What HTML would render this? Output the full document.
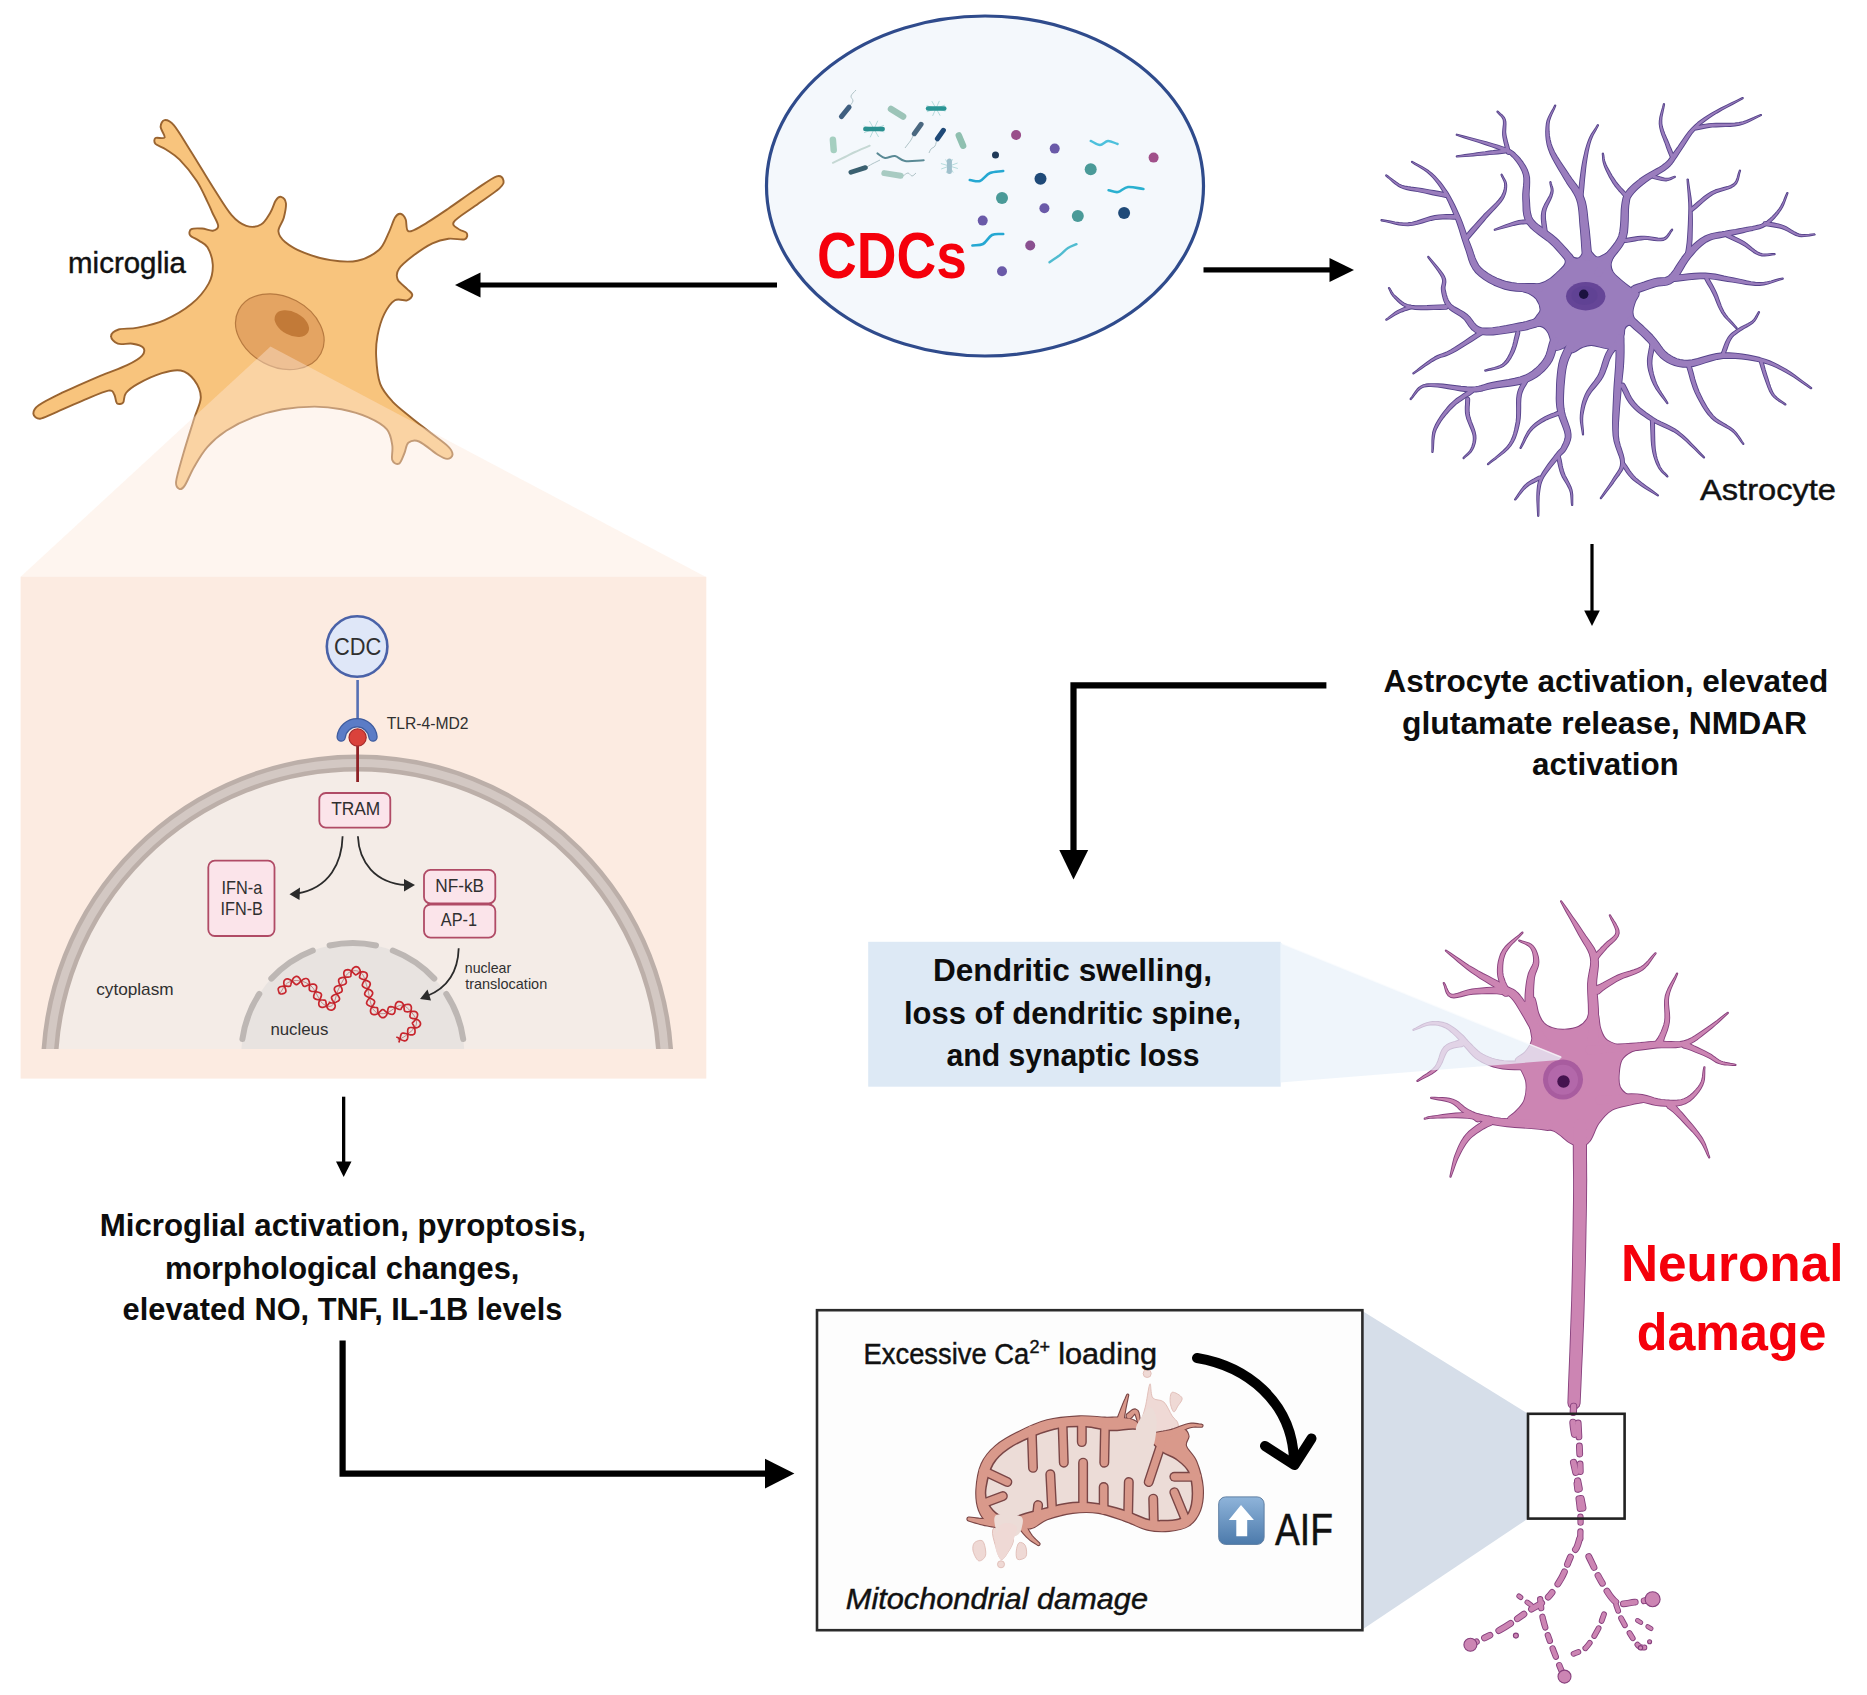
<!DOCTYPE html>
<html><head><meta charset="utf-8"><title>CDC neuroinflammation diagram</title>
<style>html,body{margin:0;padding:0;background:#fff;}svg{display:block;}</style></head>
<body><svg width="1867" height="1695" viewBox="0 0 1867 1695" font-family='"Liberation Sans", sans-serif'><rect x="20.6" y="576.7" width="685.7" height="501.9" fill="#fcebe1"/>
<path d="M164.6 120.1C166.8 119.9 169.5 120.1 174 125.4C178.5 130.8 184.9 142 191.4 152.2C197.9 162.5 206.1 176.5 212.8 187C219.5 197.5 226 208.7 231.6 215.2C237.1 221.6 241.4 224.3 246.3 225.9C251.2 227.4 257 226.8 261 224.5C265 222.3 267.9 216.5 270.4 212.5C272.9 208.5 274 203 275.8 200.4C277.5 197.8 279.4 196.5 281.1 196.9C282.8 197.4 285.5 199.6 285.9 203.1C286.4 206.6 285 213.1 283.8 217.8C282.5 222.5 278.2 227.2 278.4 231.2C278.7 235.2 280.9 238.4 285.1 241.9C289.4 245.5 296.3 249.6 303.9 252.7C311.5 255.7 321.7 258.8 330.7 260.1C339.6 261.5 349.4 262.4 357.4 260.7C365.5 259 373.7 254.4 378.9 250C384 245.5 385.6 239.3 388.2 233.9C390.9 228.5 392.9 221.2 394.9 217.8C396.9 214.5 398.5 213.6 400.3 213.8C402.1 214 404.3 216.3 405.6 219.2C407 222.1 405.6 230.1 408.3 231.2C411 232.3 415 229.7 421.7 225.9C428.4 222.1 439.6 214.5 448.5 208.5C457.4 202.4 467.2 195.1 475.3 189.7C483.3 184.4 492 177.9 496.7 176.3C501.4 174.8 502.9 178.3 503.4 180.3C503.8 182.4 504.1 184.1 499.4 188.4C494.7 192.6 482.9 200.2 475.3 205.8C467.7 211.4 456.5 217.9 453.9 221.9C451.2 225.8 457.1 227.5 459.2 229.4C461.3 231.2 465.8 231.4 466.7 233.1C467.6 234.8 467.6 238.3 464.6 239.3C461.5 240.2 453.9 238.1 448.5 238.7C443.1 239.4 438.2 240.5 432.4 243.3C426.6 246 419.3 251.1 413.7 255.3C408.1 259.6 401.6 264.7 399 268.7C396.3 272.7 396.3 276.1 397.6 279.4C399 282.8 404.5 286.2 407 288.8C409.4 291.4 412.3 293 412.3 295C412.3 296.9 409.9 299.4 407 300.3C404.1 301.2 398.7 298 394.9 300.3C391.1 302.6 387.1 308.4 384.2 314.2C381.3 320.1 378.9 328.5 377.5 335.7C376.2 342.8 375.7 349.1 376.2 357.1C376.6 365.1 377.5 376.5 380.2 383.9C382.9 391.2 387.1 395.7 392.3 401.3C397.4 406.9 404.8 412.2 411 417.4C417.3 422.5 423.5 427.2 429.7 432.1C436 437 444.7 443 448.5 446.8C452.3 450.6 452.7 452.8 452.5 454.8C452.3 456.9 449.6 458.9 447.2 458.9C444.7 458.9 442.5 457.7 437.8 454.8C433.1 451.9 423.9 443.5 419 441.5C414.1 439.4 410.8 440.8 408.3 442.8C405.9 444.8 405.9 450 404.3 453.5C402.7 457 401 462.6 399 463.7C396.9 464.8 393.4 463.2 392.3 460.2C391.1 457.2 393.1 450.6 392.3 445.5C391.4 440.3 390.9 434.1 386.9 429.4C382.9 424.7 375.7 420.7 368.2 417.4C360.6 414 350.3 411.1 341.4 409.3C332.4 407.5 324.4 406.6 314.6 406.6C304.8 406.6 292.7 407.5 282.5 409.3C272.2 411.1 262.4 413.8 253 417.4C243.6 420.9 233.8 425.8 226.2 430.7C218.6 435.7 212.8 440.8 207.5 446.8C202.1 452.8 197.9 460.4 194.1 466.9C190.3 473.4 187.2 482 184.7 485.6C182.2 489.3 180.8 489.5 179.3 488.9C177.9 488.2 175.5 487.5 176.1 481.6C176.8 475.7 180.4 464 183.4 453.5C186.4 443 191.2 428.1 194.1 418.7C197 409.3 200.8 403.7 200.8 397.3C200.8 390.8 197.4 384.3 194.1 379.9C190.7 375.4 186 371.6 180.7 370.5C175.3 369.4 169.1 370.9 161.9 373.2C154.8 375.4 143.9 380.5 137.8 383.9C131.8 387.2 128.2 390.1 125.8 393.3C123.3 396.4 124.6 401 123.1 402.6C121.6 404.3 118.4 404.5 116.9 403.2C115.5 401.8 115.7 396.7 114.3 394.6C112.8 392.5 113.4 389.7 108.4 390.6C103.4 391.5 93.2 396.2 84.3 399.9C75.3 403.7 62.2 409.7 54.8 412.8C47.5 415.9 43.7 418.5 40.1 418.7C36.5 418.9 33.6 416.1 33.4 413.9C33.2 411.6 33.8 408.9 38.7 405.3C43.7 401.7 52.6 397.4 62.8 392.4C73.1 387.5 89.6 380.4 100.3 375.8C111.1 371.3 120.2 368.5 127.1 365.1C134 361.8 139.2 358.7 141.9 355.8C144.5 352.9 144.8 349.7 143.2 347.7C141.6 345.7 136.7 344.4 132.5 343.7C128.2 343 121.3 345 117.8 343.7C114.2 342.5 110.9 338.6 111.1 336.2C111.2 333.8 114.1 330.9 118.6 329.5C123 328.1 130.2 329.2 137.8 327.6C145.5 326.1 155.7 324.1 164.6 320.1C173.5 316.2 184 310.2 191.4 304.1C198.8 298 205.2 290 208.8 283.4C212.4 276.9 213 270.7 212.8 264.7C212.6 258.7 209.8 251.3 207.5 247.3C205.1 243.3 201.8 242.6 198.9 240.6C196 238.6 191.3 237.2 190.1 235.2C188.8 233.3 189.4 230.2 191.4 229.1C193.4 228 198.5 228.3 202.1 228.5C205.7 228.8 210.1 231.1 212.8 230.7C215.5 230.2 218.3 228.9 218.2 225.9C218.1 222.8 214.1 216.5 212.3 212.5C210.5 208.5 210.1 207 207.5 201.8C204.9 196.5 201.4 187.9 196.8 180.9C192.1 173.9 184.7 164.9 179.6 159.7C174.5 154.5 170 152.2 166 149.5C161.9 146.9 157.3 145.8 155.5 143.9C153.8 142 154 139.1 155.5 138C157 137 163.8 139.4 164.6 137.5C165.5 135.6 160.6 129.7 160.6 126.8C160.6 123.9 162.4 120.3 164.6 120.1Z" fill="#f8c47d" stroke="#9a6430" stroke-width="1.9" stroke-linejoin="round"/><ellipse cx="279.8" cy="331.7" rx="46.5" ry="35" transform="rotate(28 279.8 331.7)" fill="#e4a462" stroke="#b77a40" stroke-width="1.2"/><ellipse cx="291.8" cy="323.6" rx="18.5" ry="11.5" transform="rotate(28 291.8 323.6)" fill="#c27a38"/>
<polygon points="270.5,346.5 20.6,576.7 705.5,576.7" fill="#fce6da" fill-opacity="0.42"/>
<defs><clipPath id="cpan"><rect x="20" y="576" width="687" height="473"/></clipPath></defs><g clip-path="url(#cpan)"><circle cx="357.3" cy="1071" r="300" fill="#f4ece7"/><circle cx="357.3" cy="1071" r="308" fill="none" stroke="#bcafa9" stroke-width="17"/><circle cx="357.3" cy="1071" r="308" fill="none" stroke="#d3c8c3" stroke-width="8"/><circle cx="352.8" cy="1054.6" r="111.5" fill="#e8e3e0"/><path d="M242.4 1039.1A111.5 111.5 0 0 1 259.3 993.9" fill="none" stroke="#bdb7b4" stroke-width="6" stroke-linecap="round"/><path d="M271.3 978.6A111.5 111.5 0 0 1 312.8 950.5" fill="none" stroke="#bdb7b4" stroke-width="6" stroke-linecap="round"/><path d="M329.6 945.5A111.5 111.5 0 0 1 376 945.5" fill="none" stroke="#bdb7b4" stroke-width="6" stroke-linecap="round"/><path d="M392.8 950.5A111.5 111.5 0 0 1 434.3 978.6" fill="none" stroke="#bdb7b4" stroke-width="6" stroke-linecap="round"/><path d="M446.3 993.9A111.5 111.5 0 0 1 463.2 1039.1" fill="none" stroke="#bdb7b4" stroke-width="6" stroke-linecap="round"/></g><line x1="357.6" y1="680" x2="357.6" y2="722" stroke="#5670b4" stroke-width="2.6"/><circle cx="357.1" cy="646.5" r="30.3" fill="#dfe7f8" stroke="#4a62a8" stroke-width="2.6"/><line x1="357.6" y1="742" x2="357.6" y2="782" stroke="#8e2226" stroke-width="2.8"/><path d="M341.2 737A16 16 0 0 1 373 737" fill="none" stroke="#3f5c9e" stroke-width="9.5" stroke-linecap="round"/><path d="M341.2 737A16 16 0 0 1 373 737" fill="none" stroke="#5b7cc6" stroke-width="7" stroke-linecap="round"/><circle cx="357.6" cy="737.5" r="8.6" fill="#da423b" stroke="#a52a2a" stroke-width="1.2"/><rect x="319.3" y="793" width="71" height="34.6" rx="6.5" fill="#fbe4ea" stroke="#b04b66" stroke-width="1.8"/><rect x="208.3" y="860.7" width="66.2" height="75.3" rx="6.5" fill="#fbe4ea" stroke="#b04b66" stroke-width="1.8"/><rect x="424" y="869.9" width="71.3" height="33.5" rx="6.5" fill="#fbe4ea" stroke="#b04b66" stroke-width="1.8"/><rect x="424" y="904.5" width="71.3" height="33.1" rx="6.5" fill="#fbe4ea" stroke="#b04b66" stroke-width="1.8"/><path d="M342.6 836.3C342 862 330 888 297 893.5" fill="none" stroke="#2b2b2b" stroke-width="1.8"/><polygon points="289.5,894.3 300,887.5 299.5,900" fill="#2b2b2b"/><path d="M357.9 836.3C359 862 375 883 406 885" fill="none" stroke="#2b2b2b" stroke-width="1.8"/><polygon points="415,885.1 404,879 404,891.5" fill="#2b2b2b"/><path d="M458.7 948.2C458 972 447 988 427 996" fill="none" stroke="#2b2b2b" stroke-width="1.8"/><polygon points="420,999.1 427.5,989.5 431,1000.5" fill="#2b2b2b"/><path d="M279.6 994 280.8 994 282 993.9 283.1 993.7 284 993.4 284.8 992.9 285.4 992.4 285.8 991.8 285.9 991 285.8 990.1 285.6 989.2 285.2 988.1 284.8 987.1 284.4 985.9 284.1 984.8 283.8 983.7 283.8 982.6 283.9 981.6 284.2 980.7 284.8 980 285.4 979.4 286.2 979 287.1 978.9 288 978.9 288.9 979.2 289.8 979.6 290.7 980.1 291.6 980.8 292.4 981.5 293.2 982.2 293.9 982.9 294.5 983.5 295.1 984 295.7 984.4 296.2 984.6 296.7 984.6 297.2 984.4 297.8 984.1 298.3 983.6 299 983.1 299.6 982.4 300.4 981.7 301.1 981 302 980.3 302.8 979.6 303.7 979.1 304.6 978.7 305.5 978.5 306.3 978.5 307.1 978.7 307.8 979.1 308.4 979.7 308.8 980.6 309.2 981.6 309.4 982.7 309.5 983.9 309.5 985.2 309.4 986.4 309.3 987.6 309.3 988.6 309.3 989.5 309.5 990.1 309.9 990.6 310.6 991 311.7 991.3 313.2 991.5 314.9 991.7 316.7 991.9 318.4 992.2 319.8 992.7 320.8 993.4 321.4 994.4 321.4 995.6 321 996.9 320.4 998.4 319.8 999.9 319.2 1001.4 318.8 1002.8 318.8 1004.1 319 1005.3 319.5 1006.2 320.2 1006.8 321 1007.2 321.9 1007.3 322.8 1007.3 323.8 1007.2 324.8 1006.8 325.7 1006.4 326.6 1005.9 327.4 1005.3 328 1004.7 328.5 1004.1 328.9 1003.6 329.2 1003.1 329.4 1002.7 329.5 1002.5 329.5 1002.3 329.6 1002.3 329.7 1002.3 329.9 1002.4 330.2 1002.6 330.6 1002.9 331.3 1003 332.3 1003 333.4 1002.9 334.7 1002.6 336 1002.2 337.2 1001.6 338.3 1001 339.1 1000.2 339.5 999.3 339.5 998.2 339 997.1 338.3 995.9 337.3 994.6 336.2 993.2 335.3 991.8 334.6 990.5 334.3 989.2 334.5 988.1 335 987.2 335.9 986.5 337.1 986 338.6 985.7 340.4 985.4 342.1 985.1 343.7 984.7 345 984.2 345.9 983.5 346.3 982.6 346.3 981.4 345.9 980 345.3 978.5 344.7 976.9 344.1 975.4 343.8 973.9 343.8 972.6 344.2 971.5 344.8 970.7 345.7 970.1 346.7 969.8 347.8 969.7 348.9 969.9 350 970.3 351.1 970.9 352 971.6 352.8 972.3 353.5 973 354.1 973.7 354.6 974.2 355.1 974.6 355.5 974.8 355.9 974.8 356.4 974.7 356.9 974.4 357.4 974 358.1 973.5 358.8 973 359.7 972.5 360.6 972.1 361.6 971.8 362.6 971.7 363.7 971.8 364.7 972 365.6 972.5 366.4 973 366.9 973.7 367.2 974.6 367.3 975.5 367.1 976.5 366.6 977.6 365.9 978.7 365.1 979.9 364.2 981 363.4 982.2 362.8 983.3 362.4 984.4 362.3 985.4 362.7 986.3 363.5 987.1 364.6 987.7 366 988.3 367.7 988.9 369.5 989.6 371.1 990.5 372.2 991.6 372.7 992.8 372.5 994.2 371.6 995.7 370.2 997.3 368.6 999 367.4 1000.6 366.7 1002.1 366.6 1003.5 367.3 1004.7 368.6 1005.6 370.2 1006.3 372 1006.9 373.6 1007.2 374.9 1007.4 375.9 1007.5 376.7 1007.6 377.2 1007.8 377.5 1008.1 377.6 1008.5 377.7 1009.1 377.7 1009.9 377.8 1010.8 377.9 1011.7 378.2 1012.8 378.5 1013.8 379 1014.8 379.6 1015.7 380.3 1016.5 381.1 1017.1 381.9 1017.6 382.7 1017.7 383.6 1017.7 384.3 1017.4 385.1 1016.8 385.9 1016 386.6 1015 387.1 1013.7 387.5 1012.3 387.7 1010.8 387.9 1009.4 388.2 1008.2 388.7 1007.3 389.5 1006.8 390.7 1006.7 392.1 1006.8 393.7 1007.3 395.4 1007.9 397 1008.5 398.3 1009.1 399.4 1009.4 400.2 1009.5 400.7 1009.4 401.1 1009.1 401.3 1008.5 401.5 1007.9 402.1 1007.1 402.9 1006.3 403.9 1005.6 405.1 1004.9 406.4 1004.5 407.7 1004.3 409 1004.4 410 1004.8 410.7 1005.5 411.2 1006.6 411.4 1007.8 411.3 1009.2 411 1010.7 410.7 1012.1 410.3 1013.5 410.1 1014.7 409.9 1015.7 410 1016.6 410.2 1017.2 410.6 1017.7 411 1018 411.6 1018.3 412.2 1018.4 413 1018.6 413.8 1018.7 414.7 1018.9 415.6 1019.1 416.5 1019.3 417.4 1019.7 418.2 1020.1 418.9 1020.6 419.5 1021.2 420 1021.9 420.3 1022.6 420.5 1023.3 420.5 1024.1 420.3 1024.9 420 1025.6 419.5 1026.2 418.9 1026.8 418 1027.3 417 1027.7 415.9 1027.8 414.8 1027.9 413.6 1027.8 412.4 1027.6 411.3 1027.5 410.2 1027.5 409.4 1027.7 408.7 1028 408.2 1028.6 407.9 1029.3 407.7 1030.3 407.7 1031.5 407.7 1032.7 407.7 1034 407.8 1035.2 407.8 1036.4 407.7 1037.4 407.6 1038.2 407.4 1038.9 407 1039.6 406.6 1040.1 406.1 1040.4 405.5 1040.7 404.9 1040.8 404.3 1040.8 403.7 1040.7 403.1 1040.5 402.5 1040.3 401.8 1040 401.2 1039.7 400.6 1039.3 400 1038.9 399.4 1038.6 398.8 1038.2 398.2 1037.8 397.5 1037.5 396.9 1037.3 396.3 1037.1" fill="none" stroke="#c8262e" stroke-width="1.7"/><path d="M279.6 994 279.2 992.9 278.8 991.8 278.5 990.8 278.3 989.9 278.2 989 278.4 988.3 278.8 987.7 279.4 987.2 280.2 986.8 281.2 986.5 282.3 986.3 283.5 986.2 284.7 986.1 285.9 986.2 286.9 986.2 287.9 986.3 288.6 986.3 289.2 986.4 289.6 986.3 290 986.2 290.2 985.9 290.5 985.5 290.7 984.9 290.9 984.2 291.1 983.4 291.4 982.4 291.8 981.4 292.2 980.4 292.7 979.4 293.2 978.5 293.9 977.7 294.6 977.1 295.3 976.7 296.1 976.4 296.8 976.4 297.6 976.6 298.3 977 299 977.6 299.6 978.4 300.2 979.2 300.7 980.1 301.1 981.1 301.5 982.1 301.9 983 302.2 983.9 302.6 984.7 303 985.4 303.4 985.9 303.8 986.2 304.4 986.3 305 986.3 305.8 986.1 306.6 985.8 307.6 985.4 308.7 985 309.9 984.6 311.2 984.3 312.4 984.1 313.6 984.1 314.7 984.3 315.6 984.9 316.3 985.7 316.7 986.8 316.6 988.2 316.2 989.7 315.6 991.3 314.8 992.9 314.1 994.5 313.7 995.9 313.7 997.2 314.2 998.1 315.2 998.9 316.5 999.4 318.1 999.7 319.8 999.9 321.4 1000 322.7 1000 323.8 1000.1 324.6 1000.1 325.1 1000.2 325.4 1000.5 325.7 1001 325.9 1001.6 326 1002.3 326.1 1003.1 326.2 1004 326.4 1005 326.6 1005.9 326.9 1006.9 327.3 1007.8 327.8 1008.6 328.5 1009.2 329.3 1009.7 330.1 1010 331 1010.2 331.9 1010.1 332.8 1009.8 333.6 1009.3 334.3 1008.6 334.8 1007.8 335.1 1006.7 335.2 1005.6 334.9 1004.5 334.4 1003.3 333.8 1002.2 333 1001.1 332.3 1000 331.8 999 331.5 998 331.6 997.1 332.1 996.3 333.1 995.5 334.4 994.8 335.9 994.2 337.6 993.6 339.1 993.1 340.4 992.6 341.4 992 341.9 991.4 342.2 990.6 342.1 989.6 341.8 988.3 341.1 986.9 340.3 985.4 339.5 983.8 338.9 982.3 338.6 980.9 338.7 979.7 339.3 978.7 340.4 978.1 341.8 977.6 343.5 977.4 345.2 977.3 346.8 977.2 348.2 977.2 349.3 977 350.1 976.8 350.6 976.5 350.8 976 350.9 975.4 350.9 974.7 351 973.8 351.1 972.8 351.4 971.7 351.7 970.6 352.2 969.6 352.8 968.6 353.5 967.8 354.4 967.2 355.2 966.8 356.1 966.6 357 966.8 357.8 967.1 358.6 967.7 359.2 968.5 359.7 969.4 360.1 970.3 360.3 971.4 360.4 972.4 360.4 973.4 360.2 974.2 360 975 359.8 975.7 359.6 976.4 359.5 976.9 359.6 977.4 359.9 977.9 360.5 978.3 361.2 978.7 362.3 979.1 363.5 979.5 364.8 980 366.2 980.4 367.5 980.9 368.7 981.5 369.6 982.2 370.1 983 370.3 983.9 370.1 984.9 369.6 986.1 368.8 987.5 367.7 988.9 366.4 990.4 365.4 991.8 364.7 993.2 364.7 994.4 365.5 995.6 366.9 996.6 368.9 997.6 370.9 998.5 372.7 999.4 374 1000.4 374.6 1001.5 374.5 1002.7 373.9 1004 373 1005.4 372 1006.9 371.1 1008.3 370.6 1009.8 370.5 1011.1 370.7 1012.3 371.1 1013.2 371.9 1014 372.8 1014.4 373.8 1014.7 374.9 1014.6 375.9 1014.4 377 1014 377.9 1013.4 378.8 1012.7 379.6 1012 380.3 1011.3 380.9 1010.7 381.4 1010.2 381.9 1009.8 382.5 1009.6 383 1009.6 383.6 1009.8 384.3 1010.2 384.9 1010.8 385.7 1011.5 386.6 1012.3 387.9 1013.1 389.2 1013.7 390.7 1014.1 392.1 1014.3 393.2 1014.1 394.1 1013.4 394.7 1012.4 395 1011 395.1 1009.3 395.2 1007.6 395.3 1005.9 395.6 1004.3 396.2 1003.1 397.1 1002.2 398.1 1001.7 399.4 1001.6 400.7 1001.9 401.9 1002.5 402.8 1003.5 403.4 1004.6 403.8 1005.9 404 1007.2 404.1 1008.4 404.2 1009.5 404.4 1010.4 404.8 1011.1 405.3 1011.5 406.2 1011.7 407.3 1011.8 408.6 1011.7 410.1 1011.5 411.6 1011.4 413 1011.3 414.3 1011.4 415.4 1011.6 416.2 1012 416.8 1012.5 417.2 1013.1 417.5 1013.8 417.6 1014.6 417.5 1015.4 417.3 1016.3 417 1017.2 416.6 1018.1 416.1 1018.9 415.5 1019.6 415 1020.3 414.4 1020.9 413.9 1021.4 413.5 1021.9 413 1022.2 412.7 1022.5 412.5 1022.8 412.4 1023 412.4 1023.3 412.5 1023.6 412.7 1023.9 412.9 1024.4 413.3 1024.9 413.7 1025.6 414.1 1026.5 414.4 1027.6 414.7 1028.8 415 1030 415 1031.2 415 1032.3 414.7 1033.3 414.2 1034.1 413.5 1034.6 412.6 1034.9 411.5 1034.9 410.3 1034.8 409.1 1034.5 407.9 1034.1 406.7 1033.8 405.6 1033.5 404.6 1033.3 403.8 1033.2 403.1 1033.1 402.6 1033.1 402.2 1033.2 401.8 1033.4 401.6 1033.6 401.3 1034 401.1 1034.4 400.9 1034.8 400.8 1035.4 400.6 1035.9 400.4 1036.6 400.2 1037.2 400.1 1037.9 399.9 1038.6 399.7 1039.3 399.6 1040 399.4 1040.6 399.3 1041.3 399.1 1041.9 398.9 1042.5" fill="none" stroke="#c8262e" stroke-width="1.7"/><path d="M279.6 994C282.3 990.3 284.3 985 287.7 982.8C291.1 980.6 295.8 980.1 299.9 980.8C303.9 981.5 308.3 983.2 312 986.9C315.7 990.6 318.9 1000.2 322.3 1003.2C325.7 1006.2 329.8 1007.6 332.5 1005.2C335.2 1002.8 335.9 994.3 338.6 988.9C341.3 983.5 345.1 975.3 348.8 972.6C352.5 969.9 357.9 970.2 361 972.6C364.1 975 365.1 980.8 367.1 986.9C369.1 993 370.1 1004.9 373.2 1009.3C376.2 1013.7 380.6 1014.1 385.4 1013.4C390.1 1012.7 396.9 1004.9 401.7 1005.2C406.4 1005.5 411.5 1012 413.9 1015.4C416.3 1018.8 417.3 1022.2 415.9 1025.6C414.5 1029 408.8 1033.3 405.7 1035.7C402.6 1038.1 400.3 1038.4 397.6 1039.8" fill="none" stroke="#9a1f26" stroke-width="0.8" stroke-opacity="0.6"/><text x="333.9" y="654.6" font-size="24" fill="#303030" textLength="47.3" lengthAdjust="spacingAndGlyphs">CDC</text><text x="386.7" y="729.3" font-size="16.5" fill="#303030" textLength="81.9" lengthAdjust="spacingAndGlyphs">TLR-4-MD2</text><text x="331.2" y="814.9" font-size="17.8" fill="#303030" textLength="49.1" lengthAdjust="spacingAndGlyphs">TRAM</text><text x="221.5" y="893.7" font-size="17.7" fill="#303030" textLength="40.8" lengthAdjust="spacingAndGlyphs">IFN-a</text><text x="220.5" y="914.6" font-size="17.7" fill="#303030" textLength="42.4" lengthAdjust="spacingAndGlyphs">IFN-B</text><text x="435.3" y="892.3" font-size="17.7" fill="#303030" textLength="48.8" lengthAdjust="spacingAndGlyphs">NF-kB</text><text x="440.8" y="925.8" font-size="17.7" fill="#303030" textLength="36.2" lengthAdjust="spacingAndGlyphs">AP-1</text><text x="96.2" y="995.3" font-size="17" fill="#303030" textLength="77.4" lengthAdjust="spacingAndGlyphs">cytoplasm</text><text x="270.4" y="1034.7" font-size="17" fill="#303030" textLength="58" lengthAdjust="spacingAndGlyphs">nucleus</text><text x="464.8" y="972.6" font-size="14.5" fill="#303030" textLength="46.4" lengthAdjust="spacingAndGlyphs">nuclear</text><text x="465.2" y="988.9" font-size="14.5" fill="#303030" textLength="82" lengthAdjust="spacingAndGlyphs">translocation</text>
<ellipse cx="985" cy="186" rx="218.5" ry="170" fill="#f4f8fc" stroke="#2f4b8c" stroke-width="3.2"/>
<g stroke="#9ccfcf" stroke-width="0.9" stroke-opacity="0.8"><line x1="874" y1="129" x2="884.3" y2="132"/><line x1="874" y1="129" x2="878.6" y2="137"/><line x1="874" y1="129" x2="870.2" y2="137.3"/><line x1="874" y1="129" x2="864" y2="132.7"/><line x1="874" y1="129" x2="863.7" y2="126"/><line x1="874" y1="129" x2="869.4" y2="121"/><line x1="874" y1="129" x2="877.8" y2="120.7"/><line x1="874" y1="129" x2="884" y2="125.3"/><line x1="936" y1="108.4" x2="945.4" y2="111.1"/><line x1="936" y1="108.4" x2="940.2" y2="115.7"/><line x1="936" y1="108.4" x2="932.6" y2="115.9"/><line x1="936" y1="108.4" x2="926.9" y2="111.8"/><line x1="936" y1="108.4" x2="926.6" y2="105.7"/><line x1="936" y1="108.4" x2="931.8" y2="101.1"/><line x1="936" y1="108.4" x2="939.4" y2="100.9"/><line x1="936" y1="108.4" x2="945.1" y2="105"/><line x1="949.4" y1="166" x2="946.3" y2="172.8"/><line x1="949.4" y1="166" x2="941.2" y2="169"/><line x1="949.4" y1="166" x2="940.9" y2="163.5"/><line x1="949.4" y1="166" x2="945.6" y2="159.5"/><line x1="949.4" y1="166" x2="952.5" y2="159.2"/><line x1="949.4" y1="166" x2="957.6" y2="163"/><line x1="949.4" y1="166" x2="957.9" y2="168.5"/><line x1="949.4" y1="166" x2="953.2" y2="172.5"/></g><path d="M849 107C850.3 105 852.7 102.8 853 101C853.3 99.2 850.5 97.8 851 96C851.5 94.2 854.3 92 856 90" fill="none" stroke="#b0c4c8" stroke-width="1"/><path d="M914 134C913 136 912 138.3 911 140C910 141.7 909 142.7 908 144C907 145.3 906 146.7 905 148" fill="none" stroke="#b0c4c8" stroke-width="1"/><path d="M937 139C936.3 141.3 936 144.3 935 146C934 147.7 932 147.8 931 149C930 150.2 929.7 151.7 929 153" fill="none" stroke="#b0c4c8" stroke-width="1"/><path d="M865 168C867.3 166.7 870.2 165 872 164C873.8 163 874.7 162.7 876 162C877.3 161.3 878.7 160.7 880 160" fill="none" stroke="#b0c4c8" stroke-width="1"/><path d="M903 176C904.7 175 906.5 173 908 173C909.5 173 910.7 176 912 176C913.3 176 914.7 174 916 173" fill="none" stroke="#b0c4c8" stroke-width="1"/><line x1="841.4" y1="116.6" x2="849.1" y2="107.1" stroke="#3f5f80" stroke-width="5" stroke-linecap="round"/><line x1="865.4" y1="129" x2="882.6" y2="129" stroke="#2a9090" stroke-width="4.7" stroke-linecap="round"/><line x1="891" y1="108.9" x2="903.1" y2="116.6" stroke="#9cc4b8" stroke-width="6.5" stroke-linecap="round"/><line x1="928" y1="108.4" x2="944.3" y2="108.4" stroke="#2a9595" stroke-width="4.5" stroke-linecap="round"/><line x1="914.3" y1="133.7" x2="921.1" y2="124.3" stroke="#4a6880" stroke-width="5" stroke-linecap="round"/><line x1="937.4" y1="138.8" x2="943.4" y2="130.3" stroke="#1f4a78" stroke-width="5" stroke-linecap="round"/><line x1="958.8" y1="135.4" x2="963.1" y2="145.7" stroke="#8fc0b0" stroke-width="6.5" stroke-linecap="round"/><line x1="832.9" y1="139.7" x2="833.7" y2="150" stroke="#a5cfc0" stroke-width="6.5" stroke-linecap="round"/><line x1="850.9" y1="172.3" x2="865.4" y2="167.6" stroke="#3a6070" stroke-width="4.8" stroke-linecap="round"/><line x1="884.3" y1="173.1" x2="900.6" y2="175.7" stroke="#a8cbc2" stroke-width="6" stroke-linecap="round"/><line x1="949.4" y1="161.1" x2="949.4" y2="171.4" stroke="#a0c0cc" stroke-width="5" stroke-linecap="round"/><path d="M832.9 162.8C836.9 160.9 841.3 158.8 845 157C848.7 155.2 850.9 153.9 855 152C859.1 150.1 864.8 147.8 869.7 145.7" fill="none" stroke="#c5d8d4" stroke-width="2" stroke-linecap="round"/><path d="M877.4 153.4C879.9 154.9 882.1 157.6 885 158C887.9 158.4 891.7 155.5 895 156C898.3 156.5 900.2 160.3 905 161C909.8 161.7 917.5 160.5 923.7 160.3" fill="none" stroke="#5a8a95" stroke-width="2" stroke-linecap="round"/><path d="M969.8 180C973.2 180.3 976.6 182.2 980 181C983.4 179.8 986.1 174.7 990 173C993.9 171.3 998.8 171.7 1003.2 171" fill="none" stroke="#25a8d2" stroke-width="2.6" stroke-linecap="round"/><path d="M1090.7 140.9C1093.8 142.3 1097.1 145 1100 145C1102.9 145 1105.1 141.2 1108 141C1110.9 140.8 1114.4 143 1117.6 144" fill="none" stroke="#4cc0dc" stroke-width="2.4" stroke-linecap="round"/><path d="M1108.6 190.3C1111.7 190.9 1114.8 192.6 1118 192C1121.2 191.4 1123.8 187.5 1128 187C1132.2 186.5 1138.3 188.3 1143.4 189" fill="none" stroke="#2ab0d0" stroke-width="2.6" stroke-linecap="round"/><path d="M972.4 245.5C975.9 245 979.7 245.8 983 244C986.3 242.2 988.6 236.7 992 235C995.4 233.3 999.5 234.3 1003.2 234" fill="none" stroke="#25a8d2" stroke-width="2.6" stroke-linecap="round"/><path d="M1049.5 262.2C1053 259.8 1056.9 257.4 1060 255C1063.1 252.6 1065.2 249.8 1068 248C1070.8 246.2 1073.7 245.5 1076.5 244.2" fill="none" stroke="#50bcd0" stroke-width="2.4" stroke-linecap="round"/><circle cx="1016.1" cy="135" r="5" fill="#9a4f8a"/><circle cx="1054.7" cy="148.6" r="5" fill="#6a5aa8"/><circle cx="995.5" cy="155" r="3.5" fill="#1f3a58"/><circle cx="1153.6" cy="157.6" r="5" fill="#a0508a"/><circle cx="1090.7" cy="169.2" r="6" fill="#4a9a98"/><circle cx="1040.5" cy="178.7" r="6" fill="#1f4a78"/><circle cx="1002" cy="198" r="6" fill="#4a9a98"/><circle cx="1044.4" cy="208.3" r="5" fill="#6a5aa8"/><circle cx="1077.8" cy="216" r="6" fill="#4a9a98"/><circle cx="1124.1" cy="212.9" r="6" fill="#1f4a78"/><circle cx="982.7" cy="220.6" r="5" fill="#6a5aa8"/><circle cx="1030.2" cy="245.5" r="5" fill="#8a5090"/><circle cx="1002" cy="271.2" r="5" fill="#6a5aa8"/>
<text x="817" y="277.6" font-size="65" text-anchor="start" font-weight="bold" fill="#f5000b" textLength="149.8" lengthAdjust="spacingAndGlyphs">CDCs</text>
<g fill="#000" stroke="none">
<rect x="478" y="282.5" width="299" height="5"/><polygon points="455,285 480.5,272.5 480.5,297.5"/>
<rect x="1203.5" y="267.3" width="127.5" height="5.2"/><polygon points="1354,270 1329.5,258 1329.5,282"/>
<rect x="1590.4" y="544" width="3.2" height="68"/><polygon points="1592,626 1584.2,610.5 1599.8,610.5"/>
<rect x="342" y="1096.7" width="3.3" height="66"/><polygon points="343.7,1177 336,1161.5 351.5,1161.5"/>
</g>
<polyline points="1326.4,685.3 1073.5,685.3 1073.5,852" fill="none" stroke="#000" stroke-width="6.2" stroke-linejoin="miter"/>
<polygon points="1073.5,879.5 1059.3,850 1088.2,850" fill="#000"/>
<polyline points="342.6,1340.4 342.6,1473.6 767,1473.6" fill="none" stroke="#000" stroke-width="6.2" stroke-linejoin="miter"/>
<polygon points="794.4,1473.6 765,1458.8 765,1488.4" fill="#000"/>
<g fill="#55438a" stroke="#55438a" stroke-width="1.8" stroke-linejoin="round"><path d="M1561.7 248.9C1562.7 248 1568.5 255.1 1571.3 256.6C1574.2 258.2 1576.4 259.4 1579.1 258.1C1581.7 256.8 1584.4 249.1 1587.3 248.9C1590.1 248.8 1593.6 256.2 1596.4 257.1C1599.2 258.1 1600.9 256.1 1604.1 254.7C1607.3 253.3 1614.6 247.5 1615.7 248.9C1616.8 250.4 1611.4 259.5 1610.9 263.4C1610.4 267.2 1611.2 269.3 1612.8 272.1C1614.4 274.8 1617.6 277.2 1620.5 279.8C1623.4 282.3 1627.1 285.2 1630.2 287.5C1633.2 289.7 1638 290.9 1638.8 293.3C1639.6 295.7 1636 298.9 1635 301.9C1633.9 305 1632.7 308.9 1632.6 311.6C1632.4 314.3 1633.1 316.3 1634 318.3C1634.9 320.4 1638.8 323 1637.9 324.1C1636.9 325.2 1630.4 324.3 1628.2 325.1C1626 325.9 1625.3 327.2 1624.6 328.9C1623.8 330.7 1624.7 332.3 1623.6 335.7C1622.5 339.1 1621 347.1 1618.1 349.2C1615.2 351.3 1610.5 348.9 1606.1 348.2C1601.6 347.5 1595.6 345.2 1591.6 345C1587.6 344.9 1585.2 346 1581.9 347.3C1578.7 348.5 1573.9 353 1571.8 352.5C1569.7 351.9 1570.9 344.8 1569.4 344.1C1567.9 343.4 1565.2 347.4 1562.7 348.2C1560.1 349 1556.4 351.6 1554 349C1551.6 346.4 1550.5 336.3 1548.2 332.5C1546 328.7 1543.7 327 1540.5 326.1C1537.3 325.1 1529.6 328.6 1528.9 327C1528.3 325.4 1534.7 319.3 1536.6 316.4C1538.6 313.5 1540.5 312.6 1540.5 309.7C1540.5 306.8 1538.6 301.8 1536.6 299.1C1534.7 296.3 1531.5 294.9 1528.9 293.3C1526.4 291.7 1518.5 291.3 1521.2 289.4C1523.9 287.5 1539.2 284.6 1545.3 281.7C1551.4 278.8 1554.5 275.3 1557.8 272.1C1561.2 268.8 1564.9 266.3 1565.6 262.4C1566.2 258.6 1560.7 249.9 1561.7 248.9Z"/><path d="M1539.8 284.3 1534 284 1528.1 283.9 1522.3 283.8 1516.8 283.6 1511.5 283 1506.6 282 1501.8 280.4 1496.9 278.5 1492.3 276.3 1487.9 273.8 1484.1 271.1 1480.8 268.3 1478.3 265.2 1476.4 261.8 1474.8 258 1473.3 253.8 1471.9 249.5 1470.2 245.1 1468.5 240.8 1466.9 236.3 1465.3 231.8 1463.7 227.2 1462 222.6 1460.2 218.1 1458.2 213.6 1456.2 209.2 1454.1 204.7 1451.9 200.4 1449.6 196.2 1447.3 192.3 1444.8 188.7 1442.4 185.3 1439.9 182 1437.2 179 1434.5 176.1 1431.6 173.5 1428.6 171.1 1425.4 169 1422.1 167.1 1418.8 165.3 1415.5 163.6 1412.2 161.7 1412.1 161.7 1411.9 161.7 1411.8 161.8 1411.8 161.9 1411.8 162 1411.9 162.1 1415.1 164.2 1418.3 166.1 1421.5 168.1 1424.7 170.1 1427.7 172.3 1430.5 174.8 1433.1 177.5 1435.6 180.4 1438 183.5 1440.3 186.8 1442.5 190.2 1444.7 193.9 1446.8 197.8 1448.8 201.9 1450.8 206.3 1452.7 210.7 1454.5 215.2 1456.2 219.7 1457.8 224.1 1459.3 228.7 1460.7 233.3 1462.1 237.9 1463.6 242.5 1465.1 246.9 1466.6 251.2 1467.9 255.6 1469.2 260 1470.9 264.4 1473.2 268.7 1476.2 272.6 1480 276.1 1484.3 279.3 1489.1 282.2 1494.1 284.8 1499.4 287 1504.7 288.8 1510.3 290.1 1516.2 290.8 1522.1 291.2 1527.9 291.3 1533.7 291.5 1539.4 291.8 1541.3 291.4 1542.7 290.1 1543.3 288.3 1542.9 286.4 1541.6 284.9Z"/><path d="M1446.3 193.3 1442.2 192.5 1438 191.7 1433.8 191 1429.7 190.3 1425.7 189.6 1421.8 188.9 1418.1 188.3 1414.5 187.9 1411 187.5 1407.7 187 1404.5 186.4 1401.6 185.5 1398.8 184.2 1396.3 182.6 1393.8 180.8 1391.4 179 1388.9 177.1 1386.4 175.3 1386.3 175.2 1386.2 175.2 1386.1 175.3 1386 175.4 1386 175.6 1386.1 175.7 1388.5 177.7 1390.7 179.7 1393 181.8 1395.4 183.8 1398 185.6 1400.8 187.2 1403.9 188.4 1407.2 189.3 1410.6 190 1414.1 190.6 1417.6 191.2 1421.3 191.9 1425.1 192.7 1429.1 193.6 1433.2 194.5 1437.3 195.3 1441.5 196.2 1445.6 197 1446.6 196.9 1447.4 196.4 1447.8 195.5 1447.8 194.5 1447.2 193.7Z"/><path d="M1456.8 215 1453.3 215 1449.8 215 1446.3 215 1442.7 215.1 1438.9 215.3 1434.8 215.9 1430.5 216.9 1426 218.3 1421.4 219.9 1416.8 221.4 1412.3 222.6 1407.9 223.2 1403.6 223.3 1399.2 222.9 1394.9 222.3 1390.4 221.5 1386 220.7 1381.6 220 1381.4 220 1381.3 220.1 1381.3 220.2 1381.3 220.3 1381.4 220.4 1381.5 220.5 1385.9 221.4 1390.2 222.5 1394.6 223.6 1399 224.6 1403.5 225.2 1408 225.4 1412.7 224.9 1417.5 223.9 1422.3 222.6 1426.9 221.2 1431.3 220 1435.4 219.2 1439.2 218.8 1442.8 218.6 1446.3 218.6 1449.8 218.7 1453.3 218.8 1456.9 218.8 1457.8 218.5 1458.5 217.8 1458.7 216.8 1458.5 215.9 1457.8 215.2Z"/><path d="M1467.9 239.3 1471.1 235.6 1474.3 231.8 1477.5 228.1 1480.6 224.4 1483.7 220.8 1486.6 217.3 1489.5 214.1 1492.5 210.9 1495.4 207.8 1498.1 204.9 1500.6 202 1502.5 199.2 1504 196.5 1505 193.9 1505.7 191.5 1506.1 189.2 1506.3 187 1506.3 184.9 1506 183 1505.4 181.1 1504.5 179.5 1503.6 177.9 1502.7 176.3 1501.8 174.7 1501.7 174.6 1501.6 174.5 1501.5 174.6 1501.4 174.7 1501.4 174.8 1501.4 174.9 1502.1 176.6 1502.9 178.2 1503.7 179.9 1504.4 181.5 1504.9 183.2 1505 185 1504.9 186.9 1504.6 189 1504.1 191.1 1503.3 193.2 1502.2 195.5 1500.7 197.9 1498.7 200.4 1496.2 203.1 1493.4 205.8 1490.3 208.8 1487.2 211.8 1484 215 1481 218.4 1477.8 221.9 1474.5 225.5 1471.2 229.2 1468 232.9 1464.7 236.5 1464.3 237.5 1464.3 238.6 1464.9 239.5 1465.9 239.9 1467 239.9Z"/><path d="M1572.2 255.7 1569.6 252.8 1567.1 249.9 1564.5 247 1561.8 244.1 1558.9 241 1555.6 237.9 1551.7 234.7 1547.3 231.6 1542.9 228.6 1538.8 225.6 1535.3 222.7 1532.8 219.8 1531.2 216.8 1530.3 213.6 1529.7 210.1 1529.4 206.3 1529.2 202.4 1528.9 198.4 1528.7 194.5 1528.9 190.5 1529.2 186.3 1529.3 182 1529.2 177.6 1528.3 173.5 1526.9 169.6 1525 165.9 1522.7 162.4 1520.3 159.2 1517.7 156.3 1515.1 153.8 1512.8 151.8 1510.5 150.3 1508.2 149.1 1505.5 148.1 1502.2 147 1498 145.6 1492.6 144 1486.1 142.1 1479 140.3 1471.5 138.3 1464 136.4 1456.9 134.5 1456.8 134.5 1456.7 134.6 1456.6 134.7 1456.6 134.8 1456.6 134.9 1456.8 135 1463.8 137.3 1471.1 139.7 1478.5 142 1485.5 144.3 1491.8 146.4 1497.1 148.3 1501.2 149.9 1504.3 151.1 1506.7 152.2 1508.7 153.3 1510.5 154.6 1512.5 156.5 1514.8 158.9 1517 161.7 1519.1 164.8 1521 168.1 1522.6 171.4 1523.7 174.7 1524.2 178.1 1524.2 181.9 1523.9 185.9 1523.4 190.1 1523.1 194.4 1523.1 198.6 1523.3 202.6 1523.4 206.6 1523.5 210.7 1524.1 214.9 1525.3 219.2 1527.4 223.4 1530.5 227.3 1534.5 230.9 1538.8 234.2 1543.2 237.4 1547.3 240.4 1550.7 243.3 1553.7 246.2 1556.4 249.1 1558.9 252 1561.5 254.9 1564 257.8 1566.6 260.7 1568.3 261.8 1570.2 261.9 1571.9 261 1573 259.4 1573.1 257.4Z"/><path d="M1505.5 149.5 1501.4 149.9 1497.4 150.4 1493.3 151 1489.2 151.5 1485.2 152.1 1481.1 152.6 1477.1 153.2 1473 153.8 1469 154.4 1464.9 155 1460.9 155.6 1456.8 156.2 1456.7 156.3 1456.6 156.4 1456.6 156.5 1456.6 156.6 1456.7 156.7 1456.9 156.7 1460.9 156.4 1465 156.2 1469.1 155.9 1473.2 155.6 1477.3 155.2 1481.4 154.9 1485.5 154.6 1489.5 154.2 1493.6 153.9 1497.7 153.5 1501.8 153.1 1505.8 152.6 1506.6 152.3 1507.1 151.7 1507.3 150.9 1507 150.1 1506.3 149.6Z"/><path d="M1509.9 152 1509.2 149.1 1508.4 146 1507.5 143.1 1506.8 140.1 1506.1 137.3 1505.6 134.6 1505.3 132 1505.4 129.4 1505.5 126.8 1505.6 124.3 1505.5 121.8 1505 119.6 1504.2 117.8 1503 116.3 1501.7 115 1500.3 113.9 1499 112.7 1497.7 111.5 1497.6 111.5 1497.5 111.5 1497.4 111.5 1497.3 111.6 1497.3 111.8 1497.3 111.9 1498.5 113.2 1499.8 114.5 1501 115.7 1502.1 117 1503 118.4 1503.6 120 1503.8 122 1503.8 124.2 1503.5 126.6 1503.2 129.3 1503 132.1 1503 134.9 1503.4 137.8 1504 140.8 1504.7 143.8 1505.4 146.8 1506.1 149.8 1506.8 152.8 1507.2 153.5 1507.9 153.9 1508.8 154 1509.5 153.6 1509.9 152.9Z"/><path d="M1528.6 220 1526.7 220.2 1524.9 220.3 1523.1 220.4 1521.1 220.6 1518.9 221 1516.2 221.6 1513.1 222.6 1509.7 223.8 1506 225.1 1502.2 226.6 1498.4 228.1 1494.7 229.5 1494.6 229.6 1494.6 229.7 1494.6 229.8 1494.6 229.9 1494.8 230 1494.9 230 1498.7 229 1502.6 227.9 1506.5 226.9 1510.3 225.9 1513.8 225 1516.8 224.3 1519.4 223.8 1521.5 223.6 1523.3 223.5 1525.1 223.4 1526.9 223.3 1528.9 223.2 1529.6 222.9 1530.2 222.3 1530.3 221.5 1530 220.7 1529.4 220.2Z"/><path d="M1546.9 232.3 1546.5 228.8 1546 225.4 1545.5 222 1545.1 218.7 1545 215.5 1545.2 212.4 1545.9 209.2 1547.2 205.9 1548.8 202.6 1550.4 199.3 1551.7 196.1 1552.5 193.3 1552.8 190.9 1552.6 188.8 1552.2 187.1 1551.6 185.5 1551.1 183.9 1550.7 182.2 1550.6 182.1 1550.5 182 1550.4 182 1550.3 182.1 1550.2 182.2 1550.2 182.3 1550.4 184 1550.8 185.7 1551.2 187.3 1551.5 189 1551.5 190.8 1551 192.9 1550.1 195.4 1548.5 198.3 1546.7 201.5 1544.8 204.8 1543.2 208.3 1542.2 211.8 1541.7 215.4 1541.7 218.9 1542 222.4 1542.4 225.9 1542.8 229.3 1543.1 232.6 1543.5 233.6 1544.2 234.2 1545.2 234.3 1546.1 234 1546.7 233.2Z"/><path d="M1591.3 256.5 1590.9 251.3 1590.4 246 1589.9 240.7 1589.4 235.4 1588.9 230.2 1588.3 225.3 1587.7 220.5 1587.2 215.8 1586.7 211.1 1586 206.4 1585 201.8 1583.5 197.4 1581.6 193.2 1579.3 189.4 1576.9 185.9 1574.3 182.6 1571.7 179.1 1569.1 175.3 1566.3 171 1563.1 166.3 1559.9 161.5 1556.9 156.7 1554.2 152.1 1552.2 147.7 1550.7 143.5 1549.7 139.4 1549 135.4 1548.7 131.4 1548.6 127.6 1548.7 124.1 1549.2 120.7 1550.2 117.6 1551.4 114.7 1552.8 111.7 1554.2 108.7 1555.4 105.7 1555.4 105.6 1555.4 105.5 1555.3 105.4 1555.2 105.4 1555 105.4 1555 105.5 1553.5 108.4 1551.9 111.2 1550.3 114.1 1548.8 117.1 1547.5 120.3 1546.7 123.8 1546.3 127.5 1546.1 131.5 1546.2 135.6 1546.6 139.9 1547.4 144.4 1548.7 149 1550.6 153.8 1553 158.9 1555.9 164 1558.8 169 1561.7 173.9 1564.3 178.3 1566.8 182.4 1569.3 186.2 1571.7 189.6 1573.8 192.9 1575.6 196.2 1577 199.7 1578.1 203.6 1578.8 207.6 1579.3 211.9 1579.7 216.5 1580 221.2 1580.4 226.1 1580.9 231 1581.3 236.1 1581.7 241.4 1582 246.7 1582.4 252 1582.8 257.2 1583.6 259.3 1585.3 260.7 1587.4 261.1 1589.5 260.4 1590.9 258.7Z"/><path d="M1582.4 198.8 1583 192.7 1583.6 186.5 1584.1 180.3 1584.7 174.3 1585.3 168.7 1585.9 163.5 1586.6 158.9 1587.3 154.6 1588 150.7 1588.8 147.1 1589.6 143.7 1590.6 140.5 1591.7 137.6 1592.9 134.9 1594.2 132.5 1595.5 130.2 1596.8 127.9 1598.1 125.4 1598.2 125.3 1598.1 125.1 1598.1 125.1 1597.9 125 1597.8 125.1 1597.7 125.1 1596.2 127.5 1594.7 129.7 1593.2 131.9 1591.7 134.3 1590.3 136.9 1589 139.9 1587.8 143.1 1586.7 146.5 1585.6 150.2 1584.7 154.1 1583.7 158.4 1582.8 163 1581.9 168.2 1581.1 173.9 1580.3 179.9 1579.6 186.1 1578.9 192.3 1578.2 198.3 1578.4 199.4 1579 200.2 1580.1 200.6 1581.1 200.5 1582 199.8Z"/><path d="M1538.6 318.1 1535.3 319 1532.3 320 1529.4 320.9 1526.4 321.8 1522.9 322.7 1518.6 323.5 1513 324.6 1506.4 325.9 1499.5 327.1 1492.6 328.1 1486.5 328.5 1481.8 328.3 1478.6 327.2 1476.1 325.4 1473.9 323 1471.7 320.1 1469.4 317.1 1466.6 314.4 1463.5 312.3 1460.4 310.5 1457.5 308.9 1454.7 307.4 1452.4 305.8 1450.5 304.1 1449 302.1 1447.8 299.8 1446.8 297.3 1446 294.7 1445.4 292.1 1444.8 289.8 1444.6 287.8 1444.8 286.1 1445.2 284.2 1445.5 282 1445.3 279.5 1444.3 276.7 1442.5 273.7 1440.1 270.5 1437.3 267.1 1434.3 263.6 1431.3 260.1 1428.5 256.7 1428.4 256.7 1428.3 256.7 1428.1 256.7 1428.1 256.8 1428.1 256.9 1428.1 257.1 1430.7 260.6 1433.4 264.3 1436.2 268 1438.7 271.5 1440.8 274.8 1442.3 277.7 1442.9 280 1442.9 281.9 1442.6 283.6 1442.1 285.6 1441.7 287.8 1441.8 290.2 1442.2 292.8 1442.8 295.5 1443.5 298.4 1444.4 301.2 1445.7 304 1447.5 306.7 1449.7 309 1452.4 311 1455.2 312.8 1458.1 314.6 1460.9 316.3 1463.4 318.2 1465.5 320.4 1467.4 323.2 1469.6 326.4 1472.3 329.6 1475.9 332.4 1480.6 334.1 1486.5 334.7 1493.2 334.5 1500.4 333.7 1507.6 332.7 1514.3 331.6 1519.8 330.7 1524.4 329.9 1528.2 329 1531.6 328 1534.6 327.1 1537.5 326.2 1540.6 325.3 1542.3 324.3 1543.2 322.6 1543.2 320.7 1542.2 319 1540.5 318.1Z"/><path d="M1446 305.1 1439.8 305.3 1433.4 305.6 1427.1 306 1421 306.2 1415.5 306.2 1410.9 305.7 1407.2 304.8 1404.2 303.5 1401.6 301.8 1399.4 300 1397.4 298.2 1395.5 296.5 1393.9 295.1 1392.7 293.6 1391.8 292.2 1391 290.8 1390.2 289.3 1389.2 287.9 1389.1 287.8 1389 287.8 1388.9 287.8 1388.8 287.9 1388.8 288 1388.8 288.1 1389.6 289.6 1390.3 291.1 1391 292.7 1391.9 294.2 1393 295.8 1394.5 297.5 1396.3 299.3 1398.2 301.3 1400.4 303.3 1403.1 305.3 1406.4 307 1410.5 308.3 1415.3 309 1421 309.3 1427.2 309.3 1433.6 309.2 1439.9 309 1446 308.9 1447 308.6 1447.7 307.9 1447.9 307 1447.6 306 1446.9 305.3Z"/><path d="M1410.2 305.7 1408.1 306.5 1406 307.3 1403.8 308.1 1401.7 309 1399.6 310 1397.5 311.1 1395.5 312.3 1393.6 313.7 1391.7 315.1 1389.8 316.6 1388 318.1 1386.2 319.5 1386.1 319.6 1386.1 319.7 1386.1 319.8 1386.2 319.9 1386.3 319.9 1386.4 319.9 1388.5 318.7 1390.5 317.5 1392.5 316.2 1394.5 315 1396.5 313.9 1398.5 312.9 1400.5 312 1402.6 311.3 1404.7 310.5 1406.9 309.8 1409 309.1 1411.2 308.3 1411.8 307.9 1412.1 307.2 1412 306.5 1411.6 305.9 1410.9 305.6Z"/><path d="M1480.2 331 1475.1 334.3 1469.8 337.8 1464.5 341.4 1459.5 344.7 1454.8 347.8 1450.7 350.3 1447.4 352.1 1444.7 353.2 1442.4 354 1440.1 354.8 1437.5 355.9 1434.6 357.4 1431.3 359.6 1427.8 362 1424.2 364.7 1420.5 367.5 1416.9 370.4 1413.3 373.1 1413.2 373.2 1413.2 373.3 1413.2 373.4 1413.3 373.5 1413.4 373.5 1413.6 373.5 1417.3 371 1421.2 368.4 1425 365.8 1428.7 363.4 1432.3 361.1 1435.6 359.2 1438.5 357.9 1440.8 357 1443.1 356.4 1445.6 355.6 1448.5 354.5 1452.1 352.8 1456.4 350.4 1461.2 347.5 1466.4 344.3 1471.8 340.9 1477.1 337.4 1482.3 334.2 1482.9 333.4 1483.1 332.5 1482.8 331.5 1482.1 330.9 1481.2 330.7Z"/><path d="M1516.3 332.2 1515.5 335.4 1514.7 338.7 1514 342 1513.2 345.2 1512.3 348.2 1511.2 351 1510.1 353.7 1508.8 356.2 1507.5 358.6 1506.1 360.7 1504.4 362.7 1502.5 364.4 1500.2 365.8 1497.5 366.9 1494.5 367.8 1491.4 368.6 1488.3 369.4 1485.3 370.3 1485.1 370.4 1485.1 370.5 1485.1 370.6 1485.1 370.7 1485.3 370.8 1485.4 370.8 1488.4 370.1 1491.6 369.5 1494.8 368.9 1497.9 368.2 1500.8 367.2 1503.5 365.9 1505.7 364.1 1507.7 362.1 1509.4 359.8 1510.9 357.4 1512.3 354.8 1513.7 352.1 1514.9 349.2 1516 346 1516.9 342.8 1517.7 339.5 1518.6 336.2 1519.4 333 1519.4 332.1 1519 331.4 1518.3 331 1517.5 331 1516.7 331.4Z"/><path d="M1551 339.5 1549.7 343.3 1548.7 347.1 1547.7 350.8 1546.6 354.3 1545.2 357.4 1543.4 360.3 1541.2 363.2 1538.5 366.1 1535.6 368.8 1532.3 371.4 1528.7 373.7 1524.8 375.7 1520.1 377.3 1514.6 378.7 1508.6 379.9 1502.5 380.9 1496.7 381.9 1491.6 382.9 1487.5 383.9 1484.1 385 1481.3 385.9 1478.6 386.6 1475.6 387.1 1471.8 387.4 1466.9 387.2 1461 386.7 1454.8 386 1448.6 385.2 1442.8 384.5 1437.9 384.2 1434.1 384.1 1430.9 384.1 1428.2 384.2 1425.8 384.5 1423.5 385.1 1421.2 386.2 1419 387.7 1417.1 389.7 1415.4 391.9 1413.8 394.3 1412.2 396.7 1410.5 398.9 1410.5 399 1410.5 399.1 1410.5 399.2 1410.7 399.3 1410.8 399.3 1410.9 399.2 1412.7 397.1 1414.5 394.8 1416.2 392.6 1418 390.5 1419.9 388.8 1421.9 387.5 1424 386.7 1426.1 386.3 1428.3 386.1 1430.9 386.2 1434 386.4 1437.7 386.7 1442.5 387.3 1448.1 388.3 1454.3 389.4 1460.6 390.5 1466.5 391.3 1471.7 391.7 1476 391.6 1479.5 391.2 1482.6 390.5 1485.5 389.7 1488.7 388.9 1492.6 388.1 1497.6 387.3 1503.3 386.6 1509.5 385.8 1515.8 384.8 1521.9 383.5 1527.3 381.7 1531.9 379.5 1536.2 377 1540 374.2 1543.5 371.1 1546.5 367.9 1549.3 364.5 1551.7 360.8 1553.4 356.9 1554.7 353 1555.8 349.1 1556.9 345.5 1558.1 341.9 1558.2 339.9 1557.3 338.2 1555.7 337.1 1553.7 337 1552 337.9Z"/><path d="M1470.7 389.3 1467.3 391.7 1463.8 394 1460.3 396.4 1456.8 398.8 1453.5 401.6 1450.2 404.7 1447.1 408.2 1444 412 1441.1 416.1 1438.4 420.2 1436 424.4 1434.2 428.5 1433 432.5 1432.5 436.5 1432.3 440.4 1432.3 444.2 1432.3 448.1 1432.2 451.9 1432.2 452.1 1432.3 452.2 1432.4 452.2 1432.5 452.2 1432.6 452.1 1432.7 452 1433.1 448.1 1433.3 444.3 1433.5 440.5 1434 436.7 1434.7 432.9 1436 429.2 1438 425.5 1440.4 421.5 1443.2 417.6 1446.3 413.8 1449.5 410.2 1452.6 407 1455.7 404.1 1458.9 401.7 1462.3 399.4 1465.8 397.1 1469.4 394.9 1472.8 392.5 1473.5 391.7 1473.6 390.7 1473.3 389.8 1472.6 389.2 1471.6 389Z"/><path d="M1466.1 399 1466 401.6 1465.9 404.2 1465.7 406.9 1465.7 409.6 1465.8 412.5 1466.3 415.6 1467.2 419 1468.6 422.5 1470.1 426.1 1471.6 429.6 1472.8 432.9 1473.5 435.8 1473.7 438.4 1473.6 440.8 1473.2 443 1472.7 445.1 1472 447.1 1471.2 448.9 1470.2 450.7 1469.1 452.2 1467.7 453.6 1466.3 455 1464.8 456.4 1463.4 457.9 1463.4 458 1463.4 458.1 1463.4 458.2 1463.5 458.3 1463.7 458.3 1463.8 458.2 1465.2 456.9 1466.8 455.6 1468.3 454.3 1469.8 452.9 1471.2 451.3 1472.3 449.5 1473.3 447.6 1474.1 445.6 1474.8 443.4 1475.3 441 1475.6 438.4 1475.5 435.5 1474.9 432.3 1473.8 428.8 1472.4 425.2 1471 421.6 1469.9 418.1 1469.1 415 1468.8 412.2 1468.7 409.6 1468.8 407 1469 404.4 1469.2 401.8 1469.3 399.1 1469.1 398.3 1468.5 397.7 1467.7 397.4 1466.9 397.6 1466.3 398.2Z"/><path d="M1524.3 379.2 1523.2 381.5 1521.9 383.6 1520.6 385.8 1519.4 388.3 1518.3 391.2 1517.5 394.6 1517 398.7 1516.9 403.2 1517 408 1517 412.9 1516.9 417.6 1516.5 421.9 1515.7 425.9 1514.9 429.9 1513.9 433.8 1512.7 437.5 1511 441.1 1509 444.6 1506.3 448 1503 451.2 1499.3 454.4 1495.5 457.6 1491.6 460.7 1487.9 464 1487.8 464.1 1487.8 464.2 1487.8 464.3 1487.9 464.4 1488.1 464.4 1488.2 464.4 1492 461.3 1496.1 458.4 1500.1 455.4 1504 452.4 1507.5 449.2 1510.5 445.7 1512.9 442.1 1514.8 438.4 1516.2 434.5 1517.4 430.6 1518.4 426.5 1519.3 422.3 1519.9 417.8 1520.2 412.9 1520.3 408 1520.3 403.3 1520.5 399 1521 395.3 1521.8 392.3 1522.8 389.8 1523.9 387.6 1525.2 385.5 1526.5 383.3 1527.7 380.9 1527.9 379.9 1527.6 379 1526.9 378.4 1525.9 378.1 1525 378.5Z"/><path d="M1567.3 343.3 1566 346.5 1564.5 349.6 1563 352.8 1561.5 356.3 1560.2 360.1 1559.1 364.3 1558.3 369.2 1557.7 374.4 1557.2 379.9 1556.9 385.4 1556.8 390.4 1556.7 394.9 1556.6 398.5 1556.7 401.7 1556.9 404.5 1557.2 407.3 1557.7 410.1 1558.4 413.3 1559.4 417 1560.9 420.8 1562.4 424.7 1563.8 428.4 1564.9 431.7 1565.5 434.5 1565.6 436.9 1565.2 439.1 1564.6 441.1 1563.8 443.1 1562.9 445 1562 446.8 1561.3 448.2 1560.6 449.1 1559.8 450 1558.7 451.1 1557.3 452.7 1555.6 454.8 1553.6 457.5 1551 460.9 1548.2 464.6 1545.5 468.5 1543 472.3 1541.1 475.7 1539.7 478.7 1538.8 481.5 1538.2 484.1 1537.8 486.7 1537.5 489.5 1537.3 492.6 1537.2 496.1 1537.2 499.8 1537.4 503.8 1537.6 507.8 1537.8 511.8 1538 515.7 1538 515.8 1538.1 515.9 1538.2 516 1538.4 515.9 1538.4 515.8 1538.5 515.7 1538.6 511.8 1538.6 507.8 1538.6 503.7 1538.7 499.8 1538.8 496.1 1539.2 492.7 1539.6 489.7 1540 487 1540.5 484.6 1541.2 482.2 1542.2 479.7 1543.5 477 1545.5 473.9 1548.1 470.4 1551 466.7 1553.9 463.2 1556.6 460 1558.8 457.3 1560.4 455.4 1561.7 454.1 1562.8 453.1 1563.9 452 1565 450.6 1566 449 1567 447.1 1568.1 445.1 1569.1 442.8 1570 440.2 1570.6 437.3 1570.6 434.1 1570.1 430.5 1569 426.7 1567.6 422.7 1566.2 418.9 1565 415.2 1564.2 411.9 1563.7 409 1563.4 406.5 1563.2 404.1 1563.1 401.5 1563.1 398.6 1563.2 395.1 1563.4 390.7 1563.7 385.8 1564.2 380.5 1564.7 375.2 1565.4 370.2 1566.2 365.9 1567.2 362.3 1568.4 359 1569.8 355.9 1571.2 352.8 1572.8 349.6 1574.2 346.3 1574.5 344.3 1573.8 342.5 1572.3 341.3 1570.4 341 1568.6 341.8Z"/><path d="M1559.4 411.1 1556.6 412.2 1553.9 413.3 1551.1 414.3 1548.3 415.5 1545.6 416.7 1543 418.2 1540.5 419.8 1538.1 421.4 1535.7 423.2 1533.5 425.1 1531.3 427.3 1529.4 429.7 1527.6 432.3 1526 435.3 1524.5 438.4 1523.2 441.5 1521.8 444.7 1520.4 447.8 1520.3 447.9 1520.4 448 1520.5 448.1 1520.6 448.1 1520.7 448.1 1520.8 448 1522.5 445 1524.1 442 1525.7 438.9 1527.3 436 1529 433.3 1530.8 430.8 1532.8 428.7 1534.9 426.8 1537.2 425.1 1539.5 423.5 1541.9 422 1544.3 420.6 1546.8 419.3 1549.5 418.2 1552.2 417.2 1555 416.2 1557.8 415.2 1560.5 414.1 1561.2 413.6 1561.5 412.8 1561.4 412 1560.9 411.4 1560.2 411Z"/><path d="M1557 457.7 1557.7 460.4 1558.3 463.1 1558.9 465.8 1559.6 468.6 1560.4 471.4 1561.4 474.2 1562.7 477 1564.3 479.7 1565.9 482.4 1567.5 485.1 1568.9 487.7 1570 490.2 1570.7 492.6 1571.1 495.1 1571.3 497.5 1571.5 499.9 1571.6 502.4 1571.9 504.9 1571.9 505 1572 505.1 1572.2 505.1 1572.3 505.1 1572.4 505 1572.4 504.8 1572.4 502.4 1572.4 499.9 1572.4 497.5 1572.4 495 1572.1 492.4 1571.6 489.7 1570.6 486.9 1569.3 484.1 1567.9 481.3 1566.4 478.5 1565 475.8 1563.9 473.2 1563.1 470.5 1562.4 467.9 1561.8 465.2 1561.3 462.5 1560.8 459.7 1560.1 457 1559.7 456.3 1559 455.8 1558.2 455.8 1557.5 456.2 1557.1 456.9Z"/><path d="M1538.9 476.5 1536.6 477.8 1534.3 479.1 1532 480.3 1529.7 481.7 1527.5 483.3 1525.3 485.1 1523.4 487.2 1521.6 489.5 1519.9 491.9 1518.2 494.4 1516.6 496.9 1515 499.3 1514.9 499.4 1514.9 499.5 1515 499.6 1515.1 499.7 1515.3 499.7 1515.4 499.6 1517.3 497.4 1519.1 495 1521 492.7 1522.8 490.5 1524.7 488.5 1526.7 486.7 1528.8 485.1 1531 483.8 1533.2 482.6 1535.6 481.4 1538 480.2 1540.3 478.9 1540.8 478.4 1541 477.7 1540.8 477 1540.3 476.5 1539.6 476.3Z"/><path d="M1617.9 338.2 1616 340.5 1614.1 342.7 1612.2 344.9 1610.2 347.3 1608.3 350 1606.5 353.1 1605 356.6 1603.7 360.3 1602.5 364.1 1601.4 367.9 1600.1 371.6 1598.7 375 1596.8 378.1 1594.6 381.3 1592.2 384.4 1589.8 387.6 1587.5 390.9 1585.7 394.3 1584.3 397.8 1583.1 401.3 1582.2 404.8 1581.5 408.3 1581 411.8 1580.7 415.2 1580.6 418.5 1580.8 421.8 1581.3 424.9 1581.8 428.1 1582.3 431.2 1582.8 434.3 1582.8 434.4 1582.9 434.5 1583 434.5 1583.1 434.5 1583.2 434.4 1583.2 434.3 1583.1 431.1 1582.8 428 1582.5 424.8 1582.3 421.7 1582.3 418.5 1582.5 415.4 1583.1 412.1 1583.8 408.8 1584.6 405.5 1585.7 402.1 1587 398.9 1588.5 395.7 1590.4 392.7 1592.6 389.8 1595.2 386.8 1597.8 383.7 1600.3 380.5 1602.5 377 1604.3 373.3 1605.8 369.5 1607.2 365.6 1608.4 361.9 1609.7 358.5 1611.1 355.5 1612.7 352.9 1614.4 350.6 1616.3 348.4 1618.2 346.3 1620.2 344.1 1622.1 341.8 1622.7 340.5 1622.6 339 1621.8 337.9 1620.5 337.3 1619 337.4Z"/><path d="M1628.2 323.1 1631.4 326 1634.6 329 1637.9 331.8 1641.1 334.7 1644.1 337.6 1647 340.5 1649.7 343.5 1652.3 346.8 1654.9 350.3 1657.6 353.7 1660.6 357 1664 359.7 1667.4 361.9 1670.9 363.7 1674.6 365.1 1678.6 366.2 1683 366.8 1687.8 366.8 1693.3 366.1 1699.2 364.5 1705.2 362.5 1711.3 360.6 1717.3 359 1723.1 358.1 1729.1 357.9 1735.3 358 1741.6 358.6 1747.8 359.3 1753.7 360.3 1759.2 361.4 1764 362.6 1768.5 364 1772.6 365.5 1776.6 367.3 1780.6 369.3 1784.8 371.5 1789.2 373.9 1793.5 376.6 1797.9 379.5 1802.2 382.5 1806.6 385.5 1811 388.4 1811.1 388.4 1811.2 388.4 1811.3 388.3 1811.4 388.2 1811.4 388.1 1811.3 388 1807.1 384.8 1802.9 381.6 1798.6 378.4 1794.4 375.3 1790.2 372.3 1785.9 369.6 1781.7 367.2 1777.7 365 1773.7 363 1769.5 361.2 1765 359.5 1760 358 1754.5 356.7 1748.4 355.4 1742.1 354.4 1735.6 353.6 1729.1 353.2 1722.8 353.2 1716.4 353.9 1709.9 355.4 1703.6 357.2 1697.6 358.9 1692.2 360.2 1687.5 360.7 1683.5 360.5 1679.9 359.9 1676.7 359 1673.7 357.7 1670.8 356.1 1668 354.3 1665.3 352 1662.9 349.3 1660.5 346.1 1658 342.6 1655.3 339 1652.3 335.5 1649.2 332.4 1646.1 329.3 1642.9 326.3 1639.6 323.4 1636.4 320.5 1633.2 317.6 1631.5 316.7 1629.6 316.8 1627.9 317.8 1627 319.5 1627.1 321.5Z"/><path d="M1650.3 344.4 1649.8 347.5 1649.2 350.6 1648.6 353.8 1648.1 357.1 1647.8 360.4 1647.9 363.9 1648.3 367.3 1649 370.8 1650 374.3 1651.1 377.8 1652.5 381.3 1654 384.6 1655.8 387.9 1657.9 391 1660.2 394.1 1662.5 397.2 1664.9 400.2 1667.1 403.2 1667.2 403.3 1667.3 403.4 1667.5 403.3 1667.6 403.2 1667.6 403.1 1667.5 403 1665.6 399.7 1663.5 396.5 1661.4 393.3 1659.5 390.1 1657.7 386.8 1656.2 383.6 1655 380.3 1653.9 376.9 1653 373.5 1652.3 370.2 1651.8 366.8 1651.5 363.7 1651.6 360.6 1651.9 357.6 1652.5 354.6 1653.2 351.5 1653.9 348.3 1654.5 345.1 1654.4 344 1653.8 343.2 1652.8 342.7 1651.7 342.8 1650.8 343.4Z"/><path d="M1687.2 367 1688.5 371.3 1689.7 375.6 1690.9 380 1692.3 384.3 1693.8 388.7 1695.6 392.9 1697.8 397.3 1700.1 401.6 1702.6 406 1705.3 410.2 1708.2 414.1 1711.2 417.5 1714.6 420.5 1718.3 422.9 1722.1 425 1725.7 426.9 1729.1 428.8 1732 430.8 1734.4 432.9 1736.4 435.1 1738.1 437.3 1739.7 439.5 1741.3 441.7 1743.1 444 1743.2 444 1743.3 444.1 1743.5 444 1743.5 443.9 1743.6 443.8 1743.5 443.7 1741.9 441.4 1740.4 439.1 1738.9 436.8 1737.2 434.4 1735.3 432.1 1732.9 429.7 1730 427.5 1726.6 425.4 1723 423.3 1719.4 421.1 1716 418.7 1713 415.8 1710.3 412.4 1707.6 408.6 1705.2 404.5 1702.8 400.2 1700.7 395.8 1698.7 391.6 1697.1 387.4 1695.7 383.2 1694.4 379 1693.3 374.6 1692.1 370.3 1690.9 365.9 1690.3 365.1 1689.5 364.6 1688.5 364.7 1687.7 365.2 1687.2 366Z"/><path d="M1759.6 361.5 1760.5 364.4 1761.4 367.4 1762.3 370.3 1763.2 373.3 1764.2 376.2 1765.3 379.1 1766.3 381.9 1767.3 384.8 1768.4 387.7 1769.6 390.5 1771 393.1 1772.6 395.4 1774.4 397.4 1776.5 399.1 1778.6 400.6 1780.9 401.9 1783.1 403.2 1785.2 404.7 1785.3 404.7 1785.5 404.7 1785.6 404.6 1785.6 404.5 1785.6 404.4 1785.5 404.3 1783.5 402.7 1781.3 401.2 1779.2 399.7 1777.2 398.2 1775.4 396.5 1773.8 394.5 1772.4 392.3 1771.3 389.7 1770.3 387 1769.3 384.1 1768.4 381.2 1767.5 378.3 1766.6 375.4 1765.7 372.5 1764.8 369.6 1764 366.6 1763.2 363.6 1762.3 360.6 1761.9 360 1761.3 359.7 1760.5 359.7 1759.9 360.1 1759.6 360.7Z"/><path d="M1724.4 354.9 1725.5 352 1726.6 349.1 1727.6 346.2 1728.6 343.4 1729.7 340.9 1730.9 338.8 1732.1 337 1733.4 335.6 1734.8 334.4 1736.4 333.3 1738 332.1 1739.8 330.8 1741.9 329.4 1744.2 328 1746.7 326.6 1749.1 325.2 1751.3 323.7 1753.2 322.2 1754.7 320.6 1755.8 318.9 1756.7 317.3 1757.5 315.6 1758.3 314 1759.1 312.3 1759.2 312.2 1759.1 312.1 1759 312 1758.9 312 1758.8 312 1758.7 312.1 1757.7 313.7 1756.8 315.3 1755.9 316.8 1755 318.4 1753.8 319.8 1752.4 321.2 1750.5 322.5 1748.3 323.8 1745.8 325.1 1743.3 326.3 1740.8 327.6 1738.6 328.9 1736.7 330.1 1735 331.3 1733.3 332.4 1731.7 333.7 1730.1 335.3 1728.6 337.2 1727.2 339.6 1725.9 342.2 1724.7 345.1 1723.6 348 1722.6 350.9 1721.5 353.7 1721.4 354.5 1721.7 355.3 1722.4 355.8 1723.2 355.8 1724 355.5Z"/><path d="M1616.1 338 1616.1 341.8 1616.2 345.3 1616.3 348.9 1616.4 352.6 1616.4 356.5 1616.2 360.9 1616 365.7 1615.6 371 1615.2 376.6 1614.7 382.5 1614.3 388.6 1614 394.8 1613.7 401.3 1613.4 408.4 1613.1 415.6 1613 422.8 1613.1 429.6 1613.5 435.9 1614.5 441.5 1616.1 446.7 1617.8 451.4 1619.4 455.6 1620.6 459.4 1621 462.8 1620.7 465.8 1619.9 468.4 1618.7 470.8 1617.1 473.2 1615.4 475.7 1613.6 478.5 1611.7 481.6 1609.7 484.8 1607.5 488 1605.2 491.3 1602.9 494.7 1600.7 497.9 1600.6 498.1 1600.6 498.2 1600.7 498.3 1600.8 498.3 1601 498.3 1601.1 498.2 1603.5 495.1 1606 492 1608.5 488.8 1610.9 485.7 1613.2 482.6 1615.3 479.6 1617.2 477 1619.1 474.6 1620.8 472.1 1622.4 469.5 1623.5 466.4 1624.1 462.8 1623.8 458.8 1622.8 454.5 1621.4 450.1 1619.9 445.5 1618.7 440.7 1618 435.5 1617.9 429.6 1618.1 422.9 1618.6 415.9 1619.1 408.7 1619.7 401.7 1620.3 395.2 1620.8 389 1621.4 383 1622 377.2 1622.6 371.6 1623.1 366.3 1623.4 361.2 1623.6 356.7 1623.7 352.6 1623.7 348.8 1623.7 345.2 1623.6 341.7 1623.6 338 1623.1 336.1 1621.7 334.7 1619.8 334.2 1617.9 334.8 1616.6 336.1Z"/><path d="M1620.7 386.5 1622.4 389.6 1624 392.9 1625.6 396.2 1627.4 399.5 1629.5 402.7 1631.9 405.7 1634.7 408.6 1637.7 411.2 1640.9 413.7 1644.3 416.1 1647.8 418.5 1651.6 420.8 1655.6 423 1659.9 425 1664.3 426.9 1668.8 428.9 1673.2 431.1 1677.5 433.8 1681.8 437.1 1686.2 440.9 1690.6 445 1695 449.2 1699.4 453.5 1703.8 457.6 1703.9 457.6 1704 457.6 1704.1 457.6 1704.2 457.4 1704.2 457.3 1704.1 457.2 1700 452.9 1695.8 448.4 1691.6 444 1687.4 439.7 1683.1 435.7 1678.8 432.1 1674.4 429 1669.9 426.5 1665.5 424.3 1661.1 422.3 1657 420.2 1653.3 418 1649.7 415.6 1646.3 413.2 1643.1 410.8 1640.1 408.4 1637.4 405.8 1634.9 403.2 1632.8 400.4 1630.9 397.4 1629.3 394.3 1627.7 391 1626.1 387.7 1624.4 384.5 1623.7 383.7 1622.6 383.4 1621.6 383.6 1620.8 384.4 1620.5 385.4Z"/><path d="M1650.8 420.8 1651 425.7 1651.2 430.7 1651.4 435.7 1651.6 440.6 1652 445.2 1652.6 449.4 1653.3 453.1 1654.2 456.5 1655.2 459.5 1656.2 462.3 1657.4 464.8 1658.6 467.2 1659.9 469.3 1661.3 471 1662.8 472.5 1664.2 473.8 1665.7 475.1 1667.1 476.5 1667.3 476.6 1667.4 476.6 1667.5 476.6 1667.6 476.4 1667.6 476.3 1667.5 476.2 1666.2 474.7 1664.8 473.2 1663.4 471.8 1662.1 470.3 1660.9 468.6 1659.8 466.6 1658.8 464.2 1657.8 461.7 1656.9 459 1656.1 456 1655.5 452.7 1654.9 449.1 1654.6 445 1654.4 440.5 1654.3 435.6 1654.2 430.6 1654.2 425.6 1654 420.7 1653.8 419.9 1653.2 419.3 1652.3 419.1 1651.6 419.4 1651 420Z"/><path d="M1621.9 465.1 1623.7 467.5 1625.4 469.9 1627 472.4 1628.9 474.9 1631.2 477.5 1633.9 480 1637.2 482.6 1641 485.2 1645.1 487.9 1649.3 490.4 1653.6 493 1657.7 495.6 1657.8 495.6 1657.9 495.6 1658 495.5 1658.1 495.4 1658.1 495.3 1658 495.2 1654.1 492.3 1650.1 489.3 1646.1 486.4 1642.2 483.6 1638.7 480.8 1635.6 478.1 1633.2 475.6 1631.2 473.1 1629.5 470.7 1627.9 468.2 1626.3 465.7 1624.5 463.2 1623.9 462.7 1623.1 462.6 1622.3 462.9 1621.8 463.5 1621.6 464.3Z"/><path d="M1601.3 275.2 1603 272.6 1604.8 270 1606.5 267.3 1608.3 264.7 1610.1 261.9 1612 259 1614.1 256.1 1616.5 253.1 1619.2 249.8 1621.7 246.2 1624.1 242.2 1625.9 237.6 1627.1 232.3 1627.6 226.5 1627.9 220.5 1628 214.8 1628.1 209.8 1628.4 205.7 1628.9 202.7 1629.2 200.5 1629.5 199 1629.9 197.9 1630.6 196.7 1631.8 194.9 1633.4 192.9 1635.3 190.8 1637.6 188.6 1640.2 186.3 1643 184 1645.9 181.8 1649.1 179.6 1652.7 177.3 1656.6 175 1660.6 172.6 1664.3 170.2 1667.5 167.8 1670 165.5 1671.9 163.3 1673.5 161.1 1675 158.8 1676.6 156.4 1678.5 153.6 1680.8 150.1 1683.3 146.2 1686 142 1688.7 137.8 1691.4 133.8 1694.2 130.4 1697 127.4 1699.7 124.8 1702.5 122.5 1705.5 120.2 1708.9 117.8 1712.6 115.3 1717 112.6 1721.8 109.8 1726.9 107 1732.3 104.1 1737.6 101.2 1742.7 98.4 1742.8 98.3 1742.9 98.2 1742.9 98 1742.8 97.9 1742.6 97.9 1742.5 97.9 1737.2 100.5 1731.8 103.1 1726.3 105.8 1721 108.4 1716.1 111 1711.6 113.5 1707.6 116 1704.1 118.2 1700.9 120.4 1697.9 122.8 1695 125.4 1692 128.3 1688.9 131.8 1685.9 135.8 1683 140 1680.2 144.1 1677.6 147.9 1675.1 151.2 1673.1 154 1671.4 156.4 1669.9 158.5 1668.5 160.4 1666.7 162.2 1664.5 164.1 1661.6 166.2 1658 168.4 1654.1 170.5 1650.1 172.7 1646.2 175 1642.7 177.3 1639.5 179.6 1636.6 181.9 1633.8 184.2 1631.2 186.6 1628.9 188.9 1626.9 191.3 1625.4 193.4 1624.3 195.3 1623.6 197.2 1623.1 199.3 1622.6 201.7 1622.1 204.9 1621.6 209.3 1621.4 214.6 1621.2 220.3 1620.8 226 1620.2 231.2 1619.2 235.5 1617.7 239 1615.7 242.3 1613.4 245.4 1610.9 248.5 1608.3 251.6 1606 254.8 1603.9 257.8 1602.1 260.5 1600.3 263.2 1598.5 265.8 1596.8 268.4 1595 271.1 1594.4 272.9 1594.8 274.8 1596.1 276.3 1597.9 276.9 1599.8 276.5Z"/><path d="M1696.1 129.6 1698.7 129.1 1701.2 128.6 1703.6 128.1 1706.1 127.6 1709 127.1 1712.2 126.7 1716.1 126.5 1720.6 126.3 1725.3 126.2 1730.2 126 1735 125.6 1739.4 124.8 1743.4 123.7 1747.1 122.2 1750.7 120.5 1754.1 118.8 1757.5 117 1761 115.3 1761.1 115.2 1761.2 115.1 1761.2 115 1761.1 114.9 1761 114.9 1760.8 114.9 1757.2 116.3 1753.7 117.9 1750.2 119.4 1746.6 120.9 1742.9 122.1 1739.1 123 1734.8 123.5 1730.1 123.7 1725.3 123.7 1720.5 123.7 1716 123.7 1712 123.8 1708.6 124.2 1705.6 124.6 1703 125 1700.5 125.5 1698.1 126 1695.5 126.4 1694.8 126.8 1694.3 127.4 1694.2 128.3 1694.6 129 1695.3 129.5Z"/><path d="M1674.2 157.2 1673.3 155 1672.5 153 1671.6 150.9 1670.7 148.7 1669.7 146.4 1668.7 143.8 1667.4 140.7 1666 137.5 1664.5 134 1663.2 130.6 1662.1 127.1 1661.5 123.8 1661.4 120.6 1661.6 117.4 1662.2 114.2 1662.9 110.9 1663.6 107.6 1664.2 104.3 1664.2 104.2 1664.1 104.1 1664 104 1663.9 104 1663.8 104.1 1663.7 104.2 1662.9 107.4 1661.9 110.7 1661 113.9 1660.2 117.2 1659.7 120.6 1659.6 124 1660.1 127.6 1661 131.2 1662.2 134.9 1663.6 138.5 1664.9 141.8 1666 144.8 1666.9 147.5 1667.8 149.9 1668.7 152.1 1669.5 154.2 1670.4 156.3 1671.3 158.4 1671.8 159.1 1672.5 159.4 1673.4 159.3 1674 158.8 1674.3 158.1Z"/><path d="M1653.4 178.2 1655.5 178.7 1657.6 179.2 1659.8 179.7 1661.9 180.2 1664 180.4 1666 180.5 1667.8 180.2 1669.4 179.7 1670.8 179.1 1672.2 178.4 1673.5 177.7 1674.9 177.1 1675 177 1675 176.9 1675 176.7 1675 176.6 1674.8 176.6 1674.7 176.6 1673.2 177 1671.8 177.5 1670.4 178 1669 178.4 1667.5 178.6 1666 178.6 1664.3 178.4 1662.4 177.9 1660.4 177.3 1658.3 176.7 1656.2 176 1654.1 175.5 1653.4 175.5 1652.8 175.9 1652.4 176.5 1652.4 177.2 1652.8 177.8Z"/><path d="M1627.2 194.8 1625.2 192.6 1623.2 190.4 1621.2 188.3 1619.2 186.1 1617.3 183.9 1615.5 181.5 1613.7 178.8 1611.8 175.9 1610 172.8 1608.3 169.7 1606.8 166.9 1605.6 164.4 1604.7 162.2 1604.2 160.4 1603.9 158.7 1603.7 157.1 1603.5 155.5 1603.1 153.7 1603.1 153.6 1603 153.5 1602.9 153.5 1602.7 153.6 1602.7 153.7 1602.6 153.8 1602.8 155.5 1602.9 157.2 1603 158.8 1603.2 160.6 1603.6 162.6 1604.3 164.9 1605.3 167.6 1606.6 170.6 1608.2 173.8 1609.8 177 1611.6 180.1 1613.3 183 1615.1 185.6 1617 188 1618.9 190.3 1620.9 192.5 1622.8 194.7 1624.8 196.9 1625.4 197.3 1626.3 197.4 1627 197 1627.5 196.3 1627.5 195.5Z"/><path d="M1625.5 242.2 1628.7 241.7 1631.9 241.1 1635 240.5 1638.1 239.9 1641.2 239.5 1644.3 239.2 1647.4 239.2 1650.8 239.6 1654.2 240 1657.6 240.4 1660.7 240.4 1663.5 240 1665.7 238.9 1667.4 237.3 1668.7 235.5 1669.9 233.5 1671 231.6 1672.3 229.9 1672.3 229.8 1672.3 229.6 1672.2 229.5 1672.1 229.5 1672 229.5 1671.9 229.6 1670.5 231.2 1669.2 233.1 1667.9 234.9 1666.5 236.5 1665 237.7 1663.1 238.5 1660.7 238.7 1657.8 238.5 1654.6 237.9 1651.1 237.3 1647.7 236.8 1644.2 236.6 1641 236.7 1637.7 237 1634.5 237.5 1631.3 238 1628.2 238.5 1625 239 1624.3 239.3 1623.8 240 1623.7 240.8 1624 241.6 1624.7 242.1Z"/><path d="M1636 293 1639.4 291.8 1642.9 290.6 1646.4 289.4 1649.8 288.2 1653.1 287.1 1656 286.2 1658.6 285.6 1661.1 285.4 1663.9 285.2 1667 284.7 1670.3 283.5 1673.7 281.2 1676.8 277.9 1679.6 273.9 1682.3 269.6 1684.9 265.1 1687.5 261 1690.1 257.5 1692.8 254.3 1695.5 251.2 1698.2 248.4 1701 245.8 1703.8 243.5 1706.6 241.6 1709.5 240.1 1712.6 239 1715.8 238.2 1719.2 237.5 1722.7 236.8 1726.1 236 1729.5 235.2 1732.9 234.5 1736.3 233.8 1739.7 233.1 1743.1 232.3 1746.4 231.5 1749.7 230.7 1752.9 230 1756.2 229.2 1759.5 228.3 1762.7 227.1 1765.7 225.5 1768.6 223.4 1771.3 220.9 1773.9 218.3 1776.4 215.4 1778.6 212.6 1780.6 209.8 1782.2 207.1 1783.5 204.3 1784.6 201.5 1785.6 198.7 1786.6 196 1787.6 193.2 1787.6 193.1 1787.6 193 1787.5 192.9 1787.4 192.9 1787.2 192.9 1787.2 193 1785.9 195.7 1784.8 198.4 1783.7 201.1 1782.4 203.8 1781 206.4 1779.3 209 1777.3 211.5 1775 214.2 1772.4 216.8 1769.8 219.2 1767.1 221.4 1764.3 223.2 1761.5 224.5 1758.6 225.5 1755.5 226.2 1752.3 226.8 1749 227.3 1745.6 228 1742.3 228.6 1739 229.2 1735.6 229.8 1732.1 230.3 1728.6 230.9 1725.2 231.6 1721.8 232.2 1718.4 232.7 1714.8 233.3 1711.2 234.1 1707.6 235.3 1704 236.9 1700.6 239 1697.4 241.4 1694.2 244.2 1691.2 247.1 1688.3 250.3 1685.3 253.6 1682.3 257.4 1679.4 261.7 1676.6 266.1 1674 270.2 1671.4 273.6 1669.1 275.9 1667.2 277.2 1665.3 277.8 1663.1 278.1 1660.6 278.2 1657.5 278.5 1654.2 279.1 1650.9 280.1 1647.5 281.2 1644 282.4 1640.5 283.5 1637 284.7 1633.6 285.9 1632 287 1631.1 288.7 1631.2 290.6 1632.3 292.3 1634 293.1Z"/><path d="M1689.8 255.8 1690.1 253.3 1690.5 251 1690.8 248.6 1691.2 246 1691.4 243 1691.7 239.4 1691.8 235 1691.9 229.9 1692 224.4 1692 218.8 1691.9 213.2 1691.6 208 1691.2 203.1 1690.7 198.2 1690 193.5 1689.3 188.9 1688.6 184.2 1687.9 179.5 1687.9 179.4 1687.8 179.3 1687.7 179.3 1687.5 179.3 1687.5 179.4 1687.4 179.6 1687.7 184.3 1688.1 189 1688.5 193.7 1688.8 198.4 1689.1 203.2 1689.2 208.1 1689.1 213.3 1688.9 218.8 1688.7 224.4 1688.4 229.8 1688.1 234.8 1687.8 239.1 1687.5 242.6 1687.1 245.5 1686.8 248 1686.4 250.3 1686 252.7 1685.6 255.2 1685.7 256.3 1686.4 257.2 1687.4 257.6 1688.5 257.5 1689.3 256.8Z"/><path d="M1692.8 210.6 1696.2 207.8 1699.5 204.8 1702.8 201.9 1706.1 199.1 1709.4 196.5 1712.7 194.2 1716.3 192.5 1720.1 191.1 1724.1 189.9 1728 188.7 1731.4 187.3 1734.3 185.5 1736.3 183.3 1737.5 180.9 1738.3 178.4 1738.9 175.8 1739.4 173.3 1740.2 170.8 1740.2 170.7 1740.1 170.6 1740 170.5 1739.9 170.5 1739.8 170.5 1739.7 170.6 1738.8 173.1 1738.1 175.6 1737.4 178.1 1736.5 180.4 1735.2 182.6 1733.4 184.4 1730.7 185.8 1727.4 187 1723.6 187.9 1719.5 189 1715.4 190.2 1711.5 192 1707.9 194.2 1704.3 196.8 1700.9 199.6 1697.5 202.5 1694.1 205.4 1690.7 208.2 1690.3 208.8 1690.2 209.7 1690.5 210.4 1691.2 210.9 1692 211Z"/><path d="M1764.7 225.2 1767.7 225.7 1770.7 226.1 1773.7 226.5 1776.6 227 1779.4 227.6 1782.2 228.3 1784.9 229.4 1787.6 230.8 1790.3 232.3 1793.1 233.8 1795.9 235.1 1798.7 236 1801.5 236.3 1804.2 236.2 1806.8 235.9 1809.4 235.5 1812 235.1 1814.6 234.7 1814.7 234.7 1814.8 234.6 1814.8 234.5 1814.7 234.3 1814.6 234.3 1814.5 234.2 1811.9 234.3 1809.3 234.6 1806.7 234.8 1804.2 234.9 1801.6 234.8 1799.1 234.4 1796.6 233.4 1794.1 232 1791.5 230.4 1788.8 228.7 1786 227.1 1783.1 225.8 1780.1 224.8 1777.2 224.1 1774.2 223.5 1771.2 223 1768.2 222.6 1765.3 222.1 1764.5 222.1 1763.8 222.6 1763.4 223.4 1763.5 224.2 1764 224.9Z"/><path d="M1726.3 236.6 1729.1 237.9 1731.8 239.2 1734.5 240.4 1737.2 241.7 1739.9 243 1742.6 244.5 1745.3 246.1 1748.1 248.1 1750.9 250.1 1753.7 252.1 1756.5 253.7 1759.3 254.9 1762 255.5 1764.7 255.6 1767.2 255.4 1769.6 255 1772.1 254.6 1774.5 254.4 1774.6 254.4 1774.7 254.3 1774.8 254.1 1774.7 254 1774.6 253.9 1774.5 253.9 1772 253.9 1769.5 254.1 1767.1 254.3 1764.7 254.3 1762.3 254.1 1759.9 253.4 1757.4 252.2 1754.8 250.4 1752.2 248.4 1749.5 246.2 1746.8 244 1744 242.1 1741.3 240.5 1738.5 239.1 1735.8 237.7 1733.1 236.4 1730.4 235.1 1727.7 233.7 1726.9 233.6 1726.1 233.8 1725.6 234.5 1725.4 235.3 1725.7 236.1Z"/><path d="M1671.7 281.3 1677.4 280.8 1683.2 280.1 1689 279.4 1694.7 278.8 1700.2 278.4 1705.3 278.2 1710 278.4 1714.5 278.9 1718.9 279.6 1723.3 280.3 1727.7 281.1 1732.1 281.7 1736.7 282.4 1741.3 283.2 1746 284 1750.7 284.6 1755.2 285 1759.6 285 1763.8 284.6 1767.8 283.7 1771.6 282.5 1775.3 281.2 1779 280 1782.7 278.8 1782.8 278.8 1782.9 278.6 1782.9 278.5 1782.8 278.4 1782.7 278.3 1782.6 278.3 1778.7 279.2 1775 280.2 1771.2 281.3 1767.4 282.1 1763.5 282.8 1759.6 283 1755.4 282.7 1751 282.1 1746.5 281.2 1742 280.1 1737.3 279.1 1732.8 278.2 1728.4 277.3 1724 276.4 1719.7 275.4 1715.2 274.5 1710.4 273.9 1705.4 273.5 1700 273.5 1694.3 273.7 1688.5 274.2 1682.7 274.8 1676.9 275.3 1671.1 275.8 1669.8 276.3 1668.9 277.4 1668.7 278.8 1669.2 280.2 1670.3 281.1Z"/><path d="M1705.3 279.4 1706.6 281.8 1708 284.2 1709.4 286.5 1710.8 288.9 1712.2 291.5 1713.5 294.1 1714.9 297 1716.1 300.1 1717.4 303.4 1718.8 306.7 1720.4 309.9 1722.2 313 1724.2 315.8 1726.5 318.4 1729 320.9 1731.4 323.4 1733.9 325.8 1736.3 328.3 1736.4 328.3 1736.6 328.3 1736.7 328.3 1736.8 328.2 1736.8 328 1736.7 327.9 1734.5 325.3 1732.2 322.7 1729.9 320.1 1727.6 317.5 1725.6 314.8 1723.7 312 1722.2 309 1720.9 305.8 1719.7 302.5 1718.5 299.2 1717.4 296 1716.1 292.9 1714.8 290.1 1713.4 287.5 1712.1 285 1710.8 282.6 1709.4 280.2 1708.1 277.8 1707.5 277.2 1706.7 277 1705.9 277.2 1705.3 277.8 1705.1 278.6Z"/></g><g fill="#9a7dbd"><path d="M1561.7 248.9C1562.7 248 1568.5 255.1 1571.3 256.6C1574.2 258.2 1576.4 259.4 1579.1 258.1C1581.7 256.8 1584.4 249.1 1587.3 248.9C1590.1 248.8 1593.6 256.2 1596.4 257.1C1599.2 258.1 1600.9 256.1 1604.1 254.7C1607.3 253.3 1614.6 247.5 1615.7 248.9C1616.8 250.4 1611.4 259.5 1610.9 263.4C1610.4 267.2 1611.2 269.3 1612.8 272.1C1614.4 274.8 1617.6 277.2 1620.5 279.8C1623.4 282.3 1627.1 285.2 1630.2 287.5C1633.2 289.7 1638 290.9 1638.8 293.3C1639.6 295.7 1636 298.9 1635 301.9C1633.9 305 1632.7 308.9 1632.6 311.6C1632.4 314.3 1633.1 316.3 1634 318.3C1634.9 320.4 1638.8 323 1637.9 324.1C1636.9 325.2 1630.4 324.3 1628.2 325.1C1626 325.9 1625.3 327.2 1624.6 328.9C1623.8 330.7 1624.7 332.3 1623.6 335.7C1622.5 339.1 1621 347.1 1618.1 349.2C1615.2 351.3 1610.5 348.9 1606.1 348.2C1601.6 347.5 1595.6 345.2 1591.6 345C1587.6 344.9 1585.2 346 1581.9 347.3C1578.7 348.5 1573.9 353 1571.8 352.5C1569.7 351.9 1570.9 344.8 1569.4 344.1C1567.9 343.4 1565.2 347.4 1562.7 348.2C1560.1 349 1556.4 351.6 1554 349C1551.6 346.4 1550.5 336.3 1548.2 332.5C1546 328.7 1543.7 327 1540.5 326.1C1537.3 325.1 1529.6 328.6 1528.9 327C1528.3 325.4 1534.7 319.3 1536.6 316.4C1538.6 313.5 1540.5 312.6 1540.5 309.7C1540.5 306.8 1538.6 301.8 1536.6 299.1C1534.7 296.3 1531.5 294.9 1528.9 293.3C1526.4 291.7 1518.5 291.3 1521.2 289.4C1523.9 287.5 1539.2 284.6 1545.3 281.7C1551.4 278.8 1554.5 275.3 1557.8 272.1C1561.2 268.8 1564.9 266.3 1565.6 262.4C1566.2 258.6 1560.7 249.9 1561.7 248.9Z"/><path d="M1539.8 284.3 1534 284 1528.1 283.9 1522.3 283.8 1516.8 283.6 1511.5 283 1506.6 282 1501.8 280.4 1496.9 278.5 1492.3 276.3 1487.9 273.8 1484.1 271.1 1480.8 268.3 1478.3 265.2 1476.4 261.8 1474.8 258 1473.3 253.8 1471.9 249.5 1470.2 245.1 1468.5 240.8 1466.9 236.3 1465.3 231.8 1463.7 227.2 1462 222.6 1460.2 218.1 1458.2 213.6 1456.2 209.2 1454.1 204.7 1451.9 200.4 1449.6 196.2 1447.3 192.3 1444.8 188.7 1442.4 185.3 1439.9 182 1437.2 179 1434.5 176.1 1431.6 173.5 1428.6 171.1 1425.4 169 1422.1 167.1 1418.8 165.3 1415.5 163.6 1412.2 161.7 1412.1 161.7 1411.9 161.7 1411.8 161.8 1411.8 161.9 1411.8 162 1411.9 162.1 1415.1 164.2 1418.3 166.1 1421.5 168.1 1424.7 170.1 1427.7 172.3 1430.5 174.8 1433.1 177.5 1435.6 180.4 1438 183.5 1440.3 186.8 1442.5 190.2 1444.7 193.9 1446.8 197.8 1448.8 201.9 1450.8 206.3 1452.7 210.7 1454.5 215.2 1456.2 219.7 1457.8 224.1 1459.3 228.7 1460.7 233.3 1462.1 237.9 1463.6 242.5 1465.1 246.9 1466.6 251.2 1467.9 255.6 1469.2 260 1470.9 264.4 1473.2 268.7 1476.2 272.6 1480 276.1 1484.3 279.3 1489.1 282.2 1494.1 284.8 1499.4 287 1504.7 288.8 1510.3 290.1 1516.2 290.8 1522.1 291.2 1527.9 291.3 1533.7 291.5 1539.4 291.8 1541.3 291.4 1542.7 290.1 1543.3 288.3 1542.9 286.4 1541.6 284.9Z"/><path d="M1446.3 193.3 1442.2 192.5 1438 191.7 1433.8 191 1429.7 190.3 1425.7 189.6 1421.8 188.9 1418.1 188.3 1414.5 187.9 1411 187.5 1407.7 187 1404.5 186.4 1401.6 185.5 1398.8 184.2 1396.3 182.6 1393.8 180.8 1391.4 179 1388.9 177.1 1386.4 175.3 1386.3 175.2 1386.2 175.2 1386.1 175.3 1386 175.4 1386 175.6 1386.1 175.7 1388.5 177.7 1390.7 179.7 1393 181.8 1395.4 183.8 1398 185.6 1400.8 187.2 1403.9 188.4 1407.2 189.3 1410.6 190 1414.1 190.6 1417.6 191.2 1421.3 191.9 1425.1 192.7 1429.1 193.6 1433.2 194.5 1437.3 195.3 1441.5 196.2 1445.6 197 1446.6 196.9 1447.4 196.4 1447.8 195.5 1447.8 194.5 1447.2 193.7Z"/><path d="M1456.8 215 1453.3 215 1449.8 215 1446.3 215 1442.7 215.1 1438.9 215.3 1434.8 215.9 1430.5 216.9 1426 218.3 1421.4 219.9 1416.8 221.4 1412.3 222.6 1407.9 223.2 1403.6 223.3 1399.2 222.9 1394.9 222.3 1390.4 221.5 1386 220.7 1381.6 220 1381.4 220 1381.3 220.1 1381.3 220.2 1381.3 220.3 1381.4 220.4 1381.5 220.5 1385.9 221.4 1390.2 222.5 1394.6 223.6 1399 224.6 1403.5 225.2 1408 225.4 1412.7 224.9 1417.5 223.9 1422.3 222.6 1426.9 221.2 1431.3 220 1435.4 219.2 1439.2 218.8 1442.8 218.6 1446.3 218.6 1449.8 218.7 1453.3 218.8 1456.9 218.8 1457.8 218.5 1458.5 217.8 1458.7 216.8 1458.5 215.9 1457.8 215.2Z"/><path d="M1467.9 239.3 1471.1 235.6 1474.3 231.8 1477.5 228.1 1480.6 224.4 1483.7 220.8 1486.6 217.3 1489.5 214.1 1492.5 210.9 1495.4 207.8 1498.1 204.9 1500.6 202 1502.5 199.2 1504 196.5 1505 193.9 1505.7 191.5 1506.1 189.2 1506.3 187 1506.3 184.9 1506 183 1505.4 181.1 1504.5 179.5 1503.6 177.9 1502.7 176.3 1501.8 174.7 1501.7 174.6 1501.6 174.5 1501.5 174.6 1501.4 174.7 1501.4 174.8 1501.4 174.9 1502.1 176.6 1502.9 178.2 1503.7 179.9 1504.4 181.5 1504.9 183.2 1505 185 1504.9 186.9 1504.6 189 1504.1 191.1 1503.3 193.2 1502.2 195.5 1500.7 197.9 1498.7 200.4 1496.2 203.1 1493.4 205.8 1490.3 208.8 1487.2 211.8 1484 215 1481 218.4 1477.8 221.9 1474.5 225.5 1471.2 229.2 1468 232.9 1464.7 236.5 1464.3 237.5 1464.3 238.6 1464.9 239.5 1465.9 239.9 1467 239.9Z"/><path d="M1572.2 255.7 1569.6 252.8 1567.1 249.9 1564.5 247 1561.8 244.1 1558.9 241 1555.6 237.9 1551.7 234.7 1547.3 231.6 1542.9 228.6 1538.8 225.6 1535.3 222.7 1532.8 219.8 1531.2 216.8 1530.3 213.6 1529.7 210.1 1529.4 206.3 1529.2 202.4 1528.9 198.4 1528.7 194.5 1528.9 190.5 1529.2 186.3 1529.3 182 1529.2 177.6 1528.3 173.5 1526.9 169.6 1525 165.9 1522.7 162.4 1520.3 159.2 1517.7 156.3 1515.1 153.8 1512.8 151.8 1510.5 150.3 1508.2 149.1 1505.5 148.1 1502.2 147 1498 145.6 1492.6 144 1486.1 142.1 1479 140.3 1471.5 138.3 1464 136.4 1456.9 134.5 1456.8 134.5 1456.7 134.6 1456.6 134.7 1456.6 134.8 1456.6 134.9 1456.8 135 1463.8 137.3 1471.1 139.7 1478.5 142 1485.5 144.3 1491.8 146.4 1497.1 148.3 1501.2 149.9 1504.3 151.1 1506.7 152.2 1508.7 153.3 1510.5 154.6 1512.5 156.5 1514.8 158.9 1517 161.7 1519.1 164.8 1521 168.1 1522.6 171.4 1523.7 174.7 1524.2 178.1 1524.2 181.9 1523.9 185.9 1523.4 190.1 1523.1 194.4 1523.1 198.6 1523.3 202.6 1523.4 206.6 1523.5 210.7 1524.1 214.9 1525.3 219.2 1527.4 223.4 1530.5 227.3 1534.5 230.9 1538.8 234.2 1543.2 237.4 1547.3 240.4 1550.7 243.3 1553.7 246.2 1556.4 249.1 1558.9 252 1561.5 254.9 1564 257.8 1566.6 260.7 1568.3 261.8 1570.2 261.9 1571.9 261 1573 259.4 1573.1 257.4Z"/><path d="M1505.5 149.5 1501.4 149.9 1497.4 150.4 1493.3 151 1489.2 151.5 1485.2 152.1 1481.1 152.6 1477.1 153.2 1473 153.8 1469 154.4 1464.9 155 1460.9 155.6 1456.8 156.2 1456.7 156.3 1456.6 156.4 1456.6 156.5 1456.6 156.6 1456.7 156.7 1456.9 156.7 1460.9 156.4 1465 156.2 1469.1 155.9 1473.2 155.6 1477.3 155.2 1481.4 154.9 1485.5 154.6 1489.5 154.2 1493.6 153.9 1497.7 153.5 1501.8 153.1 1505.8 152.6 1506.6 152.3 1507.1 151.7 1507.3 150.9 1507 150.1 1506.3 149.6Z"/><path d="M1509.9 152 1509.2 149.1 1508.4 146 1507.5 143.1 1506.8 140.1 1506.1 137.3 1505.6 134.6 1505.3 132 1505.4 129.4 1505.5 126.8 1505.6 124.3 1505.5 121.8 1505 119.6 1504.2 117.8 1503 116.3 1501.7 115 1500.3 113.9 1499 112.7 1497.7 111.5 1497.6 111.5 1497.5 111.5 1497.4 111.5 1497.3 111.6 1497.3 111.8 1497.3 111.9 1498.5 113.2 1499.8 114.5 1501 115.7 1502.1 117 1503 118.4 1503.6 120 1503.8 122 1503.8 124.2 1503.5 126.6 1503.2 129.3 1503 132.1 1503 134.9 1503.4 137.8 1504 140.8 1504.7 143.8 1505.4 146.8 1506.1 149.8 1506.8 152.8 1507.2 153.5 1507.9 153.9 1508.8 154 1509.5 153.6 1509.9 152.9Z"/><path d="M1528.6 220 1526.7 220.2 1524.9 220.3 1523.1 220.4 1521.1 220.6 1518.9 221 1516.2 221.6 1513.1 222.6 1509.7 223.8 1506 225.1 1502.2 226.6 1498.4 228.1 1494.7 229.5 1494.6 229.6 1494.6 229.7 1494.6 229.8 1494.6 229.9 1494.8 230 1494.9 230 1498.7 229 1502.6 227.9 1506.5 226.9 1510.3 225.9 1513.8 225 1516.8 224.3 1519.4 223.8 1521.5 223.6 1523.3 223.5 1525.1 223.4 1526.9 223.3 1528.9 223.2 1529.6 222.9 1530.2 222.3 1530.3 221.5 1530 220.7 1529.4 220.2Z"/><path d="M1546.9 232.3 1546.5 228.8 1546 225.4 1545.5 222 1545.1 218.7 1545 215.5 1545.2 212.4 1545.9 209.2 1547.2 205.9 1548.8 202.6 1550.4 199.3 1551.7 196.1 1552.5 193.3 1552.8 190.9 1552.6 188.8 1552.2 187.1 1551.6 185.5 1551.1 183.9 1550.7 182.2 1550.6 182.1 1550.5 182 1550.4 182 1550.3 182.1 1550.2 182.2 1550.2 182.3 1550.4 184 1550.8 185.7 1551.2 187.3 1551.5 189 1551.5 190.8 1551 192.9 1550.1 195.4 1548.5 198.3 1546.7 201.5 1544.8 204.8 1543.2 208.3 1542.2 211.8 1541.7 215.4 1541.7 218.9 1542 222.4 1542.4 225.9 1542.8 229.3 1543.1 232.6 1543.5 233.6 1544.2 234.2 1545.2 234.3 1546.1 234 1546.7 233.2Z"/><path d="M1591.3 256.5 1590.9 251.3 1590.4 246 1589.9 240.7 1589.4 235.4 1588.9 230.2 1588.3 225.3 1587.7 220.5 1587.2 215.8 1586.7 211.1 1586 206.4 1585 201.8 1583.5 197.4 1581.6 193.2 1579.3 189.4 1576.9 185.9 1574.3 182.6 1571.7 179.1 1569.1 175.3 1566.3 171 1563.1 166.3 1559.9 161.5 1556.9 156.7 1554.2 152.1 1552.2 147.7 1550.7 143.5 1549.7 139.4 1549 135.4 1548.7 131.4 1548.6 127.6 1548.7 124.1 1549.2 120.7 1550.2 117.6 1551.4 114.7 1552.8 111.7 1554.2 108.7 1555.4 105.7 1555.4 105.6 1555.4 105.5 1555.3 105.4 1555.2 105.4 1555 105.4 1555 105.5 1553.5 108.4 1551.9 111.2 1550.3 114.1 1548.8 117.1 1547.5 120.3 1546.7 123.8 1546.3 127.5 1546.1 131.5 1546.2 135.6 1546.6 139.9 1547.4 144.4 1548.7 149 1550.6 153.8 1553 158.9 1555.9 164 1558.8 169 1561.7 173.9 1564.3 178.3 1566.8 182.4 1569.3 186.2 1571.7 189.6 1573.8 192.9 1575.6 196.2 1577 199.7 1578.1 203.6 1578.8 207.6 1579.3 211.9 1579.7 216.5 1580 221.2 1580.4 226.1 1580.9 231 1581.3 236.1 1581.7 241.4 1582 246.7 1582.4 252 1582.8 257.2 1583.6 259.3 1585.3 260.7 1587.4 261.1 1589.5 260.4 1590.9 258.7Z"/><path d="M1582.4 198.8 1583 192.7 1583.6 186.5 1584.1 180.3 1584.7 174.3 1585.3 168.7 1585.9 163.5 1586.6 158.9 1587.3 154.6 1588 150.7 1588.8 147.1 1589.6 143.7 1590.6 140.5 1591.7 137.6 1592.9 134.9 1594.2 132.5 1595.5 130.2 1596.8 127.9 1598.1 125.4 1598.2 125.3 1598.1 125.1 1598.1 125.1 1597.9 125 1597.8 125.1 1597.7 125.1 1596.2 127.5 1594.7 129.7 1593.2 131.9 1591.7 134.3 1590.3 136.9 1589 139.9 1587.8 143.1 1586.7 146.5 1585.6 150.2 1584.7 154.1 1583.7 158.4 1582.8 163 1581.9 168.2 1581.1 173.9 1580.3 179.9 1579.6 186.1 1578.9 192.3 1578.2 198.3 1578.4 199.4 1579 200.2 1580.1 200.6 1581.1 200.5 1582 199.8Z"/><path d="M1538.6 318.1 1535.3 319 1532.3 320 1529.4 320.9 1526.4 321.8 1522.9 322.7 1518.6 323.5 1513 324.6 1506.4 325.9 1499.5 327.1 1492.6 328.1 1486.5 328.5 1481.8 328.3 1478.6 327.2 1476.1 325.4 1473.9 323 1471.7 320.1 1469.4 317.1 1466.6 314.4 1463.5 312.3 1460.4 310.5 1457.5 308.9 1454.7 307.4 1452.4 305.8 1450.5 304.1 1449 302.1 1447.8 299.8 1446.8 297.3 1446 294.7 1445.4 292.1 1444.8 289.8 1444.6 287.8 1444.8 286.1 1445.2 284.2 1445.5 282 1445.3 279.5 1444.3 276.7 1442.5 273.7 1440.1 270.5 1437.3 267.1 1434.3 263.6 1431.3 260.1 1428.5 256.7 1428.4 256.7 1428.3 256.7 1428.1 256.7 1428.1 256.8 1428.1 256.9 1428.1 257.1 1430.7 260.6 1433.4 264.3 1436.2 268 1438.7 271.5 1440.8 274.8 1442.3 277.7 1442.9 280 1442.9 281.9 1442.6 283.6 1442.1 285.6 1441.7 287.8 1441.8 290.2 1442.2 292.8 1442.8 295.5 1443.5 298.4 1444.4 301.2 1445.7 304 1447.5 306.7 1449.7 309 1452.4 311 1455.2 312.8 1458.1 314.6 1460.9 316.3 1463.4 318.2 1465.5 320.4 1467.4 323.2 1469.6 326.4 1472.3 329.6 1475.9 332.4 1480.6 334.1 1486.5 334.7 1493.2 334.5 1500.4 333.7 1507.6 332.7 1514.3 331.6 1519.8 330.7 1524.4 329.9 1528.2 329 1531.6 328 1534.6 327.1 1537.5 326.2 1540.6 325.3 1542.3 324.3 1543.2 322.6 1543.2 320.7 1542.2 319 1540.5 318.1Z"/><path d="M1446 305.1 1439.8 305.3 1433.4 305.6 1427.1 306 1421 306.2 1415.5 306.2 1410.9 305.7 1407.2 304.8 1404.2 303.5 1401.6 301.8 1399.4 300 1397.4 298.2 1395.5 296.5 1393.9 295.1 1392.7 293.6 1391.8 292.2 1391 290.8 1390.2 289.3 1389.2 287.9 1389.1 287.8 1389 287.8 1388.9 287.8 1388.8 287.9 1388.8 288 1388.8 288.1 1389.6 289.6 1390.3 291.1 1391 292.7 1391.9 294.2 1393 295.8 1394.5 297.5 1396.3 299.3 1398.2 301.3 1400.4 303.3 1403.1 305.3 1406.4 307 1410.5 308.3 1415.3 309 1421 309.3 1427.2 309.3 1433.6 309.2 1439.9 309 1446 308.9 1447 308.6 1447.7 307.9 1447.9 307 1447.6 306 1446.9 305.3Z"/><path d="M1410.2 305.7 1408.1 306.5 1406 307.3 1403.8 308.1 1401.7 309 1399.6 310 1397.5 311.1 1395.5 312.3 1393.6 313.7 1391.7 315.1 1389.8 316.6 1388 318.1 1386.2 319.5 1386.1 319.6 1386.1 319.7 1386.1 319.8 1386.2 319.9 1386.3 319.9 1386.4 319.9 1388.5 318.7 1390.5 317.5 1392.5 316.2 1394.5 315 1396.5 313.9 1398.5 312.9 1400.5 312 1402.6 311.3 1404.7 310.5 1406.9 309.8 1409 309.1 1411.2 308.3 1411.8 307.9 1412.1 307.2 1412 306.5 1411.6 305.9 1410.9 305.6Z"/><path d="M1480.2 331 1475.1 334.3 1469.8 337.8 1464.5 341.4 1459.5 344.7 1454.8 347.8 1450.7 350.3 1447.4 352.1 1444.7 353.2 1442.4 354 1440.1 354.8 1437.5 355.9 1434.6 357.4 1431.3 359.6 1427.8 362 1424.2 364.7 1420.5 367.5 1416.9 370.4 1413.3 373.1 1413.2 373.2 1413.2 373.3 1413.2 373.4 1413.3 373.5 1413.4 373.5 1413.6 373.5 1417.3 371 1421.2 368.4 1425 365.8 1428.7 363.4 1432.3 361.1 1435.6 359.2 1438.5 357.9 1440.8 357 1443.1 356.4 1445.6 355.6 1448.5 354.5 1452.1 352.8 1456.4 350.4 1461.2 347.5 1466.4 344.3 1471.8 340.9 1477.1 337.4 1482.3 334.2 1482.9 333.4 1483.1 332.5 1482.8 331.5 1482.1 330.9 1481.2 330.7Z"/><path d="M1516.3 332.2 1515.5 335.4 1514.7 338.7 1514 342 1513.2 345.2 1512.3 348.2 1511.2 351 1510.1 353.7 1508.8 356.2 1507.5 358.6 1506.1 360.7 1504.4 362.7 1502.5 364.4 1500.2 365.8 1497.5 366.9 1494.5 367.8 1491.4 368.6 1488.3 369.4 1485.3 370.3 1485.1 370.4 1485.1 370.5 1485.1 370.6 1485.1 370.7 1485.3 370.8 1485.4 370.8 1488.4 370.1 1491.6 369.5 1494.8 368.9 1497.9 368.2 1500.8 367.2 1503.5 365.9 1505.7 364.1 1507.7 362.1 1509.4 359.8 1510.9 357.4 1512.3 354.8 1513.7 352.1 1514.9 349.2 1516 346 1516.9 342.8 1517.7 339.5 1518.6 336.2 1519.4 333 1519.4 332.1 1519 331.4 1518.3 331 1517.5 331 1516.7 331.4Z"/><path d="M1551 339.5 1549.7 343.3 1548.7 347.1 1547.7 350.8 1546.6 354.3 1545.2 357.4 1543.4 360.3 1541.2 363.2 1538.5 366.1 1535.6 368.8 1532.3 371.4 1528.7 373.7 1524.8 375.7 1520.1 377.3 1514.6 378.7 1508.6 379.9 1502.5 380.9 1496.7 381.9 1491.6 382.9 1487.5 383.9 1484.1 385 1481.3 385.9 1478.6 386.6 1475.6 387.1 1471.8 387.4 1466.9 387.2 1461 386.7 1454.8 386 1448.6 385.2 1442.8 384.5 1437.9 384.2 1434.1 384.1 1430.9 384.1 1428.2 384.2 1425.8 384.5 1423.5 385.1 1421.2 386.2 1419 387.7 1417.1 389.7 1415.4 391.9 1413.8 394.3 1412.2 396.7 1410.5 398.9 1410.5 399 1410.5 399.1 1410.5 399.2 1410.7 399.3 1410.8 399.3 1410.9 399.2 1412.7 397.1 1414.5 394.8 1416.2 392.6 1418 390.5 1419.9 388.8 1421.9 387.5 1424 386.7 1426.1 386.3 1428.3 386.1 1430.9 386.2 1434 386.4 1437.7 386.7 1442.5 387.3 1448.1 388.3 1454.3 389.4 1460.6 390.5 1466.5 391.3 1471.7 391.7 1476 391.6 1479.5 391.2 1482.6 390.5 1485.5 389.7 1488.7 388.9 1492.6 388.1 1497.6 387.3 1503.3 386.6 1509.5 385.8 1515.8 384.8 1521.9 383.5 1527.3 381.7 1531.9 379.5 1536.2 377 1540 374.2 1543.5 371.1 1546.5 367.9 1549.3 364.5 1551.7 360.8 1553.4 356.9 1554.7 353 1555.8 349.1 1556.9 345.5 1558.1 341.9 1558.2 339.9 1557.3 338.2 1555.7 337.1 1553.7 337 1552 337.9Z"/><path d="M1470.7 389.3 1467.3 391.7 1463.8 394 1460.3 396.4 1456.8 398.8 1453.5 401.6 1450.2 404.7 1447.1 408.2 1444 412 1441.1 416.1 1438.4 420.2 1436 424.4 1434.2 428.5 1433 432.5 1432.5 436.5 1432.3 440.4 1432.3 444.2 1432.3 448.1 1432.2 451.9 1432.2 452.1 1432.3 452.2 1432.4 452.2 1432.5 452.2 1432.6 452.1 1432.7 452 1433.1 448.1 1433.3 444.3 1433.5 440.5 1434 436.7 1434.7 432.9 1436 429.2 1438 425.5 1440.4 421.5 1443.2 417.6 1446.3 413.8 1449.5 410.2 1452.6 407 1455.7 404.1 1458.9 401.7 1462.3 399.4 1465.8 397.1 1469.4 394.9 1472.8 392.5 1473.5 391.7 1473.6 390.7 1473.3 389.8 1472.6 389.2 1471.6 389Z"/><path d="M1466.1 399 1466 401.6 1465.9 404.2 1465.7 406.9 1465.7 409.6 1465.8 412.5 1466.3 415.6 1467.2 419 1468.6 422.5 1470.1 426.1 1471.6 429.6 1472.8 432.9 1473.5 435.8 1473.7 438.4 1473.6 440.8 1473.2 443 1472.7 445.1 1472 447.1 1471.2 448.9 1470.2 450.7 1469.1 452.2 1467.7 453.6 1466.3 455 1464.8 456.4 1463.4 457.9 1463.4 458 1463.4 458.1 1463.4 458.2 1463.5 458.3 1463.7 458.3 1463.8 458.2 1465.2 456.9 1466.8 455.6 1468.3 454.3 1469.8 452.9 1471.2 451.3 1472.3 449.5 1473.3 447.6 1474.1 445.6 1474.8 443.4 1475.3 441 1475.6 438.4 1475.5 435.5 1474.9 432.3 1473.8 428.8 1472.4 425.2 1471 421.6 1469.9 418.1 1469.1 415 1468.8 412.2 1468.7 409.6 1468.8 407 1469 404.4 1469.2 401.8 1469.3 399.1 1469.1 398.3 1468.5 397.7 1467.7 397.4 1466.9 397.6 1466.3 398.2Z"/><path d="M1524.3 379.2 1523.2 381.5 1521.9 383.6 1520.6 385.8 1519.4 388.3 1518.3 391.2 1517.5 394.6 1517 398.7 1516.9 403.2 1517 408 1517 412.9 1516.9 417.6 1516.5 421.9 1515.7 425.9 1514.9 429.9 1513.9 433.8 1512.7 437.5 1511 441.1 1509 444.6 1506.3 448 1503 451.2 1499.3 454.4 1495.5 457.6 1491.6 460.7 1487.9 464 1487.8 464.1 1487.8 464.2 1487.8 464.3 1487.9 464.4 1488.1 464.4 1488.2 464.4 1492 461.3 1496.1 458.4 1500.1 455.4 1504 452.4 1507.5 449.2 1510.5 445.7 1512.9 442.1 1514.8 438.4 1516.2 434.5 1517.4 430.6 1518.4 426.5 1519.3 422.3 1519.9 417.8 1520.2 412.9 1520.3 408 1520.3 403.3 1520.5 399 1521 395.3 1521.8 392.3 1522.8 389.8 1523.9 387.6 1525.2 385.5 1526.5 383.3 1527.7 380.9 1527.9 379.9 1527.6 379 1526.9 378.4 1525.9 378.1 1525 378.5Z"/><path d="M1567.3 343.3 1566 346.5 1564.5 349.6 1563 352.8 1561.5 356.3 1560.2 360.1 1559.1 364.3 1558.3 369.2 1557.7 374.4 1557.2 379.9 1556.9 385.4 1556.8 390.4 1556.7 394.9 1556.6 398.5 1556.7 401.7 1556.9 404.5 1557.2 407.3 1557.7 410.1 1558.4 413.3 1559.4 417 1560.9 420.8 1562.4 424.7 1563.8 428.4 1564.9 431.7 1565.5 434.5 1565.6 436.9 1565.2 439.1 1564.6 441.1 1563.8 443.1 1562.9 445 1562 446.8 1561.3 448.2 1560.6 449.1 1559.8 450 1558.7 451.1 1557.3 452.7 1555.6 454.8 1553.6 457.5 1551 460.9 1548.2 464.6 1545.5 468.5 1543 472.3 1541.1 475.7 1539.7 478.7 1538.8 481.5 1538.2 484.1 1537.8 486.7 1537.5 489.5 1537.3 492.6 1537.2 496.1 1537.2 499.8 1537.4 503.8 1537.6 507.8 1537.8 511.8 1538 515.7 1538 515.8 1538.1 515.9 1538.2 516 1538.4 515.9 1538.4 515.8 1538.5 515.7 1538.6 511.8 1538.6 507.8 1538.6 503.7 1538.7 499.8 1538.8 496.1 1539.2 492.7 1539.6 489.7 1540 487 1540.5 484.6 1541.2 482.2 1542.2 479.7 1543.5 477 1545.5 473.9 1548.1 470.4 1551 466.7 1553.9 463.2 1556.6 460 1558.8 457.3 1560.4 455.4 1561.7 454.1 1562.8 453.1 1563.9 452 1565 450.6 1566 449 1567 447.1 1568.1 445.1 1569.1 442.8 1570 440.2 1570.6 437.3 1570.6 434.1 1570.1 430.5 1569 426.7 1567.6 422.7 1566.2 418.9 1565 415.2 1564.2 411.9 1563.7 409 1563.4 406.5 1563.2 404.1 1563.1 401.5 1563.1 398.6 1563.2 395.1 1563.4 390.7 1563.7 385.8 1564.2 380.5 1564.7 375.2 1565.4 370.2 1566.2 365.9 1567.2 362.3 1568.4 359 1569.8 355.9 1571.2 352.8 1572.8 349.6 1574.2 346.3 1574.5 344.3 1573.8 342.5 1572.3 341.3 1570.4 341 1568.6 341.8Z"/><path d="M1559.4 411.1 1556.6 412.2 1553.9 413.3 1551.1 414.3 1548.3 415.5 1545.6 416.7 1543 418.2 1540.5 419.8 1538.1 421.4 1535.7 423.2 1533.5 425.1 1531.3 427.3 1529.4 429.7 1527.6 432.3 1526 435.3 1524.5 438.4 1523.2 441.5 1521.8 444.7 1520.4 447.8 1520.3 447.9 1520.4 448 1520.5 448.1 1520.6 448.1 1520.7 448.1 1520.8 448 1522.5 445 1524.1 442 1525.7 438.9 1527.3 436 1529 433.3 1530.8 430.8 1532.8 428.7 1534.9 426.8 1537.2 425.1 1539.5 423.5 1541.9 422 1544.3 420.6 1546.8 419.3 1549.5 418.2 1552.2 417.2 1555 416.2 1557.8 415.2 1560.5 414.1 1561.2 413.6 1561.5 412.8 1561.4 412 1560.9 411.4 1560.2 411Z"/><path d="M1557 457.7 1557.7 460.4 1558.3 463.1 1558.9 465.8 1559.6 468.6 1560.4 471.4 1561.4 474.2 1562.7 477 1564.3 479.7 1565.9 482.4 1567.5 485.1 1568.9 487.7 1570 490.2 1570.7 492.6 1571.1 495.1 1571.3 497.5 1571.5 499.9 1571.6 502.4 1571.9 504.9 1571.9 505 1572 505.1 1572.2 505.1 1572.3 505.1 1572.4 505 1572.4 504.8 1572.4 502.4 1572.4 499.9 1572.4 497.5 1572.4 495 1572.1 492.4 1571.6 489.7 1570.6 486.9 1569.3 484.1 1567.9 481.3 1566.4 478.5 1565 475.8 1563.9 473.2 1563.1 470.5 1562.4 467.9 1561.8 465.2 1561.3 462.5 1560.8 459.7 1560.1 457 1559.7 456.3 1559 455.8 1558.2 455.8 1557.5 456.2 1557.1 456.9Z"/><path d="M1538.9 476.5 1536.6 477.8 1534.3 479.1 1532 480.3 1529.7 481.7 1527.5 483.3 1525.3 485.1 1523.4 487.2 1521.6 489.5 1519.9 491.9 1518.2 494.4 1516.6 496.9 1515 499.3 1514.9 499.4 1514.9 499.5 1515 499.6 1515.1 499.7 1515.3 499.7 1515.4 499.6 1517.3 497.4 1519.1 495 1521 492.7 1522.8 490.5 1524.7 488.5 1526.7 486.7 1528.8 485.1 1531 483.8 1533.2 482.6 1535.6 481.4 1538 480.2 1540.3 478.9 1540.8 478.4 1541 477.7 1540.8 477 1540.3 476.5 1539.6 476.3Z"/><path d="M1617.9 338.2 1616 340.5 1614.1 342.7 1612.2 344.9 1610.2 347.3 1608.3 350 1606.5 353.1 1605 356.6 1603.7 360.3 1602.5 364.1 1601.4 367.9 1600.1 371.6 1598.7 375 1596.8 378.1 1594.6 381.3 1592.2 384.4 1589.8 387.6 1587.5 390.9 1585.7 394.3 1584.3 397.8 1583.1 401.3 1582.2 404.8 1581.5 408.3 1581 411.8 1580.7 415.2 1580.6 418.5 1580.8 421.8 1581.3 424.9 1581.8 428.1 1582.3 431.2 1582.8 434.3 1582.8 434.4 1582.9 434.5 1583 434.5 1583.1 434.5 1583.2 434.4 1583.2 434.3 1583.1 431.1 1582.8 428 1582.5 424.8 1582.3 421.7 1582.3 418.5 1582.5 415.4 1583.1 412.1 1583.8 408.8 1584.6 405.5 1585.7 402.1 1587 398.9 1588.5 395.7 1590.4 392.7 1592.6 389.8 1595.2 386.8 1597.8 383.7 1600.3 380.5 1602.5 377 1604.3 373.3 1605.8 369.5 1607.2 365.6 1608.4 361.9 1609.7 358.5 1611.1 355.5 1612.7 352.9 1614.4 350.6 1616.3 348.4 1618.2 346.3 1620.2 344.1 1622.1 341.8 1622.7 340.5 1622.6 339 1621.8 337.9 1620.5 337.3 1619 337.4Z"/><path d="M1628.2 323.1 1631.4 326 1634.6 329 1637.9 331.8 1641.1 334.7 1644.1 337.6 1647 340.5 1649.7 343.5 1652.3 346.8 1654.9 350.3 1657.6 353.7 1660.6 357 1664 359.7 1667.4 361.9 1670.9 363.7 1674.6 365.1 1678.6 366.2 1683 366.8 1687.8 366.8 1693.3 366.1 1699.2 364.5 1705.2 362.5 1711.3 360.6 1717.3 359 1723.1 358.1 1729.1 357.9 1735.3 358 1741.6 358.6 1747.8 359.3 1753.7 360.3 1759.2 361.4 1764 362.6 1768.5 364 1772.6 365.5 1776.6 367.3 1780.6 369.3 1784.8 371.5 1789.2 373.9 1793.5 376.6 1797.9 379.5 1802.2 382.5 1806.6 385.5 1811 388.4 1811.1 388.4 1811.2 388.4 1811.3 388.3 1811.4 388.2 1811.4 388.1 1811.3 388 1807.1 384.8 1802.9 381.6 1798.6 378.4 1794.4 375.3 1790.2 372.3 1785.9 369.6 1781.7 367.2 1777.7 365 1773.7 363 1769.5 361.2 1765 359.5 1760 358 1754.5 356.7 1748.4 355.4 1742.1 354.4 1735.6 353.6 1729.1 353.2 1722.8 353.2 1716.4 353.9 1709.9 355.4 1703.6 357.2 1697.6 358.9 1692.2 360.2 1687.5 360.7 1683.5 360.5 1679.9 359.9 1676.7 359 1673.7 357.7 1670.8 356.1 1668 354.3 1665.3 352 1662.9 349.3 1660.5 346.1 1658 342.6 1655.3 339 1652.3 335.5 1649.2 332.4 1646.1 329.3 1642.9 326.3 1639.6 323.4 1636.4 320.5 1633.2 317.6 1631.5 316.7 1629.6 316.8 1627.9 317.8 1627 319.5 1627.1 321.5Z"/><path d="M1650.3 344.4 1649.8 347.5 1649.2 350.6 1648.6 353.8 1648.1 357.1 1647.8 360.4 1647.9 363.9 1648.3 367.3 1649 370.8 1650 374.3 1651.1 377.8 1652.5 381.3 1654 384.6 1655.8 387.9 1657.9 391 1660.2 394.1 1662.5 397.2 1664.9 400.2 1667.1 403.2 1667.2 403.3 1667.3 403.4 1667.5 403.3 1667.6 403.2 1667.6 403.1 1667.5 403 1665.6 399.7 1663.5 396.5 1661.4 393.3 1659.5 390.1 1657.7 386.8 1656.2 383.6 1655 380.3 1653.9 376.9 1653 373.5 1652.3 370.2 1651.8 366.8 1651.5 363.7 1651.6 360.6 1651.9 357.6 1652.5 354.6 1653.2 351.5 1653.9 348.3 1654.5 345.1 1654.4 344 1653.8 343.2 1652.8 342.7 1651.7 342.8 1650.8 343.4Z"/><path d="M1687.2 367 1688.5 371.3 1689.7 375.6 1690.9 380 1692.3 384.3 1693.8 388.7 1695.6 392.9 1697.8 397.3 1700.1 401.6 1702.6 406 1705.3 410.2 1708.2 414.1 1711.2 417.5 1714.6 420.5 1718.3 422.9 1722.1 425 1725.7 426.9 1729.1 428.8 1732 430.8 1734.4 432.9 1736.4 435.1 1738.1 437.3 1739.7 439.5 1741.3 441.7 1743.1 444 1743.2 444 1743.3 444.1 1743.5 444 1743.5 443.9 1743.6 443.8 1743.5 443.7 1741.9 441.4 1740.4 439.1 1738.9 436.8 1737.2 434.4 1735.3 432.1 1732.9 429.7 1730 427.5 1726.6 425.4 1723 423.3 1719.4 421.1 1716 418.7 1713 415.8 1710.3 412.4 1707.6 408.6 1705.2 404.5 1702.8 400.2 1700.7 395.8 1698.7 391.6 1697.1 387.4 1695.7 383.2 1694.4 379 1693.3 374.6 1692.1 370.3 1690.9 365.9 1690.3 365.1 1689.5 364.6 1688.5 364.7 1687.7 365.2 1687.2 366Z"/><path d="M1759.6 361.5 1760.5 364.4 1761.4 367.4 1762.3 370.3 1763.2 373.3 1764.2 376.2 1765.3 379.1 1766.3 381.9 1767.3 384.8 1768.4 387.7 1769.6 390.5 1771 393.1 1772.6 395.4 1774.4 397.4 1776.5 399.1 1778.6 400.6 1780.9 401.9 1783.1 403.2 1785.2 404.7 1785.3 404.7 1785.5 404.7 1785.6 404.6 1785.6 404.5 1785.6 404.4 1785.5 404.3 1783.5 402.7 1781.3 401.2 1779.2 399.7 1777.2 398.2 1775.4 396.5 1773.8 394.5 1772.4 392.3 1771.3 389.7 1770.3 387 1769.3 384.1 1768.4 381.2 1767.5 378.3 1766.6 375.4 1765.7 372.5 1764.8 369.6 1764 366.6 1763.2 363.6 1762.3 360.6 1761.9 360 1761.3 359.7 1760.5 359.7 1759.9 360.1 1759.6 360.7Z"/><path d="M1724.4 354.9 1725.5 352 1726.6 349.1 1727.6 346.2 1728.6 343.4 1729.7 340.9 1730.9 338.8 1732.1 337 1733.4 335.6 1734.8 334.4 1736.4 333.3 1738 332.1 1739.8 330.8 1741.9 329.4 1744.2 328 1746.7 326.6 1749.1 325.2 1751.3 323.7 1753.2 322.2 1754.7 320.6 1755.8 318.9 1756.7 317.3 1757.5 315.6 1758.3 314 1759.1 312.3 1759.2 312.2 1759.1 312.1 1759 312 1758.9 312 1758.8 312 1758.7 312.1 1757.7 313.7 1756.8 315.3 1755.9 316.8 1755 318.4 1753.8 319.8 1752.4 321.2 1750.5 322.5 1748.3 323.8 1745.8 325.1 1743.3 326.3 1740.8 327.6 1738.6 328.9 1736.7 330.1 1735 331.3 1733.3 332.4 1731.7 333.7 1730.1 335.3 1728.6 337.2 1727.2 339.6 1725.9 342.2 1724.7 345.1 1723.6 348 1722.6 350.9 1721.5 353.7 1721.4 354.5 1721.7 355.3 1722.4 355.8 1723.2 355.8 1724 355.5Z"/><path d="M1616.1 338 1616.1 341.8 1616.2 345.3 1616.3 348.9 1616.4 352.6 1616.4 356.5 1616.2 360.9 1616 365.7 1615.6 371 1615.2 376.6 1614.7 382.5 1614.3 388.6 1614 394.8 1613.7 401.3 1613.4 408.4 1613.1 415.6 1613 422.8 1613.1 429.6 1613.5 435.9 1614.5 441.5 1616.1 446.7 1617.8 451.4 1619.4 455.6 1620.6 459.4 1621 462.8 1620.7 465.8 1619.9 468.4 1618.7 470.8 1617.1 473.2 1615.4 475.7 1613.6 478.5 1611.7 481.6 1609.7 484.8 1607.5 488 1605.2 491.3 1602.9 494.7 1600.7 497.9 1600.6 498.1 1600.6 498.2 1600.7 498.3 1600.8 498.3 1601 498.3 1601.1 498.2 1603.5 495.1 1606 492 1608.5 488.8 1610.9 485.7 1613.2 482.6 1615.3 479.6 1617.2 477 1619.1 474.6 1620.8 472.1 1622.4 469.5 1623.5 466.4 1624.1 462.8 1623.8 458.8 1622.8 454.5 1621.4 450.1 1619.9 445.5 1618.7 440.7 1618 435.5 1617.9 429.6 1618.1 422.9 1618.6 415.9 1619.1 408.7 1619.7 401.7 1620.3 395.2 1620.8 389 1621.4 383 1622 377.2 1622.6 371.6 1623.1 366.3 1623.4 361.2 1623.6 356.7 1623.7 352.6 1623.7 348.8 1623.7 345.2 1623.6 341.7 1623.6 338 1623.1 336.1 1621.7 334.7 1619.8 334.2 1617.9 334.8 1616.6 336.1Z"/><path d="M1620.7 386.5 1622.4 389.6 1624 392.9 1625.6 396.2 1627.4 399.5 1629.5 402.7 1631.9 405.7 1634.7 408.6 1637.7 411.2 1640.9 413.7 1644.3 416.1 1647.8 418.5 1651.6 420.8 1655.6 423 1659.9 425 1664.3 426.9 1668.8 428.9 1673.2 431.1 1677.5 433.8 1681.8 437.1 1686.2 440.9 1690.6 445 1695 449.2 1699.4 453.5 1703.8 457.6 1703.9 457.6 1704 457.6 1704.1 457.6 1704.2 457.4 1704.2 457.3 1704.1 457.2 1700 452.9 1695.8 448.4 1691.6 444 1687.4 439.7 1683.1 435.7 1678.8 432.1 1674.4 429 1669.9 426.5 1665.5 424.3 1661.1 422.3 1657 420.2 1653.3 418 1649.7 415.6 1646.3 413.2 1643.1 410.8 1640.1 408.4 1637.4 405.8 1634.9 403.2 1632.8 400.4 1630.9 397.4 1629.3 394.3 1627.7 391 1626.1 387.7 1624.4 384.5 1623.7 383.7 1622.6 383.4 1621.6 383.6 1620.8 384.4 1620.5 385.4Z"/><path d="M1650.8 420.8 1651 425.7 1651.2 430.7 1651.4 435.7 1651.6 440.6 1652 445.2 1652.6 449.4 1653.3 453.1 1654.2 456.5 1655.2 459.5 1656.2 462.3 1657.4 464.8 1658.6 467.2 1659.9 469.3 1661.3 471 1662.8 472.5 1664.2 473.8 1665.7 475.1 1667.1 476.5 1667.3 476.6 1667.4 476.6 1667.5 476.6 1667.6 476.4 1667.6 476.3 1667.5 476.2 1666.2 474.7 1664.8 473.2 1663.4 471.8 1662.1 470.3 1660.9 468.6 1659.8 466.6 1658.8 464.2 1657.8 461.7 1656.9 459 1656.1 456 1655.5 452.7 1654.9 449.1 1654.6 445 1654.4 440.5 1654.3 435.6 1654.2 430.6 1654.2 425.6 1654 420.7 1653.8 419.9 1653.2 419.3 1652.3 419.1 1651.6 419.4 1651 420Z"/><path d="M1621.9 465.1 1623.7 467.5 1625.4 469.9 1627 472.4 1628.9 474.9 1631.2 477.5 1633.9 480 1637.2 482.6 1641 485.2 1645.1 487.9 1649.3 490.4 1653.6 493 1657.7 495.6 1657.8 495.6 1657.9 495.6 1658 495.5 1658.1 495.4 1658.1 495.3 1658 495.2 1654.1 492.3 1650.1 489.3 1646.1 486.4 1642.2 483.6 1638.7 480.8 1635.6 478.1 1633.2 475.6 1631.2 473.1 1629.5 470.7 1627.9 468.2 1626.3 465.7 1624.5 463.2 1623.9 462.7 1623.1 462.6 1622.3 462.9 1621.8 463.5 1621.6 464.3Z"/><path d="M1601.3 275.2 1603 272.6 1604.8 270 1606.5 267.3 1608.3 264.7 1610.1 261.9 1612 259 1614.1 256.1 1616.5 253.1 1619.2 249.8 1621.7 246.2 1624.1 242.2 1625.9 237.6 1627.1 232.3 1627.6 226.5 1627.9 220.5 1628 214.8 1628.1 209.8 1628.4 205.7 1628.9 202.7 1629.2 200.5 1629.5 199 1629.9 197.9 1630.6 196.7 1631.8 194.9 1633.4 192.9 1635.3 190.8 1637.6 188.6 1640.2 186.3 1643 184 1645.9 181.8 1649.1 179.6 1652.7 177.3 1656.6 175 1660.6 172.6 1664.3 170.2 1667.5 167.8 1670 165.5 1671.9 163.3 1673.5 161.1 1675 158.8 1676.6 156.4 1678.5 153.6 1680.8 150.1 1683.3 146.2 1686 142 1688.7 137.8 1691.4 133.8 1694.2 130.4 1697 127.4 1699.7 124.8 1702.5 122.5 1705.5 120.2 1708.9 117.8 1712.6 115.3 1717 112.6 1721.8 109.8 1726.9 107 1732.3 104.1 1737.6 101.2 1742.7 98.4 1742.8 98.3 1742.9 98.2 1742.9 98 1742.8 97.9 1742.6 97.9 1742.5 97.9 1737.2 100.5 1731.8 103.1 1726.3 105.8 1721 108.4 1716.1 111 1711.6 113.5 1707.6 116 1704.1 118.2 1700.9 120.4 1697.9 122.8 1695 125.4 1692 128.3 1688.9 131.8 1685.9 135.8 1683 140 1680.2 144.1 1677.6 147.9 1675.1 151.2 1673.1 154 1671.4 156.4 1669.9 158.5 1668.5 160.4 1666.7 162.2 1664.5 164.1 1661.6 166.2 1658 168.4 1654.1 170.5 1650.1 172.7 1646.2 175 1642.7 177.3 1639.5 179.6 1636.6 181.9 1633.8 184.2 1631.2 186.6 1628.9 188.9 1626.9 191.3 1625.4 193.4 1624.3 195.3 1623.6 197.2 1623.1 199.3 1622.6 201.7 1622.1 204.9 1621.6 209.3 1621.4 214.6 1621.2 220.3 1620.8 226 1620.2 231.2 1619.2 235.5 1617.7 239 1615.7 242.3 1613.4 245.4 1610.9 248.5 1608.3 251.6 1606 254.8 1603.9 257.8 1602.1 260.5 1600.3 263.2 1598.5 265.8 1596.8 268.4 1595 271.1 1594.4 272.9 1594.8 274.8 1596.1 276.3 1597.9 276.9 1599.8 276.5Z"/><path d="M1696.1 129.6 1698.7 129.1 1701.2 128.6 1703.6 128.1 1706.1 127.6 1709 127.1 1712.2 126.7 1716.1 126.5 1720.6 126.3 1725.3 126.2 1730.2 126 1735 125.6 1739.4 124.8 1743.4 123.7 1747.1 122.2 1750.7 120.5 1754.1 118.8 1757.5 117 1761 115.3 1761.1 115.2 1761.2 115.1 1761.2 115 1761.1 114.9 1761 114.9 1760.8 114.9 1757.2 116.3 1753.7 117.9 1750.2 119.4 1746.6 120.9 1742.9 122.1 1739.1 123 1734.8 123.5 1730.1 123.7 1725.3 123.7 1720.5 123.7 1716 123.7 1712 123.8 1708.6 124.2 1705.6 124.6 1703 125 1700.5 125.5 1698.1 126 1695.5 126.4 1694.8 126.8 1694.3 127.4 1694.2 128.3 1694.6 129 1695.3 129.5Z"/><path d="M1674.2 157.2 1673.3 155 1672.5 153 1671.6 150.9 1670.7 148.7 1669.7 146.4 1668.7 143.8 1667.4 140.7 1666 137.5 1664.5 134 1663.2 130.6 1662.1 127.1 1661.5 123.8 1661.4 120.6 1661.6 117.4 1662.2 114.2 1662.9 110.9 1663.6 107.6 1664.2 104.3 1664.2 104.2 1664.1 104.1 1664 104 1663.9 104 1663.8 104.1 1663.7 104.2 1662.9 107.4 1661.9 110.7 1661 113.9 1660.2 117.2 1659.7 120.6 1659.6 124 1660.1 127.6 1661 131.2 1662.2 134.9 1663.6 138.5 1664.9 141.8 1666 144.8 1666.9 147.5 1667.8 149.9 1668.7 152.1 1669.5 154.2 1670.4 156.3 1671.3 158.4 1671.8 159.1 1672.5 159.4 1673.4 159.3 1674 158.8 1674.3 158.1Z"/><path d="M1653.4 178.2 1655.5 178.7 1657.6 179.2 1659.8 179.7 1661.9 180.2 1664 180.4 1666 180.5 1667.8 180.2 1669.4 179.7 1670.8 179.1 1672.2 178.4 1673.5 177.7 1674.9 177.1 1675 177 1675 176.9 1675 176.7 1675 176.6 1674.8 176.6 1674.7 176.6 1673.2 177 1671.8 177.5 1670.4 178 1669 178.4 1667.5 178.6 1666 178.6 1664.3 178.4 1662.4 177.9 1660.4 177.3 1658.3 176.7 1656.2 176 1654.1 175.5 1653.4 175.5 1652.8 175.9 1652.4 176.5 1652.4 177.2 1652.8 177.8Z"/><path d="M1627.2 194.8 1625.2 192.6 1623.2 190.4 1621.2 188.3 1619.2 186.1 1617.3 183.9 1615.5 181.5 1613.7 178.8 1611.8 175.9 1610 172.8 1608.3 169.7 1606.8 166.9 1605.6 164.4 1604.7 162.2 1604.2 160.4 1603.9 158.7 1603.7 157.1 1603.5 155.5 1603.1 153.7 1603.1 153.6 1603 153.5 1602.9 153.5 1602.7 153.6 1602.7 153.7 1602.6 153.8 1602.8 155.5 1602.9 157.2 1603 158.8 1603.2 160.6 1603.6 162.6 1604.3 164.9 1605.3 167.6 1606.6 170.6 1608.2 173.8 1609.8 177 1611.6 180.1 1613.3 183 1615.1 185.6 1617 188 1618.9 190.3 1620.9 192.5 1622.8 194.7 1624.8 196.9 1625.4 197.3 1626.3 197.4 1627 197 1627.5 196.3 1627.5 195.5Z"/><path d="M1625.5 242.2 1628.7 241.7 1631.9 241.1 1635 240.5 1638.1 239.9 1641.2 239.5 1644.3 239.2 1647.4 239.2 1650.8 239.6 1654.2 240 1657.6 240.4 1660.7 240.4 1663.5 240 1665.7 238.9 1667.4 237.3 1668.7 235.5 1669.9 233.5 1671 231.6 1672.3 229.9 1672.3 229.8 1672.3 229.6 1672.2 229.5 1672.1 229.5 1672 229.5 1671.9 229.6 1670.5 231.2 1669.2 233.1 1667.9 234.9 1666.5 236.5 1665 237.7 1663.1 238.5 1660.7 238.7 1657.8 238.5 1654.6 237.9 1651.1 237.3 1647.7 236.8 1644.2 236.6 1641 236.7 1637.7 237 1634.5 237.5 1631.3 238 1628.2 238.5 1625 239 1624.3 239.3 1623.8 240 1623.7 240.8 1624 241.6 1624.7 242.1Z"/><path d="M1636 293 1639.4 291.8 1642.9 290.6 1646.4 289.4 1649.8 288.2 1653.1 287.1 1656 286.2 1658.6 285.6 1661.1 285.4 1663.9 285.2 1667 284.7 1670.3 283.5 1673.7 281.2 1676.8 277.9 1679.6 273.9 1682.3 269.6 1684.9 265.1 1687.5 261 1690.1 257.5 1692.8 254.3 1695.5 251.2 1698.2 248.4 1701 245.8 1703.8 243.5 1706.6 241.6 1709.5 240.1 1712.6 239 1715.8 238.2 1719.2 237.5 1722.7 236.8 1726.1 236 1729.5 235.2 1732.9 234.5 1736.3 233.8 1739.7 233.1 1743.1 232.3 1746.4 231.5 1749.7 230.7 1752.9 230 1756.2 229.2 1759.5 228.3 1762.7 227.1 1765.7 225.5 1768.6 223.4 1771.3 220.9 1773.9 218.3 1776.4 215.4 1778.6 212.6 1780.6 209.8 1782.2 207.1 1783.5 204.3 1784.6 201.5 1785.6 198.7 1786.6 196 1787.6 193.2 1787.6 193.1 1787.6 193 1787.5 192.9 1787.4 192.9 1787.2 192.9 1787.2 193 1785.9 195.7 1784.8 198.4 1783.7 201.1 1782.4 203.8 1781 206.4 1779.3 209 1777.3 211.5 1775 214.2 1772.4 216.8 1769.8 219.2 1767.1 221.4 1764.3 223.2 1761.5 224.5 1758.6 225.5 1755.5 226.2 1752.3 226.8 1749 227.3 1745.6 228 1742.3 228.6 1739 229.2 1735.6 229.8 1732.1 230.3 1728.6 230.9 1725.2 231.6 1721.8 232.2 1718.4 232.7 1714.8 233.3 1711.2 234.1 1707.6 235.3 1704 236.9 1700.6 239 1697.4 241.4 1694.2 244.2 1691.2 247.1 1688.3 250.3 1685.3 253.6 1682.3 257.4 1679.4 261.7 1676.6 266.1 1674 270.2 1671.4 273.6 1669.1 275.9 1667.2 277.2 1665.3 277.8 1663.1 278.1 1660.6 278.2 1657.5 278.5 1654.2 279.1 1650.9 280.1 1647.5 281.2 1644 282.4 1640.5 283.5 1637 284.7 1633.6 285.9 1632 287 1631.1 288.7 1631.2 290.6 1632.3 292.3 1634 293.1Z"/><path d="M1689.8 255.8 1690.1 253.3 1690.5 251 1690.8 248.6 1691.2 246 1691.4 243 1691.7 239.4 1691.8 235 1691.9 229.9 1692 224.4 1692 218.8 1691.9 213.2 1691.6 208 1691.2 203.1 1690.7 198.2 1690 193.5 1689.3 188.9 1688.6 184.2 1687.9 179.5 1687.9 179.4 1687.8 179.3 1687.7 179.3 1687.5 179.3 1687.5 179.4 1687.4 179.6 1687.7 184.3 1688.1 189 1688.5 193.7 1688.8 198.4 1689.1 203.2 1689.2 208.1 1689.1 213.3 1688.9 218.8 1688.7 224.4 1688.4 229.8 1688.1 234.8 1687.8 239.1 1687.5 242.6 1687.1 245.5 1686.8 248 1686.4 250.3 1686 252.7 1685.6 255.2 1685.7 256.3 1686.4 257.2 1687.4 257.6 1688.5 257.5 1689.3 256.8Z"/><path d="M1692.8 210.6 1696.2 207.8 1699.5 204.8 1702.8 201.9 1706.1 199.1 1709.4 196.5 1712.7 194.2 1716.3 192.5 1720.1 191.1 1724.1 189.9 1728 188.7 1731.4 187.3 1734.3 185.5 1736.3 183.3 1737.5 180.9 1738.3 178.4 1738.9 175.8 1739.4 173.3 1740.2 170.8 1740.2 170.7 1740.1 170.6 1740 170.5 1739.9 170.5 1739.8 170.5 1739.7 170.6 1738.8 173.1 1738.1 175.6 1737.4 178.1 1736.5 180.4 1735.2 182.6 1733.4 184.4 1730.7 185.8 1727.4 187 1723.6 187.9 1719.5 189 1715.4 190.2 1711.5 192 1707.9 194.2 1704.3 196.8 1700.9 199.6 1697.5 202.5 1694.1 205.4 1690.7 208.2 1690.3 208.8 1690.2 209.7 1690.5 210.4 1691.2 210.9 1692 211Z"/><path d="M1764.7 225.2 1767.7 225.7 1770.7 226.1 1773.7 226.5 1776.6 227 1779.4 227.6 1782.2 228.3 1784.9 229.4 1787.6 230.8 1790.3 232.3 1793.1 233.8 1795.9 235.1 1798.7 236 1801.5 236.3 1804.2 236.2 1806.8 235.9 1809.4 235.5 1812 235.1 1814.6 234.7 1814.7 234.7 1814.8 234.6 1814.8 234.5 1814.7 234.3 1814.6 234.3 1814.5 234.2 1811.9 234.3 1809.3 234.6 1806.7 234.8 1804.2 234.9 1801.6 234.8 1799.1 234.4 1796.6 233.4 1794.1 232 1791.5 230.4 1788.8 228.7 1786 227.1 1783.1 225.8 1780.1 224.8 1777.2 224.1 1774.2 223.5 1771.2 223 1768.2 222.6 1765.3 222.1 1764.5 222.1 1763.8 222.6 1763.4 223.4 1763.5 224.2 1764 224.9Z"/><path d="M1726.3 236.6 1729.1 237.9 1731.8 239.2 1734.5 240.4 1737.2 241.7 1739.9 243 1742.6 244.5 1745.3 246.1 1748.1 248.1 1750.9 250.1 1753.7 252.1 1756.5 253.7 1759.3 254.9 1762 255.5 1764.7 255.6 1767.2 255.4 1769.6 255 1772.1 254.6 1774.5 254.4 1774.6 254.4 1774.7 254.3 1774.8 254.1 1774.7 254 1774.6 253.9 1774.5 253.9 1772 253.9 1769.5 254.1 1767.1 254.3 1764.7 254.3 1762.3 254.1 1759.9 253.4 1757.4 252.2 1754.8 250.4 1752.2 248.4 1749.5 246.2 1746.8 244 1744 242.1 1741.3 240.5 1738.5 239.1 1735.8 237.7 1733.1 236.4 1730.4 235.1 1727.7 233.7 1726.9 233.6 1726.1 233.8 1725.6 234.5 1725.4 235.3 1725.7 236.1Z"/><path d="M1671.7 281.3 1677.4 280.8 1683.2 280.1 1689 279.4 1694.7 278.8 1700.2 278.4 1705.3 278.2 1710 278.4 1714.5 278.9 1718.9 279.6 1723.3 280.3 1727.7 281.1 1732.1 281.7 1736.7 282.4 1741.3 283.2 1746 284 1750.7 284.6 1755.2 285 1759.6 285 1763.8 284.6 1767.8 283.7 1771.6 282.5 1775.3 281.2 1779 280 1782.7 278.8 1782.8 278.8 1782.9 278.6 1782.9 278.5 1782.8 278.4 1782.7 278.3 1782.6 278.3 1778.7 279.2 1775 280.2 1771.2 281.3 1767.4 282.1 1763.5 282.8 1759.6 283 1755.4 282.7 1751 282.1 1746.5 281.2 1742 280.1 1737.3 279.1 1732.8 278.2 1728.4 277.3 1724 276.4 1719.7 275.4 1715.2 274.5 1710.4 273.9 1705.4 273.5 1700 273.5 1694.3 273.7 1688.5 274.2 1682.7 274.8 1676.9 275.3 1671.1 275.8 1669.8 276.3 1668.9 277.4 1668.7 278.8 1669.2 280.2 1670.3 281.1Z"/><path d="M1705.3 279.4 1706.6 281.8 1708 284.2 1709.4 286.5 1710.8 288.9 1712.2 291.5 1713.5 294.1 1714.9 297 1716.1 300.1 1717.4 303.4 1718.8 306.7 1720.4 309.9 1722.2 313 1724.2 315.8 1726.5 318.4 1729 320.9 1731.4 323.4 1733.9 325.8 1736.3 328.3 1736.4 328.3 1736.6 328.3 1736.7 328.3 1736.8 328.2 1736.8 328 1736.7 327.9 1734.5 325.3 1732.2 322.7 1729.9 320.1 1727.6 317.5 1725.6 314.8 1723.7 312 1722.2 309 1720.9 305.8 1719.7 302.5 1718.5 299.2 1717.4 296 1716.1 292.9 1714.8 290.1 1713.4 287.5 1712.1 285 1710.8 282.6 1709.4 280.2 1708.1 277.8 1707.5 277.2 1706.7 277 1705.9 277.2 1705.3 277.8 1705.1 278.6Z"/></g><ellipse cx="1585.7" cy="296.2" rx="19.7" ry="14.2" fill="#654597"/><ellipse cx="1584.5" cy="295.5" rx="13" ry="9.5" fill="#5e4193" fill-opacity="0.7"/><circle cx="1583.7" cy="294.2" r="4.7" fill="#1c1240"/>
<rect x="868.2" y="941.8" width="412.5" height="144.9" fill="#dde9f5"/>
<polygon points="1362.4,1311 1528,1413.8 1528,1518.6 1362.4,1629.5" fill="#d6dee9"/>
<rect x="817" y="1310.2" width="545.4" height="320" fill="#fdfdfd" stroke="#2b2b2b" stroke-width="2.6"/>
<defs><clipPath id="mcl"><path d="M986.1 1487.1C987.1 1481.1 989.4 1470.4 993.1 1464C996.9 1457.6 1001.7 1453.3 1008.6 1448.6C1015.4 1443.9 1025.7 1439.1 1034.3 1435.7C1042.8 1432.3 1051.4 1429.5 1060 1428C1068.6 1426.5 1077.1 1426.3 1085.7 1426.7C1094.3 1427.1 1102.8 1430.1 1111.4 1430.6C1120 1431 1130.7 1427.6 1137.1 1429.3C1143.5 1431 1145.7 1437 1150 1440.9C1154.3 1444.7 1158.5 1449.4 1162.8 1452.4C1167.1 1455.4 1171.4 1455.6 1175.7 1458.8C1180 1462.1 1185.7 1465.9 1188.5 1471.7C1191.3 1477.5 1192.4 1486.7 1192.4 1493.6C1192.4 1500.4 1190.9 1508.6 1188.5 1512.8C1186.2 1517.1 1182.5 1518 1178.2 1519.3C1174 1520.6 1168 1520.6 1162.8 1520.6C1157.7 1520.6 1153.8 1521 1147.4 1519.3C1141 1517.6 1132.4 1512.8 1124.3 1510.3C1116.1 1507.7 1107.1 1505.1 1098.5 1503.8C1090 1502.6 1081.4 1501.9 1072.8 1502.6C1064.3 1503.2 1054.6 1506 1047.1 1507.7C1039.6 1509.4 1034.3 1511.1 1027.8 1512.8C1021.4 1514.6 1013.9 1518 1008.6 1518C1003.2 1518 999.4 1515.8 995.7 1512.8C992.1 1509.8 988.3 1504.3 986.7 1500C985.1 1495.7 985 1493.1 986.1 1487.1Z"/></clipPath></defs><path d="M1150 1383.9C1151.1 1382.8 1150.4 1394.8 1152.8 1397.9C1155.1 1400.9 1160.6 1399 1163.9 1402C1167.1 1405 1169.9 1412.5 1172.2 1416C1174.6 1419.4 1177.1 1420.4 1177.8 1422.9C1178.5 1425.5 1179.2 1429.2 1176.4 1431.3C1173.6 1433.4 1165.5 1434.5 1161.1 1435.5C1156.7 1436.4 1153.4 1437.8 1150 1436.8C1146.5 1435.9 1140.9 1435.2 1140.2 1429.9C1139.5 1424.5 1144.2 1412.5 1145.8 1404.8C1147.4 1397.2 1148.8 1385.1 1150 1383.9Z" fill="#efd9d5" stroke="#e2c0ba" stroke-width="1"/><path d="M1172.2 1392.3C1174.2 1391.6 1181.1 1395.5 1182 1397.9C1182.9 1400.2 1179.2 1403.9 1177.8 1406.2C1176.4 1408.5 1174.9 1412.5 1173.6 1411.8C1172.4 1411.1 1170.4 1405.3 1170.2 1402C1169.9 1398.8 1170.3 1393 1172.2 1392.3Z" fill="#efd9d5" stroke="#e2c0ba" stroke-width="1"/><path d="M992.6 1530.1C993.5 1526.7 998.4 1524.6 1001 1524.6C1003.5 1524.6 1005.8 1527.6 1007.9 1530.1C1010 1532.7 1013.5 1536.2 1013.5 1539.9C1013.5 1543.6 1010 1549.2 1007.9 1552.4C1005.8 1555.7 1003 1560.6 1001 1559.4C998.9 1558.2 996.8 1550.3 995.4 1545.5C994 1540.6 991.7 1533.6 992.6 1530.1Z" fill="#efd9d5" stroke="#e2c0ba" stroke-width="1"/><path d="M974.5 1542.7C976.1 1541.1 981 1539.2 982.9 1541.3C984.7 1543.4 986.3 1552 985.6 1555.2C984.9 1558.5 980.8 1561.5 978.7 1560.8C976.6 1560.1 973.8 1554.1 973.1 1551C972.4 1548 972.9 1544.3 974.5 1542.7Z" fill="#efd9d5" stroke="#e2c0ba" stroke-width="1"/><path d="M1019.1 1542.7C1020.6 1541.8 1024.2 1543.1 1025.3 1545.5C1026.5 1547.8 1027.3 1554.3 1026 1556.6C1024.7 1558.9 1019.3 1560.3 1017.7 1559.4C1016 1558.5 1016 1553.8 1016.3 1551C1016.5 1548.3 1017.6 1543.6 1019.1 1542.7Z" fill="#efd9d5" stroke="#e2c0ba" stroke-width="1"/><circle cx="1147.2" cy="1373.5" r="4" fill="#efd9d5" stroke="#e2c0ba" stroke-width="1"/><circle cx="1001" cy="1564.3" r="3.5" fill="#efd9d5" stroke="#e2c0ba" stroke-width="1"/><g fill="#7a4646" stroke="#7a4646" stroke-width="2.2" stroke-linejoin="round"><path d="M976.4 1489.7C976.9 1482 978.4 1471.3 981.6 1464C984.8 1456.7 989.5 1451.3 995.7 1446C1001.9 1440.6 1010.3 1436.1 1018.8 1431.9C1027.4 1427.6 1037.1 1422.9 1047.1 1420.3C1057.2 1417.7 1069.6 1416.9 1079.3 1416.4C1088.9 1416 1098.1 1417.5 1105 1417.7C1111.8 1417.9 1115.3 1417.1 1120.4 1417.7C1125.5 1418.4 1132 1418.6 1135.8 1421.6C1139.7 1424.6 1140.3 1432.7 1143.5 1435.7C1146.8 1438.7 1151.5 1439.6 1155.1 1439.6C1158.8 1439.6 1160.9 1437.4 1165.4 1435.7C1169.9 1434 1178.2 1429.3 1182.1 1429.3C1186 1429.3 1187.9 1432.9 1188.5 1435.7C1189.2 1438.5 1184.7 1441.7 1186 1446C1187.2 1450.3 1193.5 1454.6 1196.2 1461.4C1199 1468.3 1202 1479 1202.7 1487.1C1203.3 1495.3 1202.5 1503.8 1200.1 1510.3C1197.7 1516.7 1193.7 1522.3 1188.5 1525.7C1183.4 1529.1 1176.1 1530.2 1169.3 1530.8C1162.4 1531.5 1154.9 1531.3 1147.4 1529.6C1139.9 1527.8 1132.4 1523.3 1124.3 1520.6C1116.1 1517.8 1107.1 1514.1 1098.5 1512.8C1090 1511.6 1081.4 1511.8 1072.8 1512.8C1064.3 1513.9 1054.2 1516.7 1047.1 1519.3C1040.1 1521.8 1036.8 1527.2 1030.4 1528.3C1024 1529.3 1015.4 1526.6 1008.6 1525.7C1001.7 1524.8 994.2 1525.7 989.3 1523.1C984.4 1520.6 981.1 1515.8 979 1510.3C976.9 1504.7 976 1497.4 976.4 1489.7Z"/><path d="M1123.6 1419.5 1124 1417.4 1124.3 1415.2 1124.7 1413 1125.1 1410.8 1125.4 1408.7 1125.8 1406.7 1126.2 1404.7 1126.6 1402.8 1127 1400.9 1127.4 1399 1127.8 1397.1 1128.2 1395.2 1128.2 1395 1128.1 1394.7 1127.8 1394.6 1127.6 1394.6 1127.3 1394.7 1127.2 1394.9 1126.4 1396.7 1125.7 1398.5 1124.9 1400.2 1124.1 1402 1123.4 1403.8 1122.6 1405.7 1121.8 1407.7 1121 1409.7 1120.2 1411.8 1119.4 1413.8 1118.6 1415.9 1117.8 1417.9 1117.8 1419.5 1118.6 1420.8 1119.9 1421.6 1121.5 1421.6 1122.8 1420.9Z"/><path d="M1130.6 1417.9 1131.9 1416.8 1133.1 1415.4 1134.1 1414.1 1134.9 1413.4 1134.9 1413.2 1134.7 1413 1135.3 1414 1136.2 1416.2 1137.1 1419.1 1137.9 1422.3 1138.8 1425.6 1139.7 1428.6 1139.8 1428.8 1140.1 1429 1140.3 1429 1140.6 1428.9 1140.7 1428.6 1140.7 1428.4 1140.3 1425.3 1139.9 1422 1139.5 1418.6 1139.1 1415.4 1138.5 1412.7 1137.4 1410.6 1135.2 1409.4 1132.9 1409.9 1131.3 1411 1129.9 1412.2 1128.7 1413.2 1127.5 1414 1126.8 1415 1126.6 1416.3 1127.1 1417.5 1128.1 1418.3 1129.4 1418.4Z"/><path d="M1156.5 1440.7 1159.2 1439.9 1161.9 1439.1 1164.7 1438.3 1167.5 1437.5 1170.3 1436.5 1173.2 1435.4 1176.1 1434.1 1179 1432.6 1181.9 1431 1184.6 1429.6 1187.1 1428.3 1189.4 1427.4 1191.5 1426.9 1193.5 1426.7 1195.4 1426.6 1197.4 1426.7 1199.4 1426.7 1201.5 1426.7 1202 1426.6 1202.3 1426.2 1202.5 1425.7 1202.4 1425.2 1202 1424.9 1201.5 1424.7 1199.5 1424.5 1197.6 1424.2 1195.6 1423.9 1193.4 1423.7 1191.1 1423.7 1188.5 1424 1185.7 1424.7 1182.8 1425.7 1179.9 1426.8 1176.9 1428 1174 1429.1 1171.3 1429.9 1168.6 1430.5 1165.9 1431.1 1163.1 1431.6 1160.3 1432 1157.5 1432.5 1154.6 1433 1152.8 1433.9 1151.7 1435.7 1151.6 1437.8 1152.6 1439.6 1154.4 1440.7Z"/><path d="M997.1 1519.2 994.8 1519.2 992.4 1519.2 990.1 1519.2 987.8 1519.2 985.5 1519.2 983.3 1519.1 981 1518.9 978.7 1518.7 976.3 1518.4 974 1518.1 971.6 1517.8 969.2 1517.5 968.5 1517.6 967.8 1518 967.5 1518.7 967.5 1519.5 967.9 1520.1 968.6 1520.5 970.9 1521.2 973.2 1521.9 975.4 1522.6 977.8 1523.3 980.1 1523.9 982.4 1524.5 984.8 1525.1 987.2 1525.5 989.5 1525.9 991.8 1526.3 994.1 1526.7 996.4 1527.2 998.4 1526.8 1000 1525.5 1000.8 1523.6 1000.4 1521.5 999.1 1519.9Z"/><path d="M1019 1528 1020.6 1529.8 1022.2 1531.6 1023.8 1533.4 1025.4 1535.2 1027 1537 1028.7 1538.5 1030.3 1539.9 1031.9 1541.1 1033.4 1542.1 1035 1543 1036.4 1543.9 1037.9 1544.9 1038.4 1545.1 1038.9 1545 1039.3 1544.7 1039.5 1544.2 1039.5 1543.7 1039.2 1543.3 1037.9 1542 1036.6 1540.8 1035.3 1539.6 1034.1 1538.4 1032.9 1537.1 1031.7 1535.7 1030.6 1534 1029.4 1532.2 1028.3 1530.2 1027.1 1528.1 1025.9 1526 1024.7 1523.9 1023.3 1522.8 1021.5 1522.5 1019.8 1523.1 1018.6 1524.6 1018.4 1526.3Z"/></g><g fill="#d9998b"><path d="M976.4 1489.7C976.9 1482 978.4 1471.3 981.6 1464C984.8 1456.7 989.5 1451.3 995.7 1446C1001.9 1440.6 1010.3 1436.1 1018.8 1431.9C1027.4 1427.6 1037.1 1422.9 1047.1 1420.3C1057.2 1417.7 1069.6 1416.9 1079.3 1416.4C1088.9 1416 1098.1 1417.5 1105 1417.7C1111.8 1417.9 1115.3 1417.1 1120.4 1417.7C1125.5 1418.4 1132 1418.6 1135.8 1421.6C1139.7 1424.6 1140.3 1432.7 1143.5 1435.7C1146.8 1438.7 1151.5 1439.6 1155.1 1439.6C1158.8 1439.6 1160.9 1437.4 1165.4 1435.7C1169.9 1434 1178.2 1429.3 1182.1 1429.3C1186 1429.3 1187.9 1432.9 1188.5 1435.7C1189.2 1438.5 1184.7 1441.7 1186 1446C1187.2 1450.3 1193.5 1454.6 1196.2 1461.4C1199 1468.3 1202 1479 1202.7 1487.1C1203.3 1495.3 1202.5 1503.8 1200.1 1510.3C1197.7 1516.7 1193.7 1522.3 1188.5 1525.7C1183.4 1529.1 1176.1 1530.2 1169.3 1530.8C1162.4 1531.5 1154.9 1531.3 1147.4 1529.6C1139.9 1527.8 1132.4 1523.3 1124.3 1520.6C1116.1 1517.8 1107.1 1514.1 1098.5 1512.8C1090 1511.6 1081.4 1511.8 1072.8 1512.8C1064.3 1513.9 1054.2 1516.7 1047.1 1519.3C1040.1 1521.8 1036.8 1527.2 1030.4 1528.3C1024 1529.3 1015.4 1526.6 1008.6 1525.7C1001.7 1524.8 994.2 1525.7 989.3 1523.1C984.4 1520.6 981.1 1515.8 979 1510.3C976.9 1504.7 976 1497.4 976.4 1489.7Z"/><path d="M1123.6 1419.5 1124 1417.4 1124.3 1415.2 1124.7 1413 1125.1 1410.8 1125.4 1408.7 1125.8 1406.7 1126.2 1404.7 1126.6 1402.8 1127 1400.9 1127.4 1399 1127.8 1397.1 1128.2 1395.2 1128.2 1395 1128.1 1394.7 1127.8 1394.6 1127.6 1394.6 1127.3 1394.7 1127.2 1394.9 1126.4 1396.7 1125.7 1398.5 1124.9 1400.2 1124.1 1402 1123.4 1403.8 1122.6 1405.7 1121.8 1407.7 1121 1409.7 1120.2 1411.8 1119.4 1413.8 1118.6 1415.9 1117.8 1417.9 1117.8 1419.5 1118.6 1420.8 1119.9 1421.6 1121.5 1421.6 1122.8 1420.9Z"/><path d="M1130.6 1417.9 1131.9 1416.8 1133.1 1415.4 1134.1 1414.1 1134.9 1413.4 1134.9 1413.2 1134.7 1413 1135.3 1414 1136.2 1416.2 1137.1 1419.1 1137.9 1422.3 1138.8 1425.6 1139.7 1428.6 1139.8 1428.8 1140.1 1429 1140.3 1429 1140.6 1428.9 1140.7 1428.6 1140.7 1428.4 1140.3 1425.3 1139.9 1422 1139.5 1418.6 1139.1 1415.4 1138.5 1412.7 1137.4 1410.6 1135.2 1409.4 1132.9 1409.9 1131.3 1411 1129.9 1412.2 1128.7 1413.2 1127.5 1414 1126.8 1415 1126.6 1416.3 1127.1 1417.5 1128.1 1418.3 1129.4 1418.4Z"/><path d="M1156.5 1440.7 1159.2 1439.9 1161.9 1439.1 1164.7 1438.3 1167.5 1437.5 1170.3 1436.5 1173.2 1435.4 1176.1 1434.1 1179 1432.6 1181.9 1431 1184.6 1429.6 1187.1 1428.3 1189.4 1427.4 1191.5 1426.9 1193.5 1426.7 1195.4 1426.6 1197.4 1426.7 1199.4 1426.7 1201.5 1426.7 1202 1426.6 1202.3 1426.2 1202.5 1425.7 1202.4 1425.2 1202 1424.9 1201.5 1424.7 1199.5 1424.5 1197.6 1424.2 1195.6 1423.9 1193.4 1423.7 1191.1 1423.7 1188.5 1424 1185.7 1424.7 1182.8 1425.7 1179.9 1426.8 1176.9 1428 1174 1429.1 1171.3 1429.9 1168.6 1430.5 1165.9 1431.1 1163.1 1431.6 1160.3 1432 1157.5 1432.5 1154.6 1433 1152.8 1433.9 1151.7 1435.7 1151.6 1437.8 1152.6 1439.6 1154.4 1440.7Z"/><path d="M997.1 1519.2 994.8 1519.2 992.4 1519.2 990.1 1519.2 987.8 1519.2 985.5 1519.2 983.3 1519.1 981 1518.9 978.7 1518.7 976.3 1518.4 974 1518.1 971.6 1517.8 969.2 1517.5 968.5 1517.6 967.8 1518 967.5 1518.7 967.5 1519.5 967.9 1520.1 968.6 1520.5 970.9 1521.2 973.2 1521.9 975.4 1522.6 977.8 1523.3 980.1 1523.9 982.4 1524.5 984.8 1525.1 987.2 1525.5 989.5 1525.9 991.8 1526.3 994.1 1526.7 996.4 1527.2 998.4 1526.8 1000 1525.5 1000.8 1523.6 1000.4 1521.5 999.1 1519.9Z"/><path d="M1019 1528 1020.6 1529.8 1022.2 1531.6 1023.8 1533.4 1025.4 1535.2 1027 1537 1028.7 1538.5 1030.3 1539.9 1031.9 1541.1 1033.4 1542.1 1035 1543 1036.4 1543.9 1037.9 1544.9 1038.4 1545.1 1038.9 1545 1039.3 1544.7 1039.5 1544.2 1039.5 1543.7 1039.2 1543.3 1037.9 1542 1036.6 1540.8 1035.3 1539.6 1034.1 1538.4 1032.9 1537.1 1031.7 1535.7 1030.6 1534 1029.4 1532.2 1028.3 1530.2 1027.1 1528.1 1025.9 1526 1024.7 1523.9 1023.3 1522.8 1021.5 1522.5 1019.8 1523.1 1018.6 1524.6 1018.4 1526.3Z"/></g><path d="M986.1 1487.1C987.1 1481.1 989.4 1470.4 993.1 1464C996.9 1457.6 1001.7 1453.3 1008.6 1448.6C1015.4 1443.9 1025.7 1439.1 1034.3 1435.7C1042.8 1432.3 1051.4 1429.5 1060 1428C1068.6 1426.5 1077.1 1426.3 1085.7 1426.7C1094.3 1427.1 1102.8 1430.1 1111.4 1430.6C1120 1431 1130.7 1427.6 1137.1 1429.3C1143.5 1431 1145.7 1437 1150 1440.9C1154.3 1444.7 1158.5 1449.4 1162.8 1452.4C1167.1 1455.4 1171.4 1455.6 1175.7 1458.8C1180 1462.1 1185.7 1465.9 1188.5 1471.7C1191.3 1477.5 1192.4 1486.7 1192.4 1493.6C1192.4 1500.4 1190.9 1508.6 1188.5 1512.8C1186.2 1517.1 1182.5 1518 1178.2 1519.3C1174 1520.6 1168 1520.6 1162.8 1520.6C1157.7 1520.6 1153.8 1521 1147.4 1519.3C1141 1517.6 1132.4 1512.8 1124.3 1510.3C1116.1 1507.7 1107.1 1505.1 1098.5 1503.8C1090 1502.6 1081.4 1501.9 1072.8 1502.6C1064.3 1503.2 1054.6 1506 1047.1 1507.7C1039.6 1509.4 1034.3 1511.1 1027.8 1512.8C1021.4 1514.6 1013.9 1518 1008.6 1518C1003.2 1518 999.4 1515.8 995.7 1512.8C992.1 1509.8 988.3 1504.3 986.7 1500C985.1 1495.7 985 1493.1 986.1 1487.1Z" fill="#ecdcd7" stroke="#7a4646" stroke-width="1.5"/><g clip-path="url(#mcl)" stroke="#7a4646" stroke-width="10" stroke-linecap="round"><line x1="982.9" y1="1470.4" x2="1007.3" y2="1482"/><line x1="985.4" y1="1502.6" x2="1002.8" y2="1496.1"/><line x1="1031.7" y1="1429.3" x2="1033" y2="1467.8"/><line x1="1062.6" y1="1425.4" x2="1063.8" y2="1462.7"/><line x1="1081.8" y1="1424.1" x2="1081.8" y2="1442.1"/><line x1="1105" y1="1426.7" x2="1104.3" y2="1462.7"/><line x1="1036.8" y1="1516.7" x2="1038.1" y2="1505.1"/><line x1="1052.3" y1="1512.8" x2="1050.3" y2="1474.3"/><line x1="1083.1" y1="1507.7" x2="1083.1" y2="1462.7"/><line x1="1103.7" y1="1510.3" x2="1103.7" y2="1487.1"/><line x1="1128.1" y1="1516.7" x2="1128.8" y2="1482"/><line x1="1153.8" y1="1523.1" x2="1153.2" y2="1498.7"/><line x1="1161.5" y1="1443.4" x2="1148.7" y2="1482"/><line x1="1197.5" y1="1476.8" x2="1174.4" y2="1476.8"/><line x1="1186" y1="1520.6" x2="1174.4" y2="1492.3"/></g><g stroke="#d9998b" stroke-width="7.2" stroke-linecap="round"><line x1="982.9" y1="1470.4" x2="1007.3" y2="1482"/><line x1="985.4" y1="1502.6" x2="1002.8" y2="1496.1"/><line x1="1031.7" y1="1429.3" x2="1033" y2="1467.8"/><line x1="1062.6" y1="1425.4" x2="1063.8" y2="1462.7"/><line x1="1081.8" y1="1424.1" x2="1081.8" y2="1442.1"/><line x1="1105" y1="1426.7" x2="1104.3" y2="1462.7"/><line x1="1036.8" y1="1516.7" x2="1038.1" y2="1505.1"/><line x1="1052.3" y1="1512.8" x2="1050.3" y2="1474.3"/><line x1="1083.1" y1="1507.7" x2="1083.1" y2="1462.7"/><line x1="1103.7" y1="1510.3" x2="1103.7" y2="1487.1"/><line x1="1128.1" y1="1516.7" x2="1128.8" y2="1482"/><line x1="1153.8" y1="1523.1" x2="1153.2" y2="1498.7"/><line x1="1161.5" y1="1443.4" x2="1148.7" y2="1482"/><line x1="1197.5" y1="1476.8" x2="1174.4" y2="1476.8"/><line x1="1186" y1="1520.6" x2="1174.4" y2="1492.3"/></g><path d="M1135.8 1430.6C1135.8 1425.4 1138.6 1421.6 1141 1417.7C1143.3 1413.9 1147.4 1407.4 1150 1407.4C1152.5 1407.4 1155.5 1412.4 1156.4 1417.7C1157.3 1423.1 1156.2 1434 1155.1 1439.6C1154 1445.1 1152.3 1449.6 1150 1451.1C1147.6 1452.6 1143.3 1452 1141 1448.6C1138.6 1445.1 1135.8 1435.7 1135.8 1430.6Z" fill="#ecdcd7"/><path d="M996.8 1514.8C1001 1513 1016.3 1514.1 1020.5 1516.2C1024.6 1518.3 1022.5 1524.1 1021.8 1527.4C1021.1 1530.6 1019.8 1534.1 1016.3 1535.7C1012.8 1537.3 1004.4 1538.5 1001 1537.1C997.5 1535.7 996.1 1531.1 995.4 1527.4C994.7 1523.7 992.6 1516.7 996.8 1514.8Z" fill="#ecdcd7"/><path d="M1001 1524.6C1004.4 1521.3 1014.2 1523.4 1016.3 1526C1018.4 1528.5 1014.9 1535.5 1013.5 1539.9C1012.1 1544.3 1010 1549.2 1007.9 1552.4C1005.8 1555.7 1003 1560.6 1001 1559.4C998.9 1558.2 995.4 1551.3 995.4 1545.5C995.4 1539.7 997.5 1527.8 1001 1524.6Z" fill="#efd9d5"/><path d="M1197 1358C1245 1366 1292 1400 1294 1460" fill="none" stroke="#000" stroke-width="10" stroke-linecap="round"/><polyline points="1265,1446 1294.5,1465 1311.5,1438.5" fill="none" stroke="#000" stroke-width="10" stroke-linecap="round" stroke-linejoin="round"/><defs><linearGradient id="emg" x1="0" y1="0" x2="0" y2="1"><stop offset="0" stop-color="#8fb4da"/><stop offset="1" stop-color="#4c7aab"/></linearGradient></defs><rect x="1218.7" y="1496.9" width="45.4" height="47.5" rx="7" fill="url(#emg)" stroke="#5f7fa3" stroke-width="1"/><polygon points="1241,1505 1253.9,1520 1247.2,1520 1247.2,1536.2 1236.3,1536.2 1236.3,1520 1228.8,1520" fill="#fff"/>
<g fill="#87407d" stroke="#87407d" stroke-width="1.8" stroke-linejoin="round"><path d="M1534.4 998C1536 1000.1 1536.9 1009.2 1538.4 1013.4C1540 1017.6 1541.3 1020.6 1543.7 1023C1546 1025.5 1548.8 1027 1552.3 1028.1C1555.9 1029.2 1560.5 1029.8 1564.9 1029.6C1569.2 1029.4 1574.7 1028.6 1578.4 1026.9C1582.1 1025.2 1585 1022.4 1587 1019.2C1589.1 1016 1589.3 1010.2 1590.5 1007.6C1591.7 1005.1 1593.1 1002.5 1594.4 1003.8C1595.7 1005.1 1597.2 1011.2 1598.2 1015.3C1599.3 1019.5 1599 1024.7 1600.5 1028.8C1602 1033 1603 1037.4 1607.3 1040.4C1611.6 1043.4 1620.7 1045.8 1626.4 1046.6C1632 1047.4 1637.6 1045.2 1641 1045.2C1644.4 1045.2 1648.4 1045.5 1646.8 1046.6C1645.2 1047.6 1635.6 1049.4 1631.4 1051.6C1627.2 1053.8 1623.8 1056.1 1621.7 1059.7C1619.7 1063.3 1619.2 1068.7 1618.9 1073.2C1618.5 1077.7 1618.4 1083.1 1619.8 1086.7C1621.3 1090.3 1624 1092.8 1627.5 1094.8C1631.1 1096.7 1637.8 1097.2 1641 1098.2C1644.2 1099.3 1648.4 1100.1 1646.8 1101.1C1645.2 1102.2 1637.2 1103 1631.4 1104.4C1625.6 1105.9 1617.6 1106.7 1612.1 1109.8C1606.6 1113 1602.3 1118.2 1598.6 1123.3C1594.9 1128.5 1593 1136.8 1589.9 1140.7C1586.9 1144.5 1583.7 1146.1 1580.3 1146.5C1576.9 1146.8 1574 1145.2 1569.7 1142.6C1565.3 1140 1560 1133.8 1554.3 1131C1548.5 1128.3 1541.4 1127.5 1535 1126.2C1528.5 1124.9 1520.2 1124.6 1515.7 1123.3C1511.2 1122 1508 1120.4 1508 1118.5C1508 1116.6 1513 1114.8 1515.7 1111.7C1518.4 1108.7 1522.6 1105 1524.4 1100.2C1526.1 1095.4 1526.9 1088.1 1526.3 1082.8C1525.7 1077.5 1522.3 1072.2 1520.5 1068.4C1518.7 1064.5 1514.9 1062.4 1515.7 1059.7C1516.5 1057 1522.6 1055.2 1525.3 1052C1528 1048.8 1530.9 1044.3 1531.9 1040.4C1532.9 1036.5 1532.2 1033.3 1531.1 1028.8C1530 1024.3 1526.9 1017.6 1525.3 1013.4C1523.7 1009.2 1520.9 1005.9 1521.5 1003.8C1522 1001.7 1526.5 1001.8 1528.6 1000.9C1530.8 999.9 1532.8 995.9 1534.4 998Z"/><path d="M1599.1 1040 1598.7 1034.8 1598.4 1029.5 1598.3 1024.2 1598.2 1019 1598.1 1013.9 1598 1009 1597.7 1004.3 1597.4 1000 1597 995.9 1596.6 991.9 1596.3 987.9 1596.2 983.9 1596.4 979.8 1596.9 975.5 1597.5 970.9 1598 966.2 1598 961.3 1597.3 956.4 1595.7 951.9 1593.6 947.7 1591.1 943.9 1588.4 940 1585.5 936.1 1582.6 931.8 1579.5 927.1 1576.1 922.1 1572.4 916.9 1568.7 911.6 1565 906.3 1561.3 901.2 1561.2 901.1 1561.1 901.1 1561 901.1 1560.9 901.2 1560.9 901.3 1560.9 901.4 1563.9 907 1567 912.7 1570.2 918.3 1573.2 923.9 1576.1 929.2 1578.8 934.2 1581.4 938.8 1583.9 943 1586.3 946.9 1588.3 950.6 1589.8 954.2 1590.7 957.8 1591.1 961.6 1590.8 965.6 1590.1 969.8 1589.2 974.3 1588.4 979 1588 983.7 1588 988.2 1588.1 992.4 1588.3 996.5 1588.5 1000.6 1588.7 1004.8 1588.8 1009.2 1588.8 1014 1588.8 1019 1588.6 1024.2 1588.5 1029.5 1588.1 1034.8 1587.7 1040 1588.4 1042.9 1590.5 1045 1593.4 1045.7 1596.3 1045 1598.4 1042.9Z"/><path d="M1596.9 960 1598.4 957.7 1600.1 955.4 1601.9 953.3 1603.8 951.2 1605.6 949.1 1607.4 947 1609.4 945 1611.7 943 1614.1 940.9 1616.2 938.6 1617.9 936.1 1618.8 933.2 1618.5 930.1 1617.3 927.1 1615.7 924.1 1613.7 921.1 1611.8 918.1 1610.1 915.2 1610 915.1 1609.9 915.1 1609.8 915.1 1609.7 915.2 1609.7 915.3 1609.7 915.4 1611 918.5 1612.6 921.7 1614.1 924.9 1615.4 927.9 1616.2 930.6 1616.2 932.8 1615.5 934.8 1614 936.6 1611.9 938.5 1609.5 940.4 1607 942.3 1604.8 944.4 1602.8 946.5 1600.8 948.5 1598.9 950.5 1596.9 952.4 1594.8 954.3 1592.5 956 1591.8 957.3 1591.8 958.9 1592.7 960.2 1594 960.9 1595.6 960.9Z"/><path d="M1599 993.4 1602.2 990.5 1605.7 988 1609.1 985.7 1612.7 983.4 1616.2 981.3 1619.7 979.4 1623.4 977.7 1627.3 976.3 1631.3 974.9 1635.2 973.4 1639 971.7 1642.3 969.7 1645.2 967.2 1647.7 964.6 1649.8 961.8 1651.7 959 1653.6 956.2 1655.7 953.5 1655.7 953.3 1655.7 953.2 1655.7 953.1 1655.5 953.1 1655.4 953.1 1655.3 953.1 1652.9 955.6 1650.7 958.2 1648.4 960.8 1646.1 963.2 1643.6 965.4 1640.9 967.3 1637.6 968.9 1634 970.2 1630.1 971.4 1626 972.5 1621.9 973.8 1617.9 975.4 1614 977.2 1610.3 979.2 1606.5 981.3 1602.8 983.3 1599 985.2 1595 986.6 1593.5 988 1593 990 1593.6 992 1595 993.5 1597 994Z"/><path d="M1590.3 1054.7 1597.4 1053.7 1604.6 1052.9 1611.9 1052.3 1619 1051.8 1625.7 1051.2 1631.7 1050.7 1636.9 1050.1 1641.3 1049.6 1645.3 1049 1649.1 1048.5 1652.9 1048.1 1657 1047.6 1661.4 1047.4 1666 1047.4 1670.9 1047.4 1675.8 1047.3 1680.7 1046.7 1685.3 1045.6 1689.7 1043.8 1693.8 1041.5 1697.6 1038.9 1701.3 1036.1 1704.8 1033.3 1708.3 1030.5 1711.8 1027.8 1715.1 1024.9 1718.3 1022 1721.5 1019 1724.7 1016 1728 1013.1 1728 1013 1728 1012.9 1728 1012.7 1727.9 1012.7 1727.8 1012.7 1727.6 1012.7 1724.2 1015.3 1720.7 1018 1717.3 1020.7 1713.8 1023.3 1710.3 1025.8 1706.7 1028.3 1703 1030.8 1699.3 1033.3 1695.5 1035.8 1691.8 1038 1687.9 1039.9 1684.1 1041.2 1680 1041.9 1675.6 1042.1 1670.9 1042 1666.2 1041.8 1661.4 1041.5 1656.6 1041.6 1652.3 1041.8 1648.4 1042.2 1644.6 1042.6 1640.6 1043 1636.2 1043.3 1631.1 1043.7 1625.2 1044.1 1618.5 1044.5 1611.5 1044.9 1604.1 1045.2 1596.8 1045.4 1589.7 1045.3 1587.4 1046.1 1585.7 1047.9 1585.3 1050.3 1586.1 1052.6 1587.9 1054.3Z"/><path d="M1662.8 1044.4 1663.3 1040.6 1664.4 1037.1 1665.8 1033.5 1667.1 1029.9 1668.2 1026.1 1669 1022.1 1669.3 1017.8 1669.1 1013.4 1668.6 1009.1 1668.2 1004.8 1668 1000.6 1668.4 996.7 1669.3 992.8 1670.6 989 1672.2 985.2 1674 981.4 1675.7 977.6 1677.3 973.7 1677.3 973.6 1677.3 973.5 1677.2 973.4 1677.1 973.4 1677 973.4 1676.9 973.5 1674.9 977.2 1672.8 980.8 1670.6 984.4 1668.6 988.2 1666.9 992.1 1665.6 996.1 1665 1000.4 1664.9 1004.9 1665.1 1009.3 1665.3 1013.7 1665.3 1017.7 1665 1021.5 1664.1 1025 1662.9 1028.4 1661.5 1031.8 1659.9 1035.1 1658.1 1038.4 1655.8 1041.6 1655.6 1043.6 1656.4 1045.3 1657.9 1046.5 1659.9 1046.7 1661.6 1045.9Z"/><path d="M1683.4 1047.6 1687.6 1048.7 1691.8 1050.2 1695.9 1051.9 1699.8 1053.5 1703.5 1055 1706.7 1056.4 1709.3 1057.8 1711.5 1059.1 1713.4 1060.3 1715.4 1061.6 1717.5 1062.6 1719.8 1063.5 1722.3 1064.2 1724.9 1064.5 1727.5 1064.7 1730.2 1064.9 1732.8 1065 1735.4 1065.1 1735.5 1065.1 1735.6 1065.1 1735.6 1064.9 1735.6 1064.8 1735.6 1064.7 1735.4 1064.7 1732.9 1064.1 1730.3 1063.7 1727.7 1063.2 1725.2 1062.7 1722.8 1062.1 1720.6 1061.3 1718.7 1060.3 1716.9 1059.1 1715.2 1057.8 1713.3 1056.4 1711.1 1054.8 1708.3 1053.2 1705.1 1051.5 1701.5 1049.7 1697.6 1047.9 1693.6 1046 1689.7 1044 1686 1041.6 1684.4 1041.4 1682.8 1042 1681.7 1043.3 1681.5 1044.9 1682.1 1046.5Z"/><path d="M1600.3 1104.7 1606.6 1103.7 1613.1 1102.9 1619.5 1102.2 1625.8 1101.7 1631.6 1101.3 1636.7 1101.3 1641.2 1101.6 1645.1 1102.4 1648.9 1103.3 1652.6 1104.3 1656.6 1105.2 1660.7 1105.6 1664.9 1105.8 1669.3 1105.9 1673.6 1105.8 1677.9 1105.4 1682.1 1104.5 1686 1103.1 1689.5 1101 1692.7 1098.3 1695.7 1095.2 1698.3 1092 1700.5 1088.7 1702.2 1085.6 1703.4 1082.5 1704.1 1079.4 1704.3 1076.3 1704.4 1073.3 1704.4 1070.3 1704.6 1067.3 1704.6 1067.2 1704.6 1067.1 1704.4 1067.1 1704.3 1067.1 1704.2 1067.1 1704.2 1067.3 1703.6 1070.2 1703.2 1073.2 1702.9 1076.2 1702.4 1079.1 1701.5 1081.8 1700.2 1084.4 1698.3 1087.2 1695.9 1090.1 1693.2 1092.9 1690.3 1095.5 1687.3 1097.6 1684.2 1099.1 1681 1100.1 1677.4 1100.5 1673.5 1100.7 1669.4 1100.5 1665.3 1100.2 1661.3 1099.8 1657.7 1099.2 1654.2 1098.3 1650.6 1097.1 1646.6 1095.9 1642.2 1094.9 1637.1 1094.3 1631.4 1094.2 1625.3 1094.4 1619 1094.7 1612.4 1095.1 1606 1095.4 1599.7 1095.3 1597.3 1096.1 1595.7 1097.9 1595.3 1100.3 1596.1 1102.7 1597.9 1104.3Z"/><path d="M1667.8 1107.8 1670.8 1109.7 1673.5 1111.9 1675.9 1114.2 1678.4 1116.6 1680.9 1119.1 1683.4 1121.8 1686.2 1124.8 1689.1 1127.9 1692.1 1131 1695 1134.2 1697.7 1137.4 1700 1140.4 1701.9 1143.2 1703.5 1146 1704.9 1148.9 1706.2 1151.7 1707.5 1154.5 1709 1157.4 1709 1157.5 1709.2 1157.5 1709.3 1157.5 1709.4 1157.5 1709.4 1157.3 1709.4 1157.2 1708.4 1154.2 1707.5 1151.2 1706.5 1148.2 1705.4 1145.2 1704.1 1142.1 1702.4 1138.8 1700.2 1135.5 1697.7 1132 1695 1128.6 1692.2 1125.1 1689.4 1121.9 1686.8 1118.8 1684.3 1115.9 1682 1113.2 1679.6 1110.6 1677.4 1108 1675.3 1105.3 1673.6 1102.2 1671.8 1101.2 1669.8 1101.1 1667.9 1102.1 1666.9 1103.9 1666.8 1105.9Z"/><path d="M1542.5 1033.6 1540.7 1028.5 1539 1023.3 1537.3 1018.2 1535.9 1013.2 1534.7 1008.4 1533.9 1003.8 1533.4 999.3 1533.2 994.8 1533.2 990.3 1533.4 986 1533.7 982 1534 978.4 1534.6 975.4 1535.4 972.8 1536.4 970.3 1537.4 967.7 1538.2 965 1538.5 962 1538.3 959.1 1537.8 956.2 1536.9 953.4 1535.9 950.7 1534.5 948.2 1532.9 946.1 1531 944.5 1528.8 943.3 1526.4 942.5 1524 941.8 1521.6 941.2 1519.3 940.4 1519.2 940.4 1519.1 940.4 1519 940.5 1519 940.6 1519 940.7 1519.1 940.8 1521.2 942 1523.5 943 1525.8 944 1527.8 945.1 1529.6 946.4 1530.9 947.9 1531.9 949.7 1532.8 951.9 1533.4 954.4 1533.8 956.9 1534 959.4 1533.9 961.8 1533.4 963.8 1532.6 965.7 1531.4 968 1530 970.6 1528.7 973.7 1527.8 977.2 1527 981.1 1526.4 985.4 1525.9 989.9 1525.5 994.7 1525.4 999.7 1525.7 1004.8 1526.4 1009.9 1527.4 1015.2 1528.6 1020.6 1529.9 1025.9 1531 1031.1 1531.9 1036.4 1533.3 1038.9 1535.7 1040.3 1538.6 1040.3 1541.1 1038.9 1542.5 1036.5Z"/><path d="M1549.8 1042.3 1546.4 1037.4 1543.1 1032.2 1540 1027 1537 1021.9 1534.1 1017.1 1531.3 1012.7 1528.8 1008.8 1526.5 1005.1 1524.2 1001.7 1522.1 998.6 1519.9 995.7 1517.7 993.2 1515.3 991.1 1512.9 989.5 1510.7 988.5 1508.8 987.7 1507.3 987.1 1506 986.5 1505.2 986 1504.7 985.7 1504.2 985.3 1503.3 984.6 1501.9 983.7 1499.6 982.5 1496.4 980.7 1492.4 978.7 1487.9 976.3 1483 973.9 1478.2 971.3 1473.6 968.6 1469.1 965.9 1464.6 962.9 1460 959.8 1455.4 956.7 1450.7 953.6 1446 950.5 1445.9 950.5 1445.8 950.5 1445.7 950.6 1445.7 950.7 1445.7 950.8 1445.8 950.9 1450 954.5 1454.3 958.1 1458.5 961.8 1462.8 965.3 1467.1 968.7 1471.4 972 1475.9 975.1 1480.5 978.2 1485.2 981.1 1489.5 983.7 1493.4 986.1 1496.4 987.9 1498.3 989.3 1499.5 990.1 1500 990.5 1500.5 991 1501.3 991.6 1502.6 992.5 1504.3 993.4 1506.1 994.2 1507.7 995 1509.2 995.8 1510.6 996.9 1512.1 998.4 1513.8 1000.5 1515.6 1003.1 1517.5 1006 1519.5 1009.4 1521.7 1013.1 1524.1 1017.1 1526.6 1021.5 1529.3 1026.3 1532.1 1031.5 1535 1036.9 1537.7 1042.3 1540.2 1047.7 1542.2 1049.7 1545 1050.5 1547.7 1049.8 1549.7 1047.8 1550.5 1045Z"/><path d="M1509.8 990.7 1507.8 987.7 1506.2 984.6 1504.8 981.5 1503.7 978.4 1502.8 975.4 1502.4 972.4 1502.3 969.1 1502.4 965.6 1502.7 962.1 1503.3 958.7 1504.3 955.3 1505.7 952 1507.7 948.9 1510.2 945.7 1513.2 942.5 1516.4 939.4 1519.6 936.1 1522.6 932.9 1522.6 932.8 1522.6 932.6 1522.6 932.5 1522.5 932.5 1522.3 932.5 1522.2 932.5 1518.9 935.4 1515.3 938.2 1511.8 941 1508.4 943.9 1505.4 947 1502.9 950.4 1501 953.9 1499.7 957.7 1498.7 961.4 1498.1 965.2 1497.8 969 1497.8 972.6 1498.2 976.3 1499 979.8 1500 983.2 1501.1 986.6 1502 989.8 1502.2 993.3 1503.4 995 1505.2 995.9 1507.3 995.8 1509 994.6 1509.9 992.8Z"/><path d="M1501.8 985.8 1496.9 987.1 1491.8 987.6 1486.6 988 1481.6 988.4 1476.8 988.8 1472.2 989.4 1467.9 990.3 1463.7 991.6 1460 992.9 1456.6 994 1453.8 994.6 1451.6 994.6 1449.9 993.8 1448.5 992.3 1447.4 990.2 1446.3 987.8 1445.3 985.2 1444 983 1443.9 982.9 1443.8 982.9 1443.7 982.9 1443.6 983 1443.6 983.1 1443.6 983.2 1444.5 985.6 1445.2 988.2 1445.9 990.8 1446.9 993.3 1448.4 995.5 1450.8 997 1453.9 997.5 1457.3 997.1 1461 996.3 1464.8 995.3 1468.8 994.4 1472.8 993.8 1477.1 993.6 1481.9 993.4 1486.9 993.3 1492 993.2 1497.1 993.4 1502.2 994.2 1504.3 993.6 1505.8 991.9 1506.2 989.8 1505.6 987.7 1503.9 986.2Z"/><path d="M1540 1060 1533.6 1060.6 1527.1 1061 1520.7 1061.3 1514.5 1061.5 1508.8 1061.4 1503.8 1061.1 1499.4 1060.4 1495.4 1059.6 1491.9 1058.5 1488.6 1057.3 1485.6 1056 1482.7 1054.5 1480.1 1052.9 1477.6 1051 1475.4 1049 1473.2 1046.8 1471.2 1044.7 1469.3 1042.8 1467.7 1041.2 1466.6 1039.9 1465.5 1038.7 1464.4 1037.4 1463.1 1035.9 1461.4 1034.4 1459.4 1032.7 1457.2 1030.8 1454.7 1028.8 1452.1 1026.9 1449.4 1025.2 1446.7 1023.9 1443.9 1023 1441.1 1022.4 1438.3 1022 1435.5 1021.8 1432.7 1021.9 1429.8 1022.3 1427 1023 1424.2 1024.1 1421.5 1025.4 1418.8 1026.8 1416.1 1028.3 1413.4 1029.6 1413.3 1029.6 1413.3 1029.8 1413.3 1029.9 1413.3 1030 1413.5 1030 1413.6 1030 1416.4 1029 1419.3 1027.9 1422.1 1026.7 1424.9 1025.7 1427.5 1024.9 1430.2 1024.5 1432.8 1024.4 1435.4 1024.6 1437.9 1024.9 1440.4 1025.5 1442.8 1026.3 1445.1 1027.3 1447.4 1028.6 1449.7 1030.3 1451.9 1032.2 1454.1 1034.2 1456.2 1036.2 1458 1038 1459.4 1039.5 1460.4 1040.7 1461.4 1042 1462.4 1043.3 1463.6 1044.9 1465.1 1046.6 1466.9 1048.6 1468.8 1050.8 1471 1053.3 1473.4 1055.8 1476.2 1058.2 1479.3 1060.3 1482.5 1062.1 1485.9 1063.7 1489.5 1065.2 1493.5 1066.6 1497.9 1067.7 1502.8 1068.5 1508.4 1069.1 1514.4 1069.3 1520.8 1069.4 1527.3 1069.4 1533.8 1069.5 1540 1070 1542.5 1069.3 1544.3 1067.5 1545 1065 1544.3 1062.5 1542.5 1060.7Z"/><path d="M1459.9 1039.7 1457.6 1040.9 1455.1 1041.8 1452.4 1042.6 1449.6 1043.6 1446.8 1045.1 1444.2 1047.3 1442.1 1050.3 1440.6 1053.7 1439.5 1057.3 1438.3 1060.9 1436.9 1064.1 1435.2 1066.9 1432.8 1069.4 1430.1 1071.7 1427 1074 1423.7 1076.1 1420.4 1078.4 1417.3 1080.7 1417.2 1080.8 1417.2 1080.9 1417.2 1081 1417.3 1081.1 1417.4 1081.1 1417.5 1081.1 1421 1079.3 1424.5 1077.5 1428 1075.7 1431.5 1073.8 1434.7 1071.6 1437.6 1069.1 1440 1065.9 1441.9 1062.3 1443.3 1058.7 1444.7 1055.3 1446.1 1052.5 1447.6 1050.5 1449.4 1049.2 1451.5 1048.3 1453.8 1047.6 1456.4 1047.1 1459.2 1046.7 1462.1 1046.3 1463.6 1045.3 1464.4 1043.7 1464.3 1041.9 1463.3 1040.4 1461.7 1039.6Z"/><path d="M1548.3 1120 1540.1 1120.2 1531.7 1120.1 1523.4 1119.8 1515.3 1119.5 1507.7 1119.1 1500.7 1118.6 1494.7 1117.8 1489.3 1116.7 1484.2 1115.6 1479.2 1114.5 1474 1113.6 1468.4 1113.1 1462.2 1113.1 1455.6 1113.5 1448.9 1114.2 1442.7 1115 1437.2 1115.8 1432.8 1116.4 1429.9 1116.8 1428.1 1117.2 1427 1117.5 1426.4 1117.8 1425.7 1118.1 1424.7 1118.5 1424.6 1118.5 1424.6 1118.6 1424.6 1118.8 1424.6 1118.9 1424.7 1118.9 1424.9 1118.9 1425.9 1118.7 1426.6 1118.5 1427.3 1118.3 1428.3 1118.1 1430 1117.9 1433 1117.8 1437.3 1117.7 1442.9 1117.5 1449.2 1117.4 1455.7 1117.3 1462.2 1117.5 1468 1117.9 1473.1 1118.7 1477.9 1119.9 1482.7 1121.3 1487.8 1122.8 1493.5 1124.3 1499.9 1125.4 1507 1126.3 1514.8 1127 1523 1127.6 1531.3 1128.2 1539.6 1128.9 1547.7 1130 1550.3 1129.5 1552.2 1127.7 1553 1125.3 1552.5 1122.7 1550.7 1120.8Z"/><path d="M1479.7 1114.9 1477.3 1114.1 1475 1113.2 1472.7 1112.2 1470.6 1111.1 1468.4 1110 1466.3 1108.8 1464.4 1107.4 1462.4 1105.8 1460.4 1104.1 1458.2 1102.3 1455.6 1100.8 1452.7 1099.5 1449.4 1098.7 1445.9 1098.2 1442.3 1098 1438.6 1097.8 1434.8 1097.7 1431.2 1097.6 1431.1 1097.6 1431 1097.6 1431 1097.8 1431 1097.9 1431 1098 1431.2 1098 1434.7 1098.8 1438.4 1099.5 1442 1100.1 1445.5 1100.8 1448.7 1101.7 1451.5 1102.7 1453.8 1104 1455.8 1105.5 1457.7 1107.2 1459.5 1109.1 1461.5 1110.9 1463.7 1112.6 1465.9 1114.1 1468.1 1115.5 1470.2 1116.8 1472.4 1118.1 1474.4 1119.5 1476.3 1121.1 1478.1 1121.5 1479.8 1121 1481.1 1119.7 1481.5 1117.9 1481 1116.2Z"/><path d="M1486.4 1117.3 1483.5 1120.6 1480 1123.4 1476.3 1126 1472.7 1128.7 1469.3 1131.5 1466.3 1134.6 1463.7 1137.9 1461.6 1141.2 1459.8 1144.6 1458.2 1148.1 1456.8 1151.6 1455.4 1155 1454.2 1158.6 1453.3 1162.2 1452.5 1165.8 1451.7 1169.4 1451 1173 1450.3 1176.5 1450.3 1176.7 1450.3 1176.8 1450.4 1176.8 1450.6 1176.8 1450.7 1176.8 1450.7 1176.7 1452 1173.2 1453.3 1169.8 1454.5 1166.3 1455.7 1162.9 1457 1159.6 1458.6 1156.4 1460.2 1153.1 1461.9 1149.9 1463.7 1146.8 1465.6 1143.8 1467.7 1140.9 1470.1 1138.2 1472.9 1135.7 1476.1 1133.3 1479.7 1130.9 1483.4 1128.6 1487.4 1126.4 1491.6 1124.7 1493.1 1122.9 1493.5 1120.6 1492.7 1118.4 1490.9 1116.9 1488.6 1116.5Z"/><path d="M1573.8 1125 1573.7 1129.3 1573.7 1133.4 1573.7 1137.5 1573.7 1141.8 1573.7 1146.7 1573.7 1152.5 1573.7 1158.7 1573.8 1165 1573.9 1171.8 1574 1179.5 1574 1188.8 1573.9 1199.9 1573.7 1213.5 1573.5 1229.2 1573.2 1246.4 1572.9 1264.4 1572.5 1282.4 1572.1 1299.8 1571.5 1316.8 1570.9 1333.9 1570.3 1351.1 1569.6 1368.3 1568.9 1385.6 1568.3 1402.8 1568.9 1405.7 1570.9 1407.9 1573.8 1408.7 1576.7 1408.1 1578.9 1406.1 1579.7 1403.2 1580.5 1386 1581.2 1368.8 1582 1351.6 1582.7 1334.3 1583.4 1317.2 1583.9 1300.2 1584.4 1282.7 1584.9 1264.6 1585.3 1246.6 1585.6 1229.4 1585.9 1213.7 1586.1 1200.1 1586.2 1188.8 1586.3 1179.5 1586.2 1171.7 1586.2 1164.8 1586.1 1158.6 1586.1 1152.5 1586.1 1146.8 1586.1 1141.9 1586.2 1137.5 1586.2 1133.5 1586.2 1129.4 1586.2 1125 1585.4 1121.9 1583.1 1119.6 1580 1118.8 1576.9 1119.6 1574.6 1121.9Z"/></g><g fill="#cc85b3"><path d="M1534.4 998C1536 1000.1 1536.9 1009.2 1538.4 1013.4C1540 1017.6 1541.3 1020.6 1543.7 1023C1546 1025.5 1548.8 1027 1552.3 1028.1C1555.9 1029.2 1560.5 1029.8 1564.9 1029.6C1569.2 1029.4 1574.7 1028.6 1578.4 1026.9C1582.1 1025.2 1585 1022.4 1587 1019.2C1589.1 1016 1589.3 1010.2 1590.5 1007.6C1591.7 1005.1 1593.1 1002.5 1594.4 1003.8C1595.7 1005.1 1597.2 1011.2 1598.2 1015.3C1599.3 1019.5 1599 1024.7 1600.5 1028.8C1602 1033 1603 1037.4 1607.3 1040.4C1611.6 1043.4 1620.7 1045.8 1626.4 1046.6C1632 1047.4 1637.6 1045.2 1641 1045.2C1644.4 1045.2 1648.4 1045.5 1646.8 1046.6C1645.2 1047.6 1635.6 1049.4 1631.4 1051.6C1627.2 1053.8 1623.8 1056.1 1621.7 1059.7C1619.7 1063.3 1619.2 1068.7 1618.9 1073.2C1618.5 1077.7 1618.4 1083.1 1619.8 1086.7C1621.3 1090.3 1624 1092.8 1627.5 1094.8C1631.1 1096.7 1637.8 1097.2 1641 1098.2C1644.2 1099.3 1648.4 1100.1 1646.8 1101.1C1645.2 1102.2 1637.2 1103 1631.4 1104.4C1625.6 1105.9 1617.6 1106.7 1612.1 1109.8C1606.6 1113 1602.3 1118.2 1598.6 1123.3C1594.9 1128.5 1593 1136.8 1589.9 1140.7C1586.9 1144.5 1583.7 1146.1 1580.3 1146.5C1576.9 1146.8 1574 1145.2 1569.7 1142.6C1565.3 1140 1560 1133.8 1554.3 1131C1548.5 1128.3 1541.4 1127.5 1535 1126.2C1528.5 1124.9 1520.2 1124.6 1515.7 1123.3C1511.2 1122 1508 1120.4 1508 1118.5C1508 1116.6 1513 1114.8 1515.7 1111.7C1518.4 1108.7 1522.6 1105 1524.4 1100.2C1526.1 1095.4 1526.9 1088.1 1526.3 1082.8C1525.7 1077.5 1522.3 1072.2 1520.5 1068.4C1518.7 1064.5 1514.9 1062.4 1515.7 1059.7C1516.5 1057 1522.6 1055.2 1525.3 1052C1528 1048.8 1530.9 1044.3 1531.9 1040.4C1532.9 1036.5 1532.2 1033.3 1531.1 1028.8C1530 1024.3 1526.9 1017.6 1525.3 1013.4C1523.7 1009.2 1520.9 1005.9 1521.5 1003.8C1522 1001.7 1526.5 1001.8 1528.6 1000.9C1530.8 999.9 1532.8 995.9 1534.4 998Z"/><path d="M1599.1 1040 1598.7 1034.8 1598.4 1029.5 1598.3 1024.2 1598.2 1019 1598.1 1013.9 1598 1009 1597.7 1004.3 1597.4 1000 1597 995.9 1596.6 991.9 1596.3 987.9 1596.2 983.9 1596.4 979.8 1596.9 975.5 1597.5 970.9 1598 966.2 1598 961.3 1597.3 956.4 1595.7 951.9 1593.6 947.7 1591.1 943.9 1588.4 940 1585.5 936.1 1582.6 931.8 1579.5 927.1 1576.1 922.1 1572.4 916.9 1568.7 911.6 1565 906.3 1561.3 901.2 1561.2 901.1 1561.1 901.1 1561 901.1 1560.9 901.2 1560.9 901.3 1560.9 901.4 1563.9 907 1567 912.7 1570.2 918.3 1573.2 923.9 1576.1 929.2 1578.8 934.2 1581.4 938.8 1583.9 943 1586.3 946.9 1588.3 950.6 1589.8 954.2 1590.7 957.8 1591.1 961.6 1590.8 965.6 1590.1 969.8 1589.2 974.3 1588.4 979 1588 983.7 1588 988.2 1588.1 992.4 1588.3 996.5 1588.5 1000.6 1588.7 1004.8 1588.8 1009.2 1588.8 1014 1588.8 1019 1588.6 1024.2 1588.5 1029.5 1588.1 1034.8 1587.7 1040 1588.4 1042.9 1590.5 1045 1593.4 1045.7 1596.3 1045 1598.4 1042.9Z"/><path d="M1596.9 960 1598.4 957.7 1600.1 955.4 1601.9 953.3 1603.8 951.2 1605.6 949.1 1607.4 947 1609.4 945 1611.7 943 1614.1 940.9 1616.2 938.6 1617.9 936.1 1618.8 933.2 1618.5 930.1 1617.3 927.1 1615.7 924.1 1613.7 921.1 1611.8 918.1 1610.1 915.2 1610 915.1 1609.9 915.1 1609.8 915.1 1609.7 915.2 1609.7 915.3 1609.7 915.4 1611 918.5 1612.6 921.7 1614.1 924.9 1615.4 927.9 1616.2 930.6 1616.2 932.8 1615.5 934.8 1614 936.6 1611.9 938.5 1609.5 940.4 1607 942.3 1604.8 944.4 1602.8 946.5 1600.8 948.5 1598.9 950.5 1596.9 952.4 1594.8 954.3 1592.5 956 1591.8 957.3 1591.8 958.9 1592.7 960.2 1594 960.9 1595.6 960.9Z"/><path d="M1599 993.4 1602.2 990.5 1605.7 988 1609.1 985.7 1612.7 983.4 1616.2 981.3 1619.7 979.4 1623.4 977.7 1627.3 976.3 1631.3 974.9 1635.2 973.4 1639 971.7 1642.3 969.7 1645.2 967.2 1647.7 964.6 1649.8 961.8 1651.7 959 1653.6 956.2 1655.7 953.5 1655.7 953.3 1655.7 953.2 1655.7 953.1 1655.5 953.1 1655.4 953.1 1655.3 953.1 1652.9 955.6 1650.7 958.2 1648.4 960.8 1646.1 963.2 1643.6 965.4 1640.9 967.3 1637.6 968.9 1634 970.2 1630.1 971.4 1626 972.5 1621.9 973.8 1617.9 975.4 1614 977.2 1610.3 979.2 1606.5 981.3 1602.8 983.3 1599 985.2 1595 986.6 1593.5 988 1593 990 1593.6 992 1595 993.5 1597 994Z"/><path d="M1590.3 1054.7 1597.4 1053.7 1604.6 1052.9 1611.9 1052.3 1619 1051.8 1625.7 1051.2 1631.7 1050.7 1636.9 1050.1 1641.3 1049.6 1645.3 1049 1649.1 1048.5 1652.9 1048.1 1657 1047.6 1661.4 1047.4 1666 1047.4 1670.9 1047.4 1675.8 1047.3 1680.7 1046.7 1685.3 1045.6 1689.7 1043.8 1693.8 1041.5 1697.6 1038.9 1701.3 1036.1 1704.8 1033.3 1708.3 1030.5 1711.8 1027.8 1715.1 1024.9 1718.3 1022 1721.5 1019 1724.7 1016 1728 1013.1 1728 1013 1728 1012.9 1728 1012.7 1727.9 1012.7 1727.8 1012.7 1727.6 1012.7 1724.2 1015.3 1720.7 1018 1717.3 1020.7 1713.8 1023.3 1710.3 1025.8 1706.7 1028.3 1703 1030.8 1699.3 1033.3 1695.5 1035.8 1691.8 1038 1687.9 1039.9 1684.1 1041.2 1680 1041.9 1675.6 1042.1 1670.9 1042 1666.2 1041.8 1661.4 1041.5 1656.6 1041.6 1652.3 1041.8 1648.4 1042.2 1644.6 1042.6 1640.6 1043 1636.2 1043.3 1631.1 1043.7 1625.2 1044.1 1618.5 1044.5 1611.5 1044.9 1604.1 1045.2 1596.8 1045.4 1589.7 1045.3 1587.4 1046.1 1585.7 1047.9 1585.3 1050.3 1586.1 1052.6 1587.9 1054.3Z"/><path d="M1662.8 1044.4 1663.3 1040.6 1664.4 1037.1 1665.8 1033.5 1667.1 1029.9 1668.2 1026.1 1669 1022.1 1669.3 1017.8 1669.1 1013.4 1668.6 1009.1 1668.2 1004.8 1668 1000.6 1668.4 996.7 1669.3 992.8 1670.6 989 1672.2 985.2 1674 981.4 1675.7 977.6 1677.3 973.7 1677.3 973.6 1677.3 973.5 1677.2 973.4 1677.1 973.4 1677 973.4 1676.9 973.5 1674.9 977.2 1672.8 980.8 1670.6 984.4 1668.6 988.2 1666.9 992.1 1665.6 996.1 1665 1000.4 1664.9 1004.9 1665.1 1009.3 1665.3 1013.7 1665.3 1017.7 1665 1021.5 1664.1 1025 1662.9 1028.4 1661.5 1031.8 1659.9 1035.1 1658.1 1038.4 1655.8 1041.6 1655.6 1043.6 1656.4 1045.3 1657.9 1046.5 1659.9 1046.7 1661.6 1045.9Z"/><path d="M1683.4 1047.6 1687.6 1048.7 1691.8 1050.2 1695.9 1051.9 1699.8 1053.5 1703.5 1055 1706.7 1056.4 1709.3 1057.8 1711.5 1059.1 1713.4 1060.3 1715.4 1061.6 1717.5 1062.6 1719.8 1063.5 1722.3 1064.2 1724.9 1064.5 1727.5 1064.7 1730.2 1064.9 1732.8 1065 1735.4 1065.1 1735.5 1065.1 1735.6 1065.1 1735.6 1064.9 1735.6 1064.8 1735.6 1064.7 1735.4 1064.7 1732.9 1064.1 1730.3 1063.7 1727.7 1063.2 1725.2 1062.7 1722.8 1062.1 1720.6 1061.3 1718.7 1060.3 1716.9 1059.1 1715.2 1057.8 1713.3 1056.4 1711.1 1054.8 1708.3 1053.2 1705.1 1051.5 1701.5 1049.7 1697.6 1047.9 1693.6 1046 1689.7 1044 1686 1041.6 1684.4 1041.4 1682.8 1042 1681.7 1043.3 1681.5 1044.9 1682.1 1046.5Z"/><path d="M1600.3 1104.7 1606.6 1103.7 1613.1 1102.9 1619.5 1102.2 1625.8 1101.7 1631.6 1101.3 1636.7 1101.3 1641.2 1101.6 1645.1 1102.4 1648.9 1103.3 1652.6 1104.3 1656.6 1105.2 1660.7 1105.6 1664.9 1105.8 1669.3 1105.9 1673.6 1105.8 1677.9 1105.4 1682.1 1104.5 1686 1103.1 1689.5 1101 1692.7 1098.3 1695.7 1095.2 1698.3 1092 1700.5 1088.7 1702.2 1085.6 1703.4 1082.5 1704.1 1079.4 1704.3 1076.3 1704.4 1073.3 1704.4 1070.3 1704.6 1067.3 1704.6 1067.2 1704.6 1067.1 1704.4 1067.1 1704.3 1067.1 1704.2 1067.1 1704.2 1067.3 1703.6 1070.2 1703.2 1073.2 1702.9 1076.2 1702.4 1079.1 1701.5 1081.8 1700.2 1084.4 1698.3 1087.2 1695.9 1090.1 1693.2 1092.9 1690.3 1095.5 1687.3 1097.6 1684.2 1099.1 1681 1100.1 1677.4 1100.5 1673.5 1100.7 1669.4 1100.5 1665.3 1100.2 1661.3 1099.8 1657.7 1099.2 1654.2 1098.3 1650.6 1097.1 1646.6 1095.9 1642.2 1094.9 1637.1 1094.3 1631.4 1094.2 1625.3 1094.4 1619 1094.7 1612.4 1095.1 1606 1095.4 1599.7 1095.3 1597.3 1096.1 1595.7 1097.9 1595.3 1100.3 1596.1 1102.7 1597.9 1104.3Z"/><path d="M1667.8 1107.8 1670.8 1109.7 1673.5 1111.9 1675.9 1114.2 1678.4 1116.6 1680.9 1119.1 1683.4 1121.8 1686.2 1124.8 1689.1 1127.9 1692.1 1131 1695 1134.2 1697.7 1137.4 1700 1140.4 1701.9 1143.2 1703.5 1146 1704.9 1148.9 1706.2 1151.7 1707.5 1154.5 1709 1157.4 1709 1157.5 1709.2 1157.5 1709.3 1157.5 1709.4 1157.5 1709.4 1157.3 1709.4 1157.2 1708.4 1154.2 1707.5 1151.2 1706.5 1148.2 1705.4 1145.2 1704.1 1142.1 1702.4 1138.8 1700.2 1135.5 1697.7 1132 1695 1128.6 1692.2 1125.1 1689.4 1121.9 1686.8 1118.8 1684.3 1115.9 1682 1113.2 1679.6 1110.6 1677.4 1108 1675.3 1105.3 1673.6 1102.2 1671.8 1101.2 1669.8 1101.1 1667.9 1102.1 1666.9 1103.9 1666.8 1105.9Z"/><path d="M1542.5 1033.6 1540.7 1028.5 1539 1023.3 1537.3 1018.2 1535.9 1013.2 1534.7 1008.4 1533.9 1003.8 1533.4 999.3 1533.2 994.8 1533.2 990.3 1533.4 986 1533.7 982 1534 978.4 1534.6 975.4 1535.4 972.8 1536.4 970.3 1537.4 967.7 1538.2 965 1538.5 962 1538.3 959.1 1537.8 956.2 1536.9 953.4 1535.9 950.7 1534.5 948.2 1532.9 946.1 1531 944.5 1528.8 943.3 1526.4 942.5 1524 941.8 1521.6 941.2 1519.3 940.4 1519.2 940.4 1519.1 940.4 1519 940.5 1519 940.6 1519 940.7 1519.1 940.8 1521.2 942 1523.5 943 1525.8 944 1527.8 945.1 1529.6 946.4 1530.9 947.9 1531.9 949.7 1532.8 951.9 1533.4 954.4 1533.8 956.9 1534 959.4 1533.9 961.8 1533.4 963.8 1532.6 965.7 1531.4 968 1530 970.6 1528.7 973.7 1527.8 977.2 1527 981.1 1526.4 985.4 1525.9 989.9 1525.5 994.7 1525.4 999.7 1525.7 1004.8 1526.4 1009.9 1527.4 1015.2 1528.6 1020.6 1529.9 1025.9 1531 1031.1 1531.9 1036.4 1533.3 1038.9 1535.7 1040.3 1538.6 1040.3 1541.1 1038.9 1542.5 1036.5Z"/><path d="M1549.8 1042.3 1546.4 1037.4 1543.1 1032.2 1540 1027 1537 1021.9 1534.1 1017.1 1531.3 1012.7 1528.8 1008.8 1526.5 1005.1 1524.2 1001.7 1522.1 998.6 1519.9 995.7 1517.7 993.2 1515.3 991.1 1512.9 989.5 1510.7 988.5 1508.8 987.7 1507.3 987.1 1506 986.5 1505.2 986 1504.7 985.7 1504.2 985.3 1503.3 984.6 1501.9 983.7 1499.6 982.5 1496.4 980.7 1492.4 978.7 1487.9 976.3 1483 973.9 1478.2 971.3 1473.6 968.6 1469.1 965.9 1464.6 962.9 1460 959.8 1455.4 956.7 1450.7 953.6 1446 950.5 1445.9 950.5 1445.8 950.5 1445.7 950.6 1445.7 950.7 1445.7 950.8 1445.8 950.9 1450 954.5 1454.3 958.1 1458.5 961.8 1462.8 965.3 1467.1 968.7 1471.4 972 1475.9 975.1 1480.5 978.2 1485.2 981.1 1489.5 983.7 1493.4 986.1 1496.4 987.9 1498.3 989.3 1499.5 990.1 1500 990.5 1500.5 991 1501.3 991.6 1502.6 992.5 1504.3 993.4 1506.1 994.2 1507.7 995 1509.2 995.8 1510.6 996.9 1512.1 998.4 1513.8 1000.5 1515.6 1003.1 1517.5 1006 1519.5 1009.4 1521.7 1013.1 1524.1 1017.1 1526.6 1021.5 1529.3 1026.3 1532.1 1031.5 1535 1036.9 1537.7 1042.3 1540.2 1047.7 1542.2 1049.7 1545 1050.5 1547.7 1049.8 1549.7 1047.8 1550.5 1045Z"/><path d="M1509.8 990.7 1507.8 987.7 1506.2 984.6 1504.8 981.5 1503.7 978.4 1502.8 975.4 1502.4 972.4 1502.3 969.1 1502.4 965.6 1502.7 962.1 1503.3 958.7 1504.3 955.3 1505.7 952 1507.7 948.9 1510.2 945.7 1513.2 942.5 1516.4 939.4 1519.6 936.1 1522.6 932.9 1522.6 932.8 1522.6 932.6 1522.6 932.5 1522.5 932.5 1522.3 932.5 1522.2 932.5 1518.9 935.4 1515.3 938.2 1511.8 941 1508.4 943.9 1505.4 947 1502.9 950.4 1501 953.9 1499.7 957.7 1498.7 961.4 1498.1 965.2 1497.8 969 1497.8 972.6 1498.2 976.3 1499 979.8 1500 983.2 1501.1 986.6 1502 989.8 1502.2 993.3 1503.4 995 1505.2 995.9 1507.3 995.8 1509 994.6 1509.9 992.8Z"/><path d="M1501.8 985.8 1496.9 987.1 1491.8 987.6 1486.6 988 1481.6 988.4 1476.8 988.8 1472.2 989.4 1467.9 990.3 1463.7 991.6 1460 992.9 1456.6 994 1453.8 994.6 1451.6 994.6 1449.9 993.8 1448.5 992.3 1447.4 990.2 1446.3 987.8 1445.3 985.2 1444 983 1443.9 982.9 1443.8 982.9 1443.7 982.9 1443.6 983 1443.6 983.1 1443.6 983.2 1444.5 985.6 1445.2 988.2 1445.9 990.8 1446.9 993.3 1448.4 995.5 1450.8 997 1453.9 997.5 1457.3 997.1 1461 996.3 1464.8 995.3 1468.8 994.4 1472.8 993.8 1477.1 993.6 1481.9 993.4 1486.9 993.3 1492 993.2 1497.1 993.4 1502.2 994.2 1504.3 993.6 1505.8 991.9 1506.2 989.8 1505.6 987.7 1503.9 986.2Z"/><path d="M1540 1060 1533.6 1060.6 1527.1 1061 1520.7 1061.3 1514.5 1061.5 1508.8 1061.4 1503.8 1061.1 1499.4 1060.4 1495.4 1059.6 1491.9 1058.5 1488.6 1057.3 1485.6 1056 1482.7 1054.5 1480.1 1052.9 1477.6 1051 1475.4 1049 1473.2 1046.8 1471.2 1044.7 1469.3 1042.8 1467.7 1041.2 1466.6 1039.9 1465.5 1038.7 1464.4 1037.4 1463.1 1035.9 1461.4 1034.4 1459.4 1032.7 1457.2 1030.8 1454.7 1028.8 1452.1 1026.9 1449.4 1025.2 1446.7 1023.9 1443.9 1023 1441.1 1022.4 1438.3 1022 1435.5 1021.8 1432.7 1021.9 1429.8 1022.3 1427 1023 1424.2 1024.1 1421.5 1025.4 1418.8 1026.8 1416.1 1028.3 1413.4 1029.6 1413.3 1029.6 1413.3 1029.8 1413.3 1029.9 1413.3 1030 1413.5 1030 1413.6 1030 1416.4 1029 1419.3 1027.9 1422.1 1026.7 1424.9 1025.7 1427.5 1024.9 1430.2 1024.5 1432.8 1024.4 1435.4 1024.6 1437.9 1024.9 1440.4 1025.5 1442.8 1026.3 1445.1 1027.3 1447.4 1028.6 1449.7 1030.3 1451.9 1032.2 1454.1 1034.2 1456.2 1036.2 1458 1038 1459.4 1039.5 1460.4 1040.7 1461.4 1042 1462.4 1043.3 1463.6 1044.9 1465.1 1046.6 1466.9 1048.6 1468.8 1050.8 1471 1053.3 1473.4 1055.8 1476.2 1058.2 1479.3 1060.3 1482.5 1062.1 1485.9 1063.7 1489.5 1065.2 1493.5 1066.6 1497.9 1067.7 1502.8 1068.5 1508.4 1069.1 1514.4 1069.3 1520.8 1069.4 1527.3 1069.4 1533.8 1069.5 1540 1070 1542.5 1069.3 1544.3 1067.5 1545 1065 1544.3 1062.5 1542.5 1060.7Z"/><path d="M1459.9 1039.7 1457.6 1040.9 1455.1 1041.8 1452.4 1042.6 1449.6 1043.6 1446.8 1045.1 1444.2 1047.3 1442.1 1050.3 1440.6 1053.7 1439.5 1057.3 1438.3 1060.9 1436.9 1064.1 1435.2 1066.9 1432.8 1069.4 1430.1 1071.7 1427 1074 1423.7 1076.1 1420.4 1078.4 1417.3 1080.7 1417.2 1080.8 1417.2 1080.9 1417.2 1081 1417.3 1081.1 1417.4 1081.1 1417.5 1081.1 1421 1079.3 1424.5 1077.5 1428 1075.7 1431.5 1073.8 1434.7 1071.6 1437.6 1069.1 1440 1065.9 1441.9 1062.3 1443.3 1058.7 1444.7 1055.3 1446.1 1052.5 1447.6 1050.5 1449.4 1049.2 1451.5 1048.3 1453.8 1047.6 1456.4 1047.1 1459.2 1046.7 1462.1 1046.3 1463.6 1045.3 1464.4 1043.7 1464.3 1041.9 1463.3 1040.4 1461.7 1039.6Z"/><path d="M1548.3 1120 1540.1 1120.2 1531.7 1120.1 1523.4 1119.8 1515.3 1119.5 1507.7 1119.1 1500.7 1118.6 1494.7 1117.8 1489.3 1116.7 1484.2 1115.6 1479.2 1114.5 1474 1113.6 1468.4 1113.1 1462.2 1113.1 1455.6 1113.5 1448.9 1114.2 1442.7 1115 1437.2 1115.8 1432.8 1116.4 1429.9 1116.8 1428.1 1117.2 1427 1117.5 1426.4 1117.8 1425.7 1118.1 1424.7 1118.5 1424.6 1118.5 1424.6 1118.6 1424.6 1118.8 1424.6 1118.9 1424.7 1118.9 1424.9 1118.9 1425.9 1118.7 1426.6 1118.5 1427.3 1118.3 1428.3 1118.1 1430 1117.9 1433 1117.8 1437.3 1117.7 1442.9 1117.5 1449.2 1117.4 1455.7 1117.3 1462.2 1117.5 1468 1117.9 1473.1 1118.7 1477.9 1119.9 1482.7 1121.3 1487.8 1122.8 1493.5 1124.3 1499.9 1125.4 1507 1126.3 1514.8 1127 1523 1127.6 1531.3 1128.2 1539.6 1128.9 1547.7 1130 1550.3 1129.5 1552.2 1127.7 1553 1125.3 1552.5 1122.7 1550.7 1120.8Z"/><path d="M1479.7 1114.9 1477.3 1114.1 1475 1113.2 1472.7 1112.2 1470.6 1111.1 1468.4 1110 1466.3 1108.8 1464.4 1107.4 1462.4 1105.8 1460.4 1104.1 1458.2 1102.3 1455.6 1100.8 1452.7 1099.5 1449.4 1098.7 1445.9 1098.2 1442.3 1098 1438.6 1097.8 1434.8 1097.7 1431.2 1097.6 1431.1 1097.6 1431 1097.6 1431 1097.8 1431 1097.9 1431 1098 1431.2 1098 1434.7 1098.8 1438.4 1099.5 1442 1100.1 1445.5 1100.8 1448.7 1101.7 1451.5 1102.7 1453.8 1104 1455.8 1105.5 1457.7 1107.2 1459.5 1109.1 1461.5 1110.9 1463.7 1112.6 1465.9 1114.1 1468.1 1115.5 1470.2 1116.8 1472.4 1118.1 1474.4 1119.5 1476.3 1121.1 1478.1 1121.5 1479.8 1121 1481.1 1119.7 1481.5 1117.9 1481 1116.2Z"/><path d="M1486.4 1117.3 1483.5 1120.6 1480 1123.4 1476.3 1126 1472.7 1128.7 1469.3 1131.5 1466.3 1134.6 1463.7 1137.9 1461.6 1141.2 1459.8 1144.6 1458.2 1148.1 1456.8 1151.6 1455.4 1155 1454.2 1158.6 1453.3 1162.2 1452.5 1165.8 1451.7 1169.4 1451 1173 1450.3 1176.5 1450.3 1176.7 1450.3 1176.8 1450.4 1176.8 1450.6 1176.8 1450.7 1176.8 1450.7 1176.7 1452 1173.2 1453.3 1169.8 1454.5 1166.3 1455.7 1162.9 1457 1159.6 1458.6 1156.4 1460.2 1153.1 1461.9 1149.9 1463.7 1146.8 1465.6 1143.8 1467.7 1140.9 1470.1 1138.2 1472.9 1135.7 1476.1 1133.3 1479.7 1130.9 1483.4 1128.6 1487.4 1126.4 1491.6 1124.7 1493.1 1122.9 1493.5 1120.6 1492.7 1118.4 1490.9 1116.9 1488.6 1116.5Z"/><path d="M1573.8 1125 1573.7 1129.3 1573.7 1133.4 1573.7 1137.5 1573.7 1141.8 1573.7 1146.7 1573.7 1152.5 1573.7 1158.7 1573.8 1165 1573.9 1171.8 1574 1179.5 1574 1188.8 1573.9 1199.9 1573.7 1213.5 1573.5 1229.2 1573.2 1246.4 1572.9 1264.4 1572.5 1282.4 1572.1 1299.8 1571.5 1316.8 1570.9 1333.9 1570.3 1351.1 1569.6 1368.3 1568.9 1385.6 1568.3 1402.8 1568.9 1405.7 1570.9 1407.9 1573.8 1408.7 1576.7 1408.1 1578.9 1406.1 1579.7 1403.2 1580.5 1386 1581.2 1368.8 1582 1351.6 1582.7 1334.3 1583.4 1317.2 1583.9 1300.2 1584.4 1282.7 1584.9 1264.6 1585.3 1246.6 1585.6 1229.4 1585.9 1213.7 1586.1 1200.1 1586.2 1188.8 1586.3 1179.5 1586.2 1171.7 1586.2 1164.8 1586.1 1158.6 1586.1 1152.5 1586.1 1146.8 1586.1 1141.9 1586.2 1137.5 1586.2 1133.5 1586.2 1129.4 1586.2 1125 1585.4 1121.9 1583.1 1119.6 1580 1118.8 1576.9 1119.6 1574.6 1121.9Z"/></g><circle cx="1563" cy="1079.4" r="20" fill="#a85c9f"/><circle cx="1563" cy="1079.8" r="15" fill="#b56bad" fill-opacity="0.8"/><circle cx="1563.5" cy="1081.5" r="6.2" fill="#45134f"/><g fill="none" stroke="#87407d" stroke-linecap="round"><path d="M1573.6 1406.3C1573.4 1411.9 1572.8 1417.7 1573 1423C1573.3 1428.3 1574.5 1433.1 1575.2 1438.2" stroke-width="7.3" stroke-dasharray="6 10 12 9"/><path d="M1578.2 1423C1578.7 1433.1 1579.4 1445.3 1579.7 1453.4C1580.1 1461.5 1580.1 1465.5 1580.3 1471.6" stroke-width="6.8" stroke-dasharray="14 9 8 10"/><path d="M1573.6 1462.5C1575.2 1469.6 1576.7 1476.1 1578.2 1483.7C1579.7 1491.3 1581.2 1499.9 1582.8 1508" stroke-width="7.3" stroke-dasharray="10 9 8 10"/><path d="M1576.7 1483.7C1577.9 1493.9 1579.7 1505 1580.3 1514.1C1580.9 1523.2 1580.3 1530.3 1580.3 1538.4" stroke-width="6.3" stroke-dasharray="6 9 10 8"/><path d="M1579.7 1538.4C1578.7 1541.4 1578.2 1544.5 1576.7 1547.5C1575.2 1550.6 1573.1 1551.6 1570.6 1556.6C1568.1 1561.7 1565.5 1570.8 1561.5 1577.9C1557.4 1585 1551.9 1593.6 1546.3 1599.2C1540.7 1604.7 1535.7 1606.2 1528.1 1611.3C1520.5 1616.4 1510.4 1624 1500.7 1629.5C1491.1 1635.1 1480.5 1639.7 1470.4 1644.7" stroke-width="6.8" stroke-dasharray="12 9 8 8 14 10 6 9"/><path d="M1540.2 1599.2C1541.2 1606.2 1541.2 1612.3 1543.3 1620.4C1545.3 1628.5 1548.8 1638.1 1552.4 1647.8C1555.9 1657.4 1560.5 1668 1564.5 1678.1" stroke-width="6.3" stroke-dasharray="9 9 11 8 6 8"/><path d="M1588.8 1556.6C1592.9 1564.7 1596.4 1573.3 1601 1580.9C1605.5 1588.5 1610.6 1598.7 1616.2 1602.2C1621.7 1605.7 1628.3 1602.7 1634.4 1602.2C1640.5 1601.7 1646.5 1600.2 1652.6 1599.2" stroke-width="6.8" stroke-dasharray="12 9 9 9 14 8"/><path d="M1616.2 1605.2C1618.2 1610.3 1618.7 1613.8 1622.2 1620.4C1625.8 1627 1633.4 1640.2 1637.4 1644.7C1641.5 1649.3 1643.5 1646.7 1646.5 1647.8" stroke-width="5.8" stroke-dasharray="6 8 8 9"/><path d="M1604 1614.3C1602 1619.4 1601 1624 1597.9 1629.5C1594.9 1635.1 1589.8 1643.7 1585.8 1647.8C1581.7 1651.8 1577.7 1651.8 1573.6 1653.8" stroke-width="5.8" stroke-dasharray="7 8 9 8"/><path d="M1531.1 1605.2C1527.1 1602.2 1523 1599.2 1519 1596.1" stroke-width="5.3" stroke-dasharray="5 8"/><path d="M1637.4 1620.4C1642.5 1623.5 1647.6 1626.5 1652.6 1629.5" stroke-width="4.8" stroke-dasharray="4 8"/></g><g fill="none" stroke="#cc85b3" stroke-linecap="round"><path d="M1573.6 1406.3C1573.4 1411.9 1572.8 1417.7 1573 1423C1573.3 1428.3 1574.5 1433.1 1575.2 1438.2" stroke-width="5.5" stroke-dasharray="6 10 12 9"/><path d="M1578.2 1423C1578.7 1433.1 1579.4 1445.3 1579.7 1453.4C1580.1 1461.5 1580.1 1465.5 1580.3 1471.6" stroke-width="5" stroke-dasharray="14 9 8 10"/><path d="M1573.6 1462.5C1575.2 1469.6 1576.7 1476.1 1578.2 1483.7C1579.7 1491.3 1581.2 1499.9 1582.8 1508" stroke-width="5.5" stroke-dasharray="10 9 8 10"/><path d="M1576.7 1483.7C1577.9 1493.9 1579.7 1505 1580.3 1514.1C1580.9 1523.2 1580.3 1530.3 1580.3 1538.4" stroke-width="4.5" stroke-dasharray="6 9 10 8"/><path d="M1579.7 1538.4C1578.7 1541.4 1578.2 1544.5 1576.7 1547.5C1575.2 1550.6 1573.1 1551.6 1570.6 1556.6C1568.1 1561.7 1565.5 1570.8 1561.5 1577.9C1557.4 1585 1551.9 1593.6 1546.3 1599.2C1540.7 1604.7 1535.7 1606.2 1528.1 1611.3C1520.5 1616.4 1510.4 1624 1500.7 1629.5C1491.1 1635.1 1480.5 1639.7 1470.4 1644.7" stroke-width="5" stroke-dasharray="12 9 8 8 14 10 6 9"/><path d="M1540.2 1599.2C1541.2 1606.2 1541.2 1612.3 1543.3 1620.4C1545.3 1628.5 1548.8 1638.1 1552.4 1647.8C1555.9 1657.4 1560.5 1668 1564.5 1678.1" stroke-width="4.5" stroke-dasharray="9 9 11 8 6 8"/><path d="M1588.8 1556.6C1592.9 1564.7 1596.4 1573.3 1601 1580.9C1605.5 1588.5 1610.6 1598.7 1616.2 1602.2C1621.7 1605.7 1628.3 1602.7 1634.4 1602.2C1640.5 1601.7 1646.5 1600.2 1652.6 1599.2" stroke-width="5" stroke-dasharray="12 9 9 9 14 8"/><path d="M1616.2 1605.2C1618.2 1610.3 1618.7 1613.8 1622.2 1620.4C1625.8 1627 1633.4 1640.2 1637.4 1644.7C1641.5 1649.3 1643.5 1646.7 1646.5 1647.8" stroke-width="4" stroke-dasharray="6 8 8 9"/><path d="M1604 1614.3C1602 1619.4 1601 1624 1597.9 1629.5C1594.9 1635.1 1589.8 1643.7 1585.8 1647.8C1581.7 1651.8 1577.7 1651.8 1573.6 1653.8" stroke-width="4" stroke-dasharray="7 8 9 8"/><path d="M1531.1 1605.2C1527.1 1602.2 1523 1599.2 1519 1596.1" stroke-width="3.5" stroke-dasharray="5 8"/><path d="M1637.4 1620.4C1642.5 1623.5 1647.6 1626.5 1652.6 1629.5" stroke-width="3" stroke-dasharray="4 8"/></g><circle cx="1470.4" cy="1644.7" r="6.5" fill="#cc85b3" stroke="#87407d" stroke-width="1.1"/><circle cx="1564.5" cy="1676.6" r="6.5" fill="#cc85b3" stroke="#87407d" stroke-width="1.1"/><circle cx="1652.6" cy="1599.2" r="7.5" fill="#cc85b3" stroke="#87407d" stroke-width="1.1"/><circle cx="1515.9" cy="1635.6" r="2.5" fill="#cc85b3" stroke="#87407d" stroke-width="1.1"/><circle cx="1640.5" cy="1647.8" r="2.2" fill="#cc85b3" stroke="#87407d" stroke-width="1.1"/><circle cx="1649.6" cy="1641.7" r="2" fill="#cc85b3" stroke="#87407d" stroke-width="1.1"/>
<polygon points="1280,942.5 1562,1057 1559,1060 1280,1082.5" fill="#e9f1fa" fill-opacity="0.72"/>
<line x1="1282" y1="943.5" x2="1561" y2="1057" stroke="#ffffff" stroke-opacity="0.6" stroke-width="1.5"/>
<rect x="1528" y="1413.8" width="96.6" height="104.8" fill="none" stroke="#222" stroke-width="2.6"/>
<text x="1383.4" y="691.5" font-size="31.5" text-anchor="start" font-weight="bold" fill="#0d0d0d" textLength="445" lengthAdjust="spacingAndGlyphs">Astrocyte activation, elevated</text>
<text x="1402.1" y="734.3" font-size="31.5" text-anchor="start" font-weight="bold" fill="#0d0d0d" textLength="405" lengthAdjust="spacingAndGlyphs">glutamate release, NMDAR</text>
<text x="1532" y="775" font-size="31.5" text-anchor="start" font-weight="bold" fill="#0d0d0d" textLength="146.8" lengthAdjust="spacingAndGlyphs">activation</text>
<text x="933" y="981.4" font-size="31" text-anchor="start" font-weight="bold" fill="#0d0d0d" textLength="279" lengthAdjust="spacingAndGlyphs">Dendritic swelling,</text>
<text x="904" y="1024.3" font-size="31" text-anchor="start" font-weight="bold" fill="#0d0d0d" textLength="337" lengthAdjust="spacingAndGlyphs">loss of dendritic spine,</text>
<text x="946.5" y="1066.2" font-size="31" text-anchor="start" font-weight="bold" fill="#0d0d0d" textLength="253.1" lengthAdjust="spacingAndGlyphs">and synaptic loss</text>
<text x="99.7" y="1236" font-size="30.5" text-anchor="start" font-weight="bold" fill="#0d0d0d" textLength="486.3" lengthAdjust="spacingAndGlyphs">Microglial activation, pyroptosis,</text>
<text x="164.9" y="1279" font-size="30.5" text-anchor="start" font-weight="bold" fill="#0d0d0d" textLength="354.5" lengthAdjust="spacingAndGlyphs">morphological changes,</text>
<text x="122.6" y="1320" font-size="30.5" text-anchor="start" font-weight="bold" fill="#0d0d0d" textLength="439.8" lengthAdjust="spacingAndGlyphs">elevated NO, TNF, IL-1B levels</text>
<text x="1620.9" y="1280.8" font-size="52" text-anchor="start" font-weight="bold" fill="#f5000b" textLength="222.6" lengthAdjust="spacingAndGlyphs">Neuronal</text>
<text x="1636.8" y="1350" font-size="52" text-anchor="start" font-weight="bold" fill="#f5000b" textLength="189.7" lengthAdjust="spacingAndGlyphs">damage</text>
<text x="68.1" y="273" font-size="29.5" text-anchor="start" fill="#111" textLength="117.8" lengthAdjust="spacingAndGlyphs" stroke="#111" stroke-width="0.45">microglia</text>
<text x="1700" y="500" font-size="29.5" text-anchor="start" fill="#111" textLength="136" lengthAdjust="spacingAndGlyphs" stroke="#111" stroke-width="0.45">Astrocyte</text>
<text x="863.6" y="1363.6" font-size="29" text-anchor="start" fill="#111" textLength="165.6" lengthAdjust="spacingAndGlyphs" stroke="#111" stroke-width="0.45">Excessive Ca</text>
<text x="1029.4" y="1352.5" font-size="18.5" text-anchor="start" fill="#111" textLength="20.6" lengthAdjust="spacingAndGlyphs" stroke="#111" stroke-width="0.45">2+</text>
<text x="1058.2" y="1363.6" font-size="29" text-anchor="start" fill="#111" textLength="98.9" lengthAdjust="spacingAndGlyphs" stroke="#111" stroke-width="0.45">loading</text>
<text x="845.8" y="1608.5" font-size="30" text-anchor="start" font-style="italic" fill="#111" textLength="302.2" lengthAdjust="spacingAndGlyphs" stroke="#111" stroke-width="0.45">Mitochondrial damage</text>
<text x="1275" y="1545" font-size="43.5" text-anchor="start" fill="#111" textLength="58" lengthAdjust="spacingAndGlyphs" stroke="#111" stroke-width="0.45">AIF</text></svg></body></html>
